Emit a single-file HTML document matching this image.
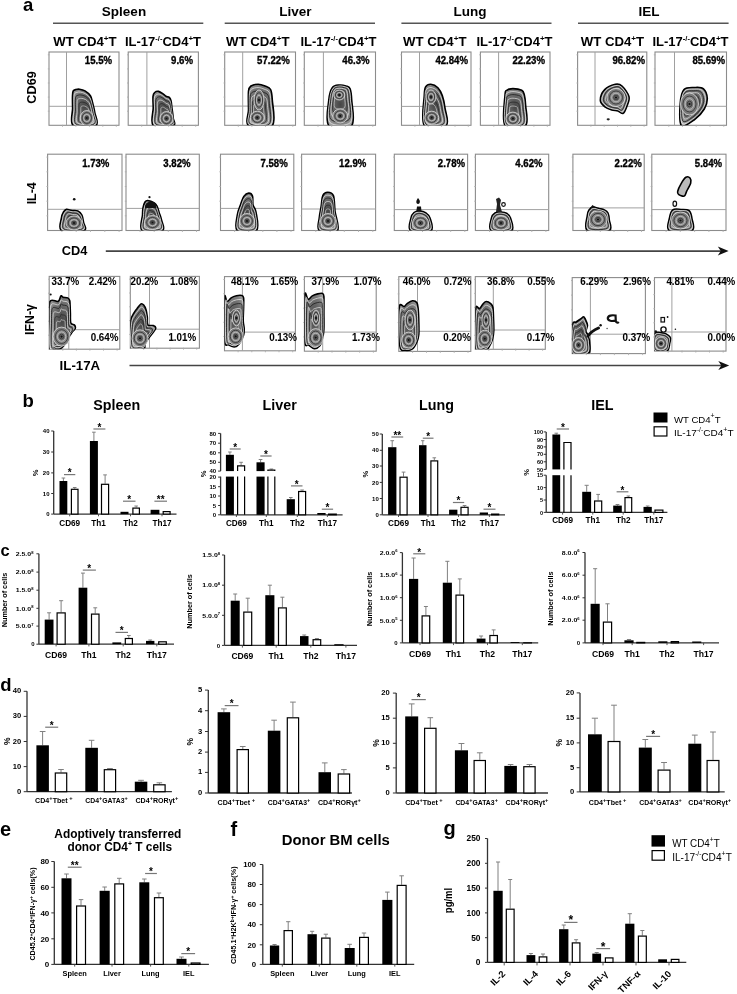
<!DOCTYPE html>
<html><head><meta charset="utf-8"><style>
html,body{margin:0;padding:0;background:#fff;}
svg{display:block;filter:grayscale(1) blur(0.35px);font-family:"Liberation Sans", sans-serif;}
</style></head><body>
<svg width="737" height="994" viewBox="0 0 737 994">
<defs><radialGradient id="bg" cx="0.5" cy="0.45" r="0.65"><stop offset="0" stop-color="#454545"/><stop offset="0.6" stop-color="#777"/><stop offset="1" stop-color="#b0b0b0"/></radialGradient></defs>
<rect width="737" height="994" fill="#fff"/>
<g id="panelA">
<text x="23.0" y="10.8" font-size="18.5" font-weight="bold" text-anchor="start" fill="#000" >a</text>
<text x="124.0" y="15.8" font-size="13.5" font-weight="bold" text-anchor="middle" fill="#000" >Spleen</text>
<text x="295.5" y="15.8" font-size="13.5" font-weight="bold" text-anchor="middle" fill="#000" >Liver</text>
<text x="470.0" y="15.8" font-size="13.5" font-weight="bold" text-anchor="middle" fill="#000" >Lung</text>
<text x="649.0" y="15.8" font-size="13.5" font-weight="bold" text-anchor="middle" fill="#000" >IEL</text>
<line x1="53.0" y1="23.3" x2="203.3" y2="23.3" stroke="#555" stroke-width="1.5"/>
<line x1="224.7" y1="23.3" x2="375.0" y2="23.3" stroke="#555" stroke-width="1.5"/>
<line x1="401.4" y1="23.3" x2="551.5" y2="23.3" stroke="#555" stroke-width="1.5"/>
<line x1="578.0" y1="23.3" x2="728.6" y2="23.3" stroke="#555" stroke-width="1.5"/>
<text x="53.2" y="46.2" font-size="13" font-weight="bold" textLength="63.5" lengthAdjust="spacingAndGlyphs">WT CD4<tspan dy="-5" font-size="8">+</tspan><tspan dy="5">T</tspan></text>
<text x="125.0" y="46.2" font-size="13" font-weight="bold" textLength="76" lengthAdjust="spacingAndGlyphs">IL-17<tspan dy="-5" font-size="7.5">-/-</tspan><tspan dy="5">CD4</tspan><tspan dy="-5" font-size="8">+</tspan><tspan dy="5">T</tspan></text>
<text x="226.0" y="46.2" font-size="13" font-weight="bold" textLength="63.5" lengthAdjust="spacingAndGlyphs">WT CD4<tspan dy="-5" font-size="8">+</tspan><tspan dy="5">T</tspan></text>
<text x="300.5" y="46.2" font-size="13" font-weight="bold" textLength="76" lengthAdjust="spacingAndGlyphs">IL-17<tspan dy="-5" font-size="7.5">-/-</tspan><tspan dy="5">CD4</tspan><tspan dy="-5" font-size="8">+</tspan><tspan dy="5">T</tspan></text>
<text x="403.0" y="46.2" font-size="13" font-weight="bold" textLength="63.5" lengthAdjust="spacingAndGlyphs">WT CD4<tspan dy="-5" font-size="8">+</tspan><tspan dy="5">T</tspan></text>
<text x="476.5" y="46.2" font-size="13" font-weight="bold" textLength="76" lengthAdjust="spacingAndGlyphs">IL-17<tspan dy="-5" font-size="7.5">-/-</tspan><tspan dy="5">CD4</tspan><tspan dy="-5" font-size="8">+</tspan><tspan dy="5">T</tspan></text>
<text x="580.7" y="46.2" font-size="13" font-weight="bold" textLength="63.5" lengthAdjust="spacingAndGlyphs">WT CD4<tspan dy="-5" font-size="8">+</tspan><tspan dy="5">T</tspan></text>
<text x="652.5" y="46.2" font-size="13" font-weight="bold" textLength="76" lengthAdjust="spacingAndGlyphs">IL-17<tspan dy="-5" font-size="7.5">-/-</tspan><tspan dy="5">CD4</tspan><tspan dy="-5" font-size="8">+</tspan><tspan dy="5">T</tspan></text>
<rect x="49.0" y="52.0" width="70.0" height="73.3" fill="none" stroke="#8c8c8c" stroke-width="1.1"/>
<line x1="66.5" y1="52.0" x2="66.5" y2="125.3" stroke="#a0a0a0" stroke-width="1"/>
<line x1="49.0" y1="106.3" x2="119.0" y2="106.3" stroke="#a0a0a0" stroke-width="1"/>
<line x1="47.8" y1="111.2" x2="49.5" y2="111.2" stroke="#aaa" stroke-width="0.8"/>
<line x1="62.5" y1="124.8" x2="62.5" y2="126.8" stroke="#aaa" stroke-width="0.8"/>
<line x1="47.8" y1="97.1" x2="49.5" y2="97.1" stroke="#aaa" stroke-width="0.8"/>
<line x1="75.9" y1="124.8" x2="75.9" y2="126.8" stroke="#aaa" stroke-width="0.8"/>
<line x1="47.8" y1="83.0" x2="49.5" y2="83.0" stroke="#aaa" stroke-width="0.8"/>
<line x1="89.4" y1="124.8" x2="89.4" y2="126.8" stroke="#aaa" stroke-width="0.8"/>
<line x1="47.8" y1="68.9" x2="49.5" y2="68.9" stroke="#aaa" stroke-width="0.8"/>
<line x1="102.8" y1="124.8" x2="102.8" y2="126.8" stroke="#aaa" stroke-width="0.8"/>
<line x1="47.8" y1="54.8" x2="49.5" y2="54.8" stroke="#aaa" stroke-width="0.8"/>
<line x1="116.3" y1="124.8" x2="116.3" y2="126.8" stroke="#aaa" stroke-width="0.8"/>
<rect x="128.2" y="52.0" width="70.2" height="73.3" fill="none" stroke="#8c8c8c" stroke-width="1.1"/>
<line x1="146.9" y1="52.0" x2="146.9" y2="125.3" stroke="#a0a0a0" stroke-width="1"/>
<line x1="128.2" y1="106.1" x2="198.4" y2="106.1" stroke="#a0a0a0" stroke-width="1"/>
<line x1="127.0" y1="111.2" x2="128.7" y2="111.2" stroke="#aaa" stroke-width="0.8"/>
<line x1="141.7" y1="124.8" x2="141.7" y2="126.8" stroke="#aaa" stroke-width="0.8"/>
<line x1="127.0" y1="97.1" x2="128.7" y2="97.1" stroke="#aaa" stroke-width="0.8"/>
<line x1="155.2" y1="124.8" x2="155.2" y2="126.8" stroke="#aaa" stroke-width="0.8"/>
<line x1="127.0" y1="83.0" x2="128.7" y2="83.0" stroke="#aaa" stroke-width="0.8"/>
<line x1="168.7" y1="124.8" x2="168.7" y2="126.8" stroke="#aaa" stroke-width="0.8"/>
<line x1="127.0" y1="68.9" x2="128.7" y2="68.9" stroke="#aaa" stroke-width="0.8"/>
<line x1="182.2" y1="124.8" x2="182.2" y2="126.8" stroke="#aaa" stroke-width="0.8"/>
<line x1="127.0" y1="54.8" x2="128.7" y2="54.8" stroke="#aaa" stroke-width="0.8"/>
<line x1="195.7" y1="124.8" x2="195.7" y2="126.8" stroke="#aaa" stroke-width="0.8"/>
<rect x="224.7" y="52.0" width="70.8" height="73.3" fill="none" stroke="#8c8c8c" stroke-width="1.1"/>
<line x1="242.7" y1="52.0" x2="242.7" y2="125.3" stroke="#a0a0a0" stroke-width="1"/>
<line x1="224.7" y1="106.1" x2="295.5" y2="106.1" stroke="#a0a0a0" stroke-width="1"/>
<line x1="223.5" y1="111.2" x2="225.2" y2="111.2" stroke="#aaa" stroke-width="0.8"/>
<line x1="238.3" y1="124.8" x2="238.3" y2="126.8" stroke="#aaa" stroke-width="0.8"/>
<line x1="223.5" y1="97.1" x2="225.2" y2="97.1" stroke="#aaa" stroke-width="0.8"/>
<line x1="251.9" y1="124.8" x2="251.9" y2="126.8" stroke="#aaa" stroke-width="0.8"/>
<line x1="223.5" y1="83.0" x2="225.2" y2="83.0" stroke="#aaa" stroke-width="0.8"/>
<line x1="265.5" y1="124.8" x2="265.5" y2="126.8" stroke="#aaa" stroke-width="0.8"/>
<line x1="223.5" y1="68.9" x2="225.2" y2="68.9" stroke="#aaa" stroke-width="0.8"/>
<line x1="279.2" y1="124.8" x2="279.2" y2="126.8" stroke="#aaa" stroke-width="0.8"/>
<line x1="223.5" y1="54.8" x2="225.2" y2="54.8" stroke="#aaa" stroke-width="0.8"/>
<line x1="292.8" y1="124.8" x2="292.8" y2="126.8" stroke="#aaa" stroke-width="0.8"/>
<rect x="304.3" y="52.0" width="71.2" height="73.3" fill="none" stroke="#8c8c8c" stroke-width="1.1"/>
<line x1="323.4" y1="52.0" x2="323.4" y2="125.3" stroke="#a0a0a0" stroke-width="1"/>
<line x1="304.3" y1="106.4" x2="375.5" y2="106.4" stroke="#a0a0a0" stroke-width="1"/>
<line x1="303.1" y1="111.2" x2="304.8" y2="111.2" stroke="#aaa" stroke-width="0.8"/>
<line x1="318.0" y1="124.8" x2="318.0" y2="126.8" stroke="#aaa" stroke-width="0.8"/>
<line x1="303.1" y1="97.1" x2="304.8" y2="97.1" stroke="#aaa" stroke-width="0.8"/>
<line x1="331.7" y1="124.8" x2="331.7" y2="126.8" stroke="#aaa" stroke-width="0.8"/>
<line x1="303.1" y1="83.0" x2="304.8" y2="83.0" stroke="#aaa" stroke-width="0.8"/>
<line x1="345.4" y1="124.8" x2="345.4" y2="126.8" stroke="#aaa" stroke-width="0.8"/>
<line x1="303.1" y1="68.9" x2="304.8" y2="68.9" stroke="#aaa" stroke-width="0.8"/>
<line x1="359.1" y1="124.8" x2="359.1" y2="126.8" stroke="#aaa" stroke-width="0.8"/>
<line x1="303.1" y1="54.8" x2="304.8" y2="54.8" stroke="#aaa" stroke-width="0.8"/>
<line x1="372.8" y1="124.8" x2="372.8" y2="126.8" stroke="#aaa" stroke-width="0.8"/>
<rect x="401.5" y="52.0" width="69.5" height="73.3" fill="none" stroke="#8c8c8c" stroke-width="1.1"/>
<line x1="419.5" y1="52.0" x2="419.5" y2="125.3" stroke="#a0a0a0" stroke-width="1"/>
<line x1="401.5" y1="106.4" x2="471.0" y2="106.4" stroke="#a0a0a0" stroke-width="1"/>
<line x1="400.3" y1="111.2" x2="402.0" y2="111.2" stroke="#aaa" stroke-width="0.8"/>
<line x1="414.9" y1="124.8" x2="414.9" y2="126.8" stroke="#aaa" stroke-width="0.8"/>
<line x1="400.3" y1="97.1" x2="402.0" y2="97.1" stroke="#aaa" stroke-width="0.8"/>
<line x1="428.2" y1="124.8" x2="428.2" y2="126.8" stroke="#aaa" stroke-width="0.8"/>
<line x1="400.3" y1="83.0" x2="402.0" y2="83.0" stroke="#aaa" stroke-width="0.8"/>
<line x1="441.6" y1="124.8" x2="441.6" y2="126.8" stroke="#aaa" stroke-width="0.8"/>
<line x1="400.3" y1="68.9" x2="402.0" y2="68.9" stroke="#aaa" stroke-width="0.8"/>
<line x1="455.0" y1="124.8" x2="455.0" y2="126.8" stroke="#aaa" stroke-width="0.8"/>
<line x1="400.3" y1="54.8" x2="402.0" y2="54.8" stroke="#aaa" stroke-width="0.8"/>
<line x1="468.3" y1="124.8" x2="468.3" y2="126.8" stroke="#aaa" stroke-width="0.8"/>
<rect x="480.4" y="52.0" width="69.6" height="73.3" fill="none" stroke="#8c8c8c" stroke-width="1.1"/>
<line x1="498.6" y1="52.0" x2="498.6" y2="125.3" stroke="#a0a0a0" stroke-width="1"/>
<line x1="480.4" y1="106.4" x2="550.0" y2="106.4" stroke="#a0a0a0" stroke-width="1"/>
<line x1="479.2" y1="111.2" x2="480.9" y2="111.2" stroke="#aaa" stroke-width="0.8"/>
<line x1="493.8" y1="124.8" x2="493.8" y2="126.8" stroke="#aaa" stroke-width="0.8"/>
<line x1="479.2" y1="97.1" x2="480.9" y2="97.1" stroke="#aaa" stroke-width="0.8"/>
<line x1="507.2" y1="124.8" x2="507.2" y2="126.8" stroke="#aaa" stroke-width="0.8"/>
<line x1="479.2" y1="83.0" x2="480.9" y2="83.0" stroke="#aaa" stroke-width="0.8"/>
<line x1="520.6" y1="124.8" x2="520.6" y2="126.8" stroke="#aaa" stroke-width="0.8"/>
<line x1="479.2" y1="68.9" x2="480.9" y2="68.9" stroke="#aaa" stroke-width="0.8"/>
<line x1="533.9" y1="124.8" x2="533.9" y2="126.8" stroke="#aaa" stroke-width="0.8"/>
<line x1="479.2" y1="54.8" x2="480.9" y2="54.8" stroke="#aaa" stroke-width="0.8"/>
<line x1="547.3" y1="124.8" x2="547.3" y2="126.8" stroke="#aaa" stroke-width="0.8"/>
<rect x="577.6" y="52.0" width="69.2" height="73.3" fill="none" stroke="#8c8c8c" stroke-width="1.1"/>
<line x1="595.0" y1="52.0" x2="595.0" y2="125.3" stroke="#a0a0a0" stroke-width="1"/>
<line x1="577.6" y1="106.3" x2="646.8" y2="106.3" stroke="#a0a0a0" stroke-width="1"/>
<line x1="576.4" y1="111.2" x2="578.1" y2="111.2" stroke="#aaa" stroke-width="0.8"/>
<line x1="590.9" y1="124.8" x2="590.9" y2="126.8" stroke="#aaa" stroke-width="0.8"/>
<line x1="576.4" y1="97.1" x2="578.1" y2="97.1" stroke="#aaa" stroke-width="0.8"/>
<line x1="604.2" y1="124.8" x2="604.2" y2="126.8" stroke="#aaa" stroke-width="0.8"/>
<line x1="576.4" y1="83.0" x2="578.1" y2="83.0" stroke="#aaa" stroke-width="0.8"/>
<line x1="617.5" y1="124.8" x2="617.5" y2="126.8" stroke="#aaa" stroke-width="0.8"/>
<line x1="576.4" y1="68.9" x2="578.1" y2="68.9" stroke="#aaa" stroke-width="0.8"/>
<line x1="630.8" y1="124.8" x2="630.8" y2="126.8" stroke="#aaa" stroke-width="0.8"/>
<line x1="576.4" y1="54.8" x2="578.1" y2="54.8" stroke="#aaa" stroke-width="0.8"/>
<line x1="644.1" y1="124.8" x2="644.1" y2="126.8" stroke="#aaa" stroke-width="0.8"/>
<rect x="655.0" y="52.0" width="71.5" height="73.3" fill="none" stroke="#8c8c8c" stroke-width="1.1"/>
<line x1="674.5" y1="52.0" x2="674.5" y2="125.3" stroke="#a0a0a0" stroke-width="1"/>
<line x1="655.0" y1="106.3" x2="726.5" y2="106.3" stroke="#a0a0a0" stroke-width="1"/>
<line x1="653.8" y1="111.2" x2="655.5" y2="111.2" stroke="#aaa" stroke-width="0.8"/>
<line x1="668.8" y1="124.8" x2="668.8" y2="126.8" stroke="#aaa" stroke-width="0.8"/>
<line x1="653.8" y1="97.1" x2="655.5" y2="97.1" stroke="#aaa" stroke-width="0.8"/>
<line x1="682.5" y1="124.8" x2="682.5" y2="126.8" stroke="#aaa" stroke-width="0.8"/>
<line x1="653.8" y1="83.0" x2="655.5" y2="83.0" stroke="#aaa" stroke-width="0.8"/>
<line x1="696.2" y1="124.8" x2="696.2" y2="126.8" stroke="#aaa" stroke-width="0.8"/>
<line x1="653.8" y1="68.9" x2="655.5" y2="68.9" stroke="#aaa" stroke-width="0.8"/>
<line x1="710.0" y1="124.8" x2="710.0" y2="126.8" stroke="#aaa" stroke-width="0.8"/>
<line x1="653.8" y1="54.8" x2="655.5" y2="54.8" stroke="#aaa" stroke-width="0.8"/>
<line x1="723.8" y1="124.8" x2="723.8" y2="126.8" stroke="#aaa" stroke-width="0.8"/>
<text x="84.8" y="64.0" font-size="10.6" font-weight="bold" stroke="#000" stroke-width="0.35" textLength="27.2" lengthAdjust="spacingAndGlyphs">15.5%</text>
<text x="171.1" y="64.0" font-size="10.6" font-weight="bold" stroke="#000" stroke-width="0.35" textLength="21.9" lengthAdjust="spacingAndGlyphs">9.6%</text>
<text x="257.1" y="64.0" font-size="10.6" font-weight="bold" stroke="#000" stroke-width="0.35" textLength="32.6" lengthAdjust="spacingAndGlyphs">57.22%</text>
<text x="342.3" y="64.0" font-size="10.6" font-weight="bold" stroke="#000" stroke-width="0.35" textLength="27.2" lengthAdjust="spacingAndGlyphs">46.3%</text>
<text x="435.4" y="64.0" font-size="10.6" font-weight="bold" stroke="#000" stroke-width="0.35" textLength="32.6" lengthAdjust="spacingAndGlyphs">42.84%</text>
<text x="512.4" y="64.0" font-size="10.6" font-weight="bold" stroke="#000" stroke-width="0.35" textLength="32.6" lengthAdjust="spacingAndGlyphs">22.23%</text>
<text x="612.4" y="64.0" font-size="10.6" font-weight="bold" stroke="#000" stroke-width="0.35" textLength="32.6" lengthAdjust="spacingAndGlyphs">96.82%</text>
<text x="692.4" y="64.0" font-size="10.6" font-weight="bold" stroke="#000" stroke-width="0.35" textLength="32.6" lengthAdjust="spacingAndGlyphs">85.69%</text>
<clipPath id="c1"><rect x="0" y="52" width="737" height="73.3"/></clipPath>
<g clip-path="url(#c1)">
<path d="M73.30,125.50 C69.42,122.58 72.73,112.92 72.60,108.00 C72.47,103.08 72.40,98.83 72.50,96.00 C72.60,93.17 72.62,92.08 73.20,91.00 C73.78,89.92 74.95,89.80 76.00,89.50 C77.05,89.20 78.00,88.97 79.50,89.20 C81.00,89.43 83.18,89.80 85.00,90.90 C86.82,92.00 89.13,93.82 90.40,95.80 C91.67,97.78 91.87,100.00 92.60,102.80 C93.33,105.60 94.25,108.82 94.80,112.60 C95.35,116.38 99.48,123.35 95.90,125.50 C92.32,127.65 77.18,128.42 73.30,125.50Z" fill="url(#bg)" stroke="#000" stroke-width="1.6" stroke-linejoin="round"/>
<path d="M74.65,124.75 C71.15,122.12 74.14,113.42 74.02,109.00 C73.90,104.58 73.84,100.75 73.93,98.20 C74.02,95.65 74.03,94.68 74.56,93.70 C75.09,92.72 76.13,92.62 77.08,92.35 C78.03,92.08 78.88,91.87 80.23,92.08 C81.58,92.29 83.55,92.62 85.18,93.61 C86.82,94.60 88.90,96.23 90.04,98.02 C91.18,99.80 91.36,101.80 92.02,104.32 C92.68,106.84 93.50,109.73 94.00,113.14 C94.50,116.55 98.22,122.81 94.99,124.75 C91.77,126.69 78.14,127.38 74.65,124.75Z" fill="none" stroke="#f2f2f2" stroke-width="0.7"/>
<path d="M76.00,124.00 C72.89,121.67 75.55,113.93 75.44,110.00 C75.33,106.07 75.28,102.67 75.36,100.40 C75.44,98.13 75.45,97.27 75.92,96.40 C76.39,95.53 77.32,95.44 78.16,95.20 C79.00,94.96 79.76,94.77 80.96,94.96 C82.16,95.15 83.91,95.44 85.36,96.32 C86.81,97.20 88.67,98.65 89.68,100.24 C90.69,101.83 90.85,103.60 91.44,105.84 C92.03,108.08 92.76,110.65 93.20,113.68 C93.64,116.71 96.95,122.28 94.08,124.00 C91.21,125.72 79.11,126.33 76.00,124.00Z" fill="none" stroke="#1a1a1a" stroke-width="0.8"/>
<path d="M77.62,123.10 C74.98,121.12 77.23,114.54 77.14,111.20 C77.05,107.86 77.01,104.97 77.08,103.04 C77.14,101.11 77.16,100.38 77.55,99.64 C77.95,98.90 78.74,98.82 79.46,98.62 C80.17,98.42 80.82,98.26 81.84,98.42 C82.86,98.57 84.34,98.82 85.58,99.57 C86.81,100.32 88.39,101.56 89.25,102.90 C90.11,104.25 90.25,105.76 90.74,107.66 C91.24,109.57 91.87,111.76 92.24,114.33 C92.61,116.90 95.42,121.64 92.99,123.10 C90.55,124.56 80.26,125.08 77.62,123.10Z" fill="none" stroke="#e8e8e8" stroke-width="0.7"/>
<path d="M79.38,122.12 C77.24,120.52 79.06,115.20 78.99,112.50 C78.92,109.80 78.88,107.46 78.94,105.90 C78.99,104.34 79.00,103.75 79.32,103.15 C79.64,102.55 80.28,102.49 80.86,102.33 C81.44,102.16 81.96,102.03 82.78,102.16 C83.61,102.29 84.81,102.49 85.81,103.09 C86.81,103.70 88.08,104.70 88.78,105.79 C89.48,106.88 89.59,108.10 89.99,109.64 C90.39,111.18 90.90,112.95 91.20,115.03 C91.50,117.11 93.78,120.94 91.81,122.12 C89.83,123.31 81.51,123.73 79.38,122.12Z" fill="none" stroke="#222" stroke-width="0.7"/>
<path d="M81.13,121.15 C79.50,119.93 80.89,115.86 80.84,113.80 C80.78,111.73 80.75,109.95 80.79,108.76 C80.84,107.57 80.84,107.11 81.09,106.66 C81.33,106.20 81.82,106.16 82.26,106.03 C82.70,105.90 83.10,105.81 83.73,105.90 C84.36,106.00 85.28,106.16 86.04,106.62 C86.81,107.08 87.78,107.84 88.31,108.68 C88.84,109.51 88.93,110.44 89.24,111.62 C89.54,112.79 89.93,114.14 90.16,115.73 C90.39,117.32 92.13,120.25 90.62,121.15 C89.12,122.05 82.76,122.38 81.13,121.15Z" fill="none" stroke="#ddd" stroke-width="0.6"/>
<ellipse cx="86.8" cy="118.0" rx="6.50" ry="7.50" fill="#7a7a7a" stroke="#eee" stroke-width="0.7"/>
<ellipse cx="86.8" cy="118.0" rx="4.68" ry="5.40" fill="#8a8a8a" stroke="#222" stroke-width="0.7"/>
<ellipse cx="86.8" cy="118.0" rx="3.12" ry="3.60" fill="#777" stroke="#ddd" stroke-width="0.6"/>
<ellipse cx="86.8" cy="118.0" rx="1.69" ry="1.95" fill="#666" stroke="#222" stroke-width="0.6"/>
<circle cx="86.8" cy="118.0" r="1.1" fill="#111"/>
</g>
<clipPath id="c2"><rect x="0" y="52" width="737" height="73.3"/></clipPath>
<g clip-path="url(#c2)">
<path d="M153.30,125.50 C149.97,122.58 153.25,112.87 153.20,108.00 C153.15,103.13 152.75,98.88 153.00,96.30 C153.25,93.72 153.78,93.32 154.70,92.50 C155.62,91.68 157.05,91.13 158.50,91.40 C159.95,91.67 162.15,93.28 163.40,94.10 C164.65,94.92 165.02,95.75 166.00,96.30 C166.98,96.85 168.47,96.67 169.30,97.40 C170.13,98.13 170.55,98.88 171.00,100.70 C171.45,102.52 171.63,105.42 172.00,108.30 C172.37,111.18 173.00,115.13 173.20,118.00 C173.40,120.87 176.52,124.25 173.20,125.50 C169.88,126.75 156.63,128.42 153.30,125.50Z" fill="url(#bg)" stroke="#000" stroke-width="1.6" stroke-linejoin="round"/>
<path d="M154.62,124.80 C151.62,122.17 154.57,113.43 154.53,109.05 C154.49,104.67 154.12,100.84 154.35,98.52 C154.57,96.19 155.06,95.83 155.88,95.10 C156.70,94.36 158.00,93.87 159.30,94.11 C160.61,94.35 162.59,95.80 163.71,96.54 C164.84,97.27 165.17,98.02 166.05,98.52 C166.94,99.02 168.27,98.85 169.02,99.51 C169.77,100.17 170.15,100.84 170.55,102.48 C170.96,104.12 171.12,106.72 171.45,109.32 C171.78,111.91 172.35,115.47 172.53,118.05 C172.71,120.63 175.51,123.67 172.53,124.80 C169.55,125.92 157.62,127.42 154.62,124.80Z" fill="none" stroke="#f2f2f2" stroke-width="0.7"/>
<path d="M155.94,124.10 C153.27,121.77 155.90,113.99 155.86,110.10 C155.82,106.21 155.50,102.81 155.70,100.74 C155.90,98.67 156.33,98.35 157.06,97.70 C157.79,97.05 158.94,96.61 160.10,96.82 C161.26,97.03 163.02,98.33 164.02,98.98 C165.02,99.63 165.31,100.30 166.10,100.74 C166.89,101.18 168.07,101.03 168.74,101.62 C169.41,102.21 169.74,102.81 170.10,104.26 C170.46,105.71 170.61,108.03 170.90,110.34 C171.19,112.65 171.70,115.81 171.86,118.10 C172.02,120.39 174.51,123.10 171.86,124.10 C169.21,125.10 158.61,126.43 155.94,124.10Z" fill="none" stroke="#1a1a1a" stroke-width="0.8"/>
<path d="M157.52,123.26 C155.26,121.28 157.49,114.67 157.46,111.36 C157.42,108.05 157.15,105.16 157.32,103.40 C157.49,101.65 157.85,101.38 158.48,100.82 C159.10,100.26 160.07,99.89 161.06,100.07 C162.05,100.25 163.54,101.35 164.39,101.91 C165.24,102.46 165.49,103.03 166.16,103.40 C166.83,103.78 167.84,103.65 168.40,104.15 C168.97,104.65 169.25,105.16 169.56,106.40 C169.87,107.63 169.99,109.60 170.24,111.56 C170.49,113.52 170.92,116.21 171.06,118.16 C171.19,120.11 173.31,122.41 171.06,123.26 C168.80,124.11 159.79,125.24 157.52,123.26Z" fill="none" stroke="#e8e8e8" stroke-width="0.7"/>
<path d="M159.24,122.35 C157.41,120.75 159.21,115.40 159.19,112.72 C159.16,110.05 158.94,107.71 159.07,106.29 C159.21,104.87 159.51,104.65 160.01,104.20 C160.51,103.75 161.30,103.45 162.10,103.59 C162.90,103.74 164.11,104.63 164.80,105.08 C165.48,105.53 165.68,105.99 166.22,106.29 C166.77,106.59 167.58,106.49 168.04,106.89 C168.50,107.30 168.73,107.71 168.97,108.71 C169.22,109.71 169.32,111.30 169.53,112.89 C169.73,114.48 170.07,116.65 170.19,118.22 C170.30,119.80 172.01,121.66 170.19,122.35 C168.36,123.04 161.07,123.95 159.24,122.35Z" fill="none" stroke="#222" stroke-width="0.7"/>
<path d="M160.96,121.44 C159.56,120.22 160.94,116.13 160.91,114.09 C160.89,112.05 160.73,110.26 160.83,109.18 C160.94,108.09 161.16,107.92 161.54,107.58 C161.93,107.24 162.53,107.01 163.14,107.12 C163.75,107.23 164.67,107.91 165.20,108.25 C165.72,108.59 165.88,108.94 166.29,109.18 C166.70,109.41 167.33,109.33 167.68,109.64 C168.03,109.95 168.20,110.26 168.39,111.02 C168.58,111.79 168.66,113.00 168.81,114.22 C168.96,115.43 169.23,117.09 169.31,118.29 C169.40,119.49 170.71,120.91 169.31,121.44 C167.92,121.97 162.36,122.66 160.96,121.44Z" fill="none" stroke="#ddd" stroke-width="0.6"/>
<ellipse cx="166.5" cy="118.5" rx="6.50" ry="7.00" fill="#7a7a7a" stroke="#eee" stroke-width="0.7"/>
<ellipse cx="166.5" cy="118.5" rx="4.68" ry="5.04" fill="#8a8a8a" stroke="#222" stroke-width="0.7"/>
<ellipse cx="166.5" cy="118.5" rx="3.12" ry="3.36" fill="#777" stroke="#ddd" stroke-width="0.6"/>
<ellipse cx="166.5" cy="118.5" rx="1.69" ry="1.82" fill="#666" stroke="#222" stroke-width="0.6"/>
<circle cx="166.5" cy="118.5" r="1.1" fill="#111"/>
</g>
<clipPath id="c3"><rect x="0" y="52" width="737" height="73.3"/></clipPath>
<g clip-path="url(#c3)">
<path d="M248.50,125.50 C244.53,122.92 248.50,115.72 248.50,110.00 C248.50,104.28 248.08,95.20 248.50,91.20 C248.92,87.20 249.38,87.17 251.00,86.00 C252.62,84.83 255.87,84.20 258.20,84.20 C260.53,84.20 262.93,85.12 265.00,86.00 C267.07,86.88 269.38,87.17 270.60,89.50 C271.82,91.83 272.02,94.00 272.30,100.00 C272.58,106.00 276.27,121.25 272.30,125.50 C268.33,129.75 252.47,128.08 248.50,125.50Z" fill="url(#bg)" stroke="#000" stroke-width="1.6" stroke-linejoin="round"/>
<path d="M249.38,124.72 C245.81,122.39 249.38,115.91 249.38,110.77 C249.38,105.62 249.00,97.45 249.38,93.85 C249.75,90.25 250.17,90.22 251.63,89.17 C253.09,88.12 256.01,87.55 258.11,87.55 C260.21,87.55 262.37,88.38 264.23,89.17 C266.09,89.97 268.18,90.22 269.27,92.32 C270.37,94.42 270.55,96.37 270.80,101.77 C271.06,107.17 274.37,120.89 270.80,124.72 C267.23,128.54 252.95,127.05 249.38,124.72Z" fill="none" stroke="#f2f2f2" stroke-width="0.7"/>
<path d="M250.26,123.94 C247.09,121.87 250.26,116.11 250.26,111.54 C250.26,106.97 249.93,99.70 250.26,96.50 C250.59,93.30 250.97,93.27 252.26,92.34 C253.55,91.41 256.15,90.90 258.02,90.90 C259.89,90.90 261.81,91.63 263.46,92.34 C265.11,93.05 266.97,93.27 267.94,95.14 C268.91,97.01 269.07,98.74 269.30,103.54 C269.53,108.34 272.47,120.54 269.30,123.94 C266.13,127.34 253.43,126.01 250.26,123.94Z" fill="none" stroke="#1a1a1a" stroke-width="0.8"/>
<path d="M251.32,123.00 C248.62,121.25 251.32,116.35 251.32,112.46 C251.32,108.58 251.03,102.40 251.32,99.68 C251.60,96.96 251.92,96.94 253.02,96.14 C254.12,95.35 256.33,94.92 257.91,94.92 C259.50,94.92 261.13,95.54 262.54,96.14 C263.94,96.74 265.52,96.94 266.34,98.52 C267.17,100.11 267.31,101.58 267.50,105.66 C267.69,109.74 270.20,120.11 267.50,123.00 C264.80,125.89 254.01,124.76 251.32,123.00Z" fill="none" stroke="#e8e8e8" stroke-width="0.7"/>
<path d="M252.46,121.99 C250.28,120.57 252.46,116.61 252.46,113.47 C252.46,110.32 252.23,105.33 252.46,103.12 C252.69,100.92 252.95,100.91 253.84,100.27 C254.72,99.62 256.51,99.28 257.80,99.28 C259.08,99.28 260.40,99.78 261.54,100.27 C262.67,100.75 263.95,100.91 264.62,102.19 C265.28,103.47 265.39,104.67 265.55,107.97 C265.71,111.27 267.73,119.65 265.55,121.99 C263.37,124.33 254.64,123.41 252.46,121.99Z" fill="none" stroke="#222" stroke-width="0.7"/>
<path d="M253.60,120.98 C251.94,119.89 253.60,116.87 253.60,114.47 C253.60,112.07 253.43,108.25 253.60,106.57 C253.78,104.89 253.97,104.88 254.65,104.39 C255.33,103.90 256.70,103.63 257.68,103.63 C258.66,103.63 259.67,104.02 260.53,104.39 C261.40,104.76 262.38,104.88 262.89,105.86 C263.40,106.84 263.48,107.75 263.60,110.27 C263.72,112.79 265.27,119.19 263.60,120.98 C261.93,122.76 255.27,122.06 253.60,120.98Z" fill="none" stroke="#ddd" stroke-width="0.6"/>
<ellipse cx="257.3" cy="117.7" rx="7.00" ry="6.50" fill="#7a7a7a" stroke="#eee" stroke-width="0.7"/>
<ellipse cx="257.3" cy="117.7" rx="5.04" ry="4.68" fill="#8a8a8a" stroke="#222" stroke-width="0.7"/>
<ellipse cx="257.3" cy="117.7" rx="3.36" ry="3.12" fill="#777" stroke="#ddd" stroke-width="0.6"/>
<ellipse cx="257.3" cy="117.7" rx="1.82" ry="1.69" fill="#666" stroke="#222" stroke-width="0.6"/>
<circle cx="257.3" cy="117.7" r="1.1" fill="#111"/>
<ellipse cx="259.0" cy="100.0" rx="5.00" ry="10.00" fill="#7a7a7a" stroke="#eee" stroke-width="0.7"/>
<ellipse cx="259.0" cy="100.0" rx="3.60" ry="7.20" fill="#8a8a8a" stroke="#222" stroke-width="0.7"/>
<ellipse cx="259.0" cy="100.0" rx="2.40" ry="4.80" fill="#777" stroke="#ddd" stroke-width="0.6"/>
<ellipse cx="259.0" cy="100.0" rx="1.30" ry="2.60" fill="#666" stroke="#222" stroke-width="0.6"/>
<circle cx="259.0" cy="100.0" r="1.1" fill="#111"/>
</g>
<clipPath id="c4"><rect x="0" y="52" width="737" height="73.3"/></clipPath>
<g clip-path="url(#c4)">
<path d="M328.80,125.50 C324.98,121.25 328.22,106.30 328.80,100.00 C329.38,93.70 330.55,90.20 332.30,87.70 C334.05,85.20 337.02,85.28 339.30,85.00 C341.58,84.72 344.22,85.40 346.00,86.00 C347.78,86.60 349.05,86.27 350.00,88.60 C350.95,90.93 351.42,93.85 351.70,100.00 C351.98,106.15 355.52,121.25 351.70,125.50 C347.88,129.75 332.62,129.75 328.80,125.50Z" fill="url(#bg)" stroke="#000" stroke-width="1.6" stroke-linejoin="round"/>
<path d="M329.85,122.45 C326.42,118.62 329.33,105.17 329.85,99.50 C330.38,93.83 331.43,90.68 333.00,88.43 C334.57,86.18 337.25,86.25 339.30,86.00 C341.36,85.75 343.72,86.36 345.33,86.90 C346.94,87.44 348.07,87.14 348.93,89.24 C349.79,91.34 350.20,93.97 350.46,99.50 C350.71,105.03 353.89,118.62 350.46,122.45 C347.02,126.28 333.29,126.28 329.85,122.45Z" fill="none" stroke="#f2f2f2" stroke-width="0.7"/>
<path d="M330.90,119.40 C327.85,116.00 330.43,104.04 330.90,99.00 C331.37,93.96 332.30,91.16 333.70,89.16 C335.10,87.16 337.47,87.23 339.30,87.00 C341.13,86.77 343.23,87.32 344.66,87.80 C346.09,88.28 347.10,88.01 347.86,89.88 C348.62,91.75 348.99,94.08 349.22,99.00 C349.45,103.92 352.27,116.00 349.22,119.40 C346.17,122.80 333.95,122.80 330.90,119.40Z" fill="none" stroke="#1a1a1a" stroke-width="0.8"/>
<path d="M332.16,115.74 C329.56,112.85 331.76,102.68 332.16,98.40 C332.56,94.12 333.35,91.74 334.54,90.04 C335.73,88.34 337.75,88.39 339.30,88.20 C340.85,88.01 342.64,88.47 343.86,88.88 C345.07,89.29 345.93,89.06 346.58,90.65 C347.22,92.23 347.54,94.22 347.73,98.40 C347.92,102.58 350.33,112.85 347.73,115.74 C345.14,118.63 334.76,118.63 332.16,115.74Z" fill="none" stroke="#e8e8e8" stroke-width="0.7"/>
<path d="M333.53,111.78 C331.43,109.44 333.20,101.22 333.53,97.75 C333.85,94.28 334.49,92.36 335.45,90.98 C336.41,89.61 338.04,89.66 339.30,89.50 C340.56,89.34 342.00,89.72 342.99,90.05 C343.97,90.38 344.66,90.20 345.19,91.48 C345.71,92.76 345.96,94.37 346.12,97.75 C346.28,101.13 348.22,109.44 346.12,111.78 C344.02,114.11 335.62,114.11 333.53,111.78Z" fill="none" stroke="#222" stroke-width="0.7"/>
<path d="M334.89,107.81 C333.29,106.03 334.64,99.75 334.89,97.10 C335.13,94.45 335.62,92.98 336.36,91.93 C337.10,90.88 338.34,90.92 339.30,90.80 C340.26,90.68 341.37,90.97 342.11,91.22 C342.86,91.47 343.39,91.33 343.79,92.31 C344.19,93.29 344.39,94.52 344.51,97.10 C344.63,99.68 346.11,106.03 344.51,107.81 C342.90,109.59 336.49,109.59 334.89,107.81Z" fill="none" stroke="#ddd" stroke-width="0.6"/>
<ellipse cx="339.3" cy="95.0" rx="5.50" ry="5.00" fill="#7a7a7a" stroke="#eee" stroke-width="0.7"/>
<ellipse cx="339.3" cy="95.0" rx="3.96" ry="3.60" fill="#8a8a8a" stroke="#222" stroke-width="0.7"/>
<ellipse cx="339.3" cy="95.0" rx="2.64" ry="2.40" fill="#777" stroke="#ddd" stroke-width="0.6"/>
<ellipse cx="339.3" cy="95.0" rx="1.43" ry="1.30" fill="#666" stroke="#222" stroke-width="0.6"/>
<circle cx="339.3" cy="95.0" r="1.1" fill="#111"/>
<ellipse cx="340.2" cy="115.9" rx="7.50" ry="7.00" fill="#7a7a7a" stroke="#eee" stroke-width="0.7"/>
<ellipse cx="340.2" cy="115.9" rx="5.40" ry="5.04" fill="#8a8a8a" stroke="#222" stroke-width="0.7"/>
<ellipse cx="340.2" cy="115.9" rx="3.60" ry="3.36" fill="#777" stroke="#ddd" stroke-width="0.6"/>
<ellipse cx="340.2" cy="115.9" rx="1.95" ry="1.82" fill="#666" stroke="#222" stroke-width="0.6"/>
<circle cx="340.2" cy="115.9" r="1.1" fill="#111"/>
</g>
<clipPath id="c5"><rect x="0" y="52" width="737" height="73.3"/></clipPath>
<g clip-path="url(#c5)">
<path d="M424.30,125.50 C420.65,120.42 424.08,101.45 424.30,95.00 C424.52,88.55 424.50,88.60 425.60,86.80 C426.70,85.00 428.85,84.05 430.90,84.20 C432.95,84.35 436.00,85.80 437.90,87.70 C439.80,89.60 441.12,92.22 442.30,95.60 C443.48,98.98 444.35,103.02 445.00,108.00 C445.65,112.98 449.65,122.58 446.20,125.50 C442.75,128.42 427.95,130.58 424.30,125.50Z" fill="url(#bg)" stroke="#000" stroke-width="1.6" stroke-linejoin="round"/>
<path d="M425.04,124.72 C421.75,120.14 424.85,103.07 425.04,97.27 C425.24,91.47 425.22,91.51 426.21,89.89 C427.20,88.27 429.13,87.41 430.98,87.55 C432.82,87.69 435.57,88.99 437.28,90.70 C438.99,92.41 440.18,94.77 441.24,97.81 C442.31,100.86 443.09,104.48 443.67,108.97 C444.25,113.45 447.86,122.09 444.75,124.72 C441.64,127.34 428.33,129.29 425.04,124.72Z" fill="none" stroke="#f2f2f2" stroke-width="0.7"/>
<path d="M425.78,123.94 C422.86,119.87 425.61,104.70 425.78,99.54 C425.95,94.38 425.94,94.42 426.82,92.98 C427.70,91.54 429.42,90.78 431.06,90.90 C432.70,91.02 435.14,92.18 436.66,93.70 C438.18,95.22 439.23,97.31 440.18,100.02 C441.13,102.73 441.82,105.95 442.34,109.94 C442.86,113.93 446.06,121.61 443.30,123.94 C440.54,126.27 428.70,128.01 425.78,123.94Z" fill="none" stroke="#1a1a1a" stroke-width="0.8"/>
<path d="M426.67,123.00 C424.19,119.55 426.52,106.65 426.67,102.26 C426.82,97.88 426.80,97.91 427.55,96.69 C428.30,95.46 429.76,94.82 431.16,94.92 C432.55,95.02 434.62,96.01 435.92,97.30 C437.21,98.59 438.10,100.37 438.91,102.67 C439.71,104.97 440.30,107.72 440.74,111.10 C441.19,114.49 443.91,121.02 441.56,123.00 C439.21,124.99 429.15,126.46 426.67,123.00Z" fill="none" stroke="#e8e8e8" stroke-width="0.7"/>
<path d="M427.63,121.99 C425.62,119.19 427.51,108.76 427.63,105.22 C427.75,101.67 427.74,101.69 428.35,100.70 C428.95,99.72 430.13,99.19 431.26,99.28 C432.39,99.36 434.06,100.16 435.11,101.20 C436.15,102.25 436.88,103.68 437.53,105.55 C438.18,107.41 438.66,109.62 439.01,112.36 C439.37,115.11 441.57,120.39 439.68,121.99 C437.78,123.59 429.64,124.79 427.63,121.99Z" fill="none" stroke="#222" stroke-width="0.7"/>
<path d="M428.59,120.98 C427.06,118.84 428.50,110.88 428.59,108.17 C428.68,105.46 428.68,105.48 429.14,104.72 C429.60,103.97 430.50,103.57 431.36,103.63 C432.22,103.69 433.51,104.30 434.30,105.10 C435.10,105.90 435.65,107.00 436.15,108.42 C436.65,109.84 437.01,111.53 437.29,113.63 C437.56,115.72 439.24,119.75 437.79,120.98 C436.34,122.20 430.12,123.11 428.59,120.98Z" fill="none" stroke="#ddd" stroke-width="0.6"/>
<ellipse cx="431.7" cy="117.7" rx="7.00" ry="6.50" fill="#7a7a7a" stroke="#eee" stroke-width="0.7"/>
<ellipse cx="431.7" cy="117.7" rx="5.04" ry="4.68" fill="#8a8a8a" stroke="#222" stroke-width="0.7"/>
<ellipse cx="431.7" cy="117.7" rx="3.36" ry="3.12" fill="#777" stroke="#ddd" stroke-width="0.6"/>
<ellipse cx="431.7" cy="117.7" rx="1.82" ry="1.69" fill="#666" stroke="#222" stroke-width="0.6"/>
<circle cx="431.7" cy="117.7" r="1.1" fill="#111"/>
<ellipse cx="431.0" cy="97.0" rx="5.00" ry="7.00" fill="#7a7a7a" stroke="#eee" stroke-width="0.7"/>
<ellipse cx="431.0" cy="97.0" rx="3.60" ry="5.04" fill="#8a8a8a" stroke="#222" stroke-width="0.7"/>
<ellipse cx="431.0" cy="97.0" rx="2.40" ry="3.36" fill="#777" stroke="#ddd" stroke-width="0.6"/>
<ellipse cx="431.0" cy="97.0" rx="1.30" ry="1.82" fill="#666" stroke="#222" stroke-width="0.6"/>
<circle cx="431.0" cy="97.0" r="1.1" fill="#111"/>
</g>
<clipPath id="c6"><rect x="0" y="52" width="737" height="73.3"/></clipPath>
<g clip-path="url(#c6)">
<path d="M505.00,125.50 C501.57,120.42 504.72,100.87 505.00,95.00 C505.28,89.13 505.38,91.37 506.70,90.30 C508.02,89.23 510.40,88.60 512.90,88.60 C515.40,88.60 519.80,89.27 521.70,90.30 C523.60,91.33 523.65,92.35 524.30,94.80 C524.95,97.25 525.38,99.88 525.60,105.00 C525.82,110.12 529.03,122.08 525.60,125.50 C522.17,128.92 508.43,130.58 505.00,125.50Z" fill="url(#bg)" stroke="#000" stroke-width="1.6" stroke-linejoin="round"/>
<path d="M505.79,124.81 C502.70,120.23 505.54,102.64 505.79,97.36 C506.05,92.08 506.13,94.09 507.32,93.13 C508.50,92.17 510.65,91.60 512.90,91.60 C515.15,91.60 519.11,92.20 520.82,93.13 C522.53,94.06 522.57,94.97 523.16,97.18 C523.75,99.38 524.13,101.75 524.33,106.36 C524.53,110.97 527.42,121.73 524.33,124.81 C521.24,127.89 508.88,129.38 505.79,124.81Z" fill="none" stroke="#f2f2f2" stroke-width="0.7"/>
<path d="M506.58,124.12 C503.83,120.05 506.35,104.41 506.58,99.72 C506.81,95.03 506.89,96.81 507.94,95.96 C508.99,95.11 510.90,94.60 512.90,94.60 C514.90,94.60 518.42,95.13 519.94,95.96 C521.46,96.79 521.50,97.60 522.02,99.56 C522.54,101.52 522.89,103.63 523.06,107.72 C523.23,111.81 525.81,121.39 523.06,124.12 C520.31,126.85 509.33,128.19 506.58,124.12Z" fill="none" stroke="#1a1a1a" stroke-width="0.8"/>
<path d="M507.53,123.29 C505.19,119.84 507.34,106.54 507.53,102.55 C507.72,98.56 507.79,100.08 508.68,99.36 C509.58,98.63 511.20,98.20 512.90,98.20 C514.60,98.20 517.59,98.65 518.88,99.36 C520.18,100.06 520.21,100.75 520.65,102.42 C521.09,104.08 521.39,105.87 521.54,109.35 C521.68,112.83 523.87,120.97 521.54,123.29 C519.20,125.62 509.86,126.75 507.53,123.29Z" fill="none" stroke="#e8e8e8" stroke-width="0.7"/>
<path d="M508.56,122.39 C506.67,119.60 508.40,108.85 508.56,105.62 C508.71,102.39 508.77,103.62 509.49,103.03 C510.21,102.45 511.52,102.10 512.90,102.10 C514.27,102.10 516.70,102.47 517.74,103.03 C518.78,103.60 518.81,104.16 519.17,105.51 C519.53,106.86 519.77,108.31 519.88,111.12 C520.00,113.93 521.77,120.52 519.88,122.39 C518.00,124.27 510.44,125.19 508.56,122.39Z" fill="none" stroke="#222" stroke-width="0.7"/>
<path d="M509.58,121.50 C508.14,119.36 509.46,111.15 509.58,108.69 C509.70,106.22 509.74,107.16 510.30,106.71 C510.85,106.27 511.85,106.00 512.90,106.00 C513.95,106.00 515.80,106.28 516.60,106.71 C517.39,107.15 517.41,107.58 517.69,108.60 C517.96,109.63 518.14,110.74 518.23,112.89 C518.33,115.04 519.68,120.06 518.23,121.50 C516.79,122.93 511.02,123.63 509.58,121.50Z" fill="none" stroke="#ddd" stroke-width="0.6"/>
<ellipse cx="512.9" cy="118.6" rx="7.00" ry="6.50" fill="#7a7a7a" stroke="#eee" stroke-width="0.7"/>
<ellipse cx="512.9" cy="118.6" rx="5.04" ry="4.68" fill="#8a8a8a" stroke="#222" stroke-width="0.7"/>
<ellipse cx="512.9" cy="118.6" rx="3.36" ry="3.12" fill="#777" stroke="#ddd" stroke-width="0.6"/>
<ellipse cx="512.9" cy="118.6" rx="1.82" ry="1.69" fill="#666" stroke="#222" stroke-width="0.6"/>
<circle cx="512.9" cy="118.6" r="1.1" fill="#111"/>
</g>
<clipPath id="c7"><rect x="0" y="52" width="737" height="73.3"/></clipPath>
<g clip-path="url(#c7)">
<path d="M615.30,84.30 C618.18,83.70 619.72,83.93 622.00,86.00 C624.28,88.07 628.17,93.37 629.00,96.70 C629.83,100.03 627.97,103.22 627.00,106.00 C626.03,108.78 624.70,112.57 623.20,113.40 C621.70,114.23 619.92,111.57 618.00,111.00 C616.08,110.43 613.87,110.67 611.70,110.00 C609.53,109.33 606.90,108.63 605.00,107.00 C603.10,105.37 600.35,103.10 600.30,100.20 C600.25,97.30 602.20,92.25 604.70,89.60 C607.20,86.95 612.42,84.90 615.30,84.30Z" fill="url(#bg)" stroke="#000" stroke-width="1.6" stroke-linejoin="round"/>
<path d="M615.37,85.62 C617.97,85.08 619.35,85.29 621.40,87.15 C623.45,89.01 626.95,93.78 627.70,96.78 C628.45,99.78 626.77,102.65 625.90,105.15 C625.03,107.66 623.83,111.06 622.48,111.81 C621.13,112.56 619.52,110.16 617.80,109.65 C616.07,109.14 614.08,109.35 612.13,108.75 C610.18,108.15 607.81,107.52 606.10,106.05 C604.39,104.58 601.91,102.54 601.87,99.93 C601.83,97.32 603.58,92.78 605.83,90.39 C608.08,88.00 612.77,86.16 615.37,85.62Z" fill="none" stroke="#f2f2f2" stroke-width="0.7"/>
<path d="M615.44,86.94 C617.75,86.46 618.97,86.65 620.80,88.30 C622.63,89.95 625.73,94.19 626.40,96.86 C627.07,99.53 625.57,102.07 624.80,104.30 C624.03,106.53 622.96,109.55 621.76,110.22 C620.56,110.89 619.13,108.75 617.60,108.30 C616.07,107.85 614.29,108.03 612.56,107.50 C610.83,106.97 608.72,106.41 607.20,105.10 C605.68,103.79 603.48,101.98 603.44,99.66 C603.40,97.34 604.96,93.30 606.96,91.18 C608.96,89.06 613.13,87.42 615.44,86.94Z" fill="none" stroke="#1a1a1a" stroke-width="0.8"/>
<path d="M615.52,88.52 C617.48,88.12 618.53,88.27 620.08,89.68 C621.63,91.09 624.27,94.69 624.84,96.96 C625.41,99.22 624.14,101.39 623.48,103.28 C622.82,105.17 621.92,107.75 620.90,108.31 C619.88,108.88 618.66,107.07 617.36,106.68 C616.06,106.29 614.55,106.45 613.08,106.00 C611.60,105.55 609.81,105.07 608.52,103.96 C607.23,102.85 605.36,101.31 605.32,99.34 C605.29,97.36 606.62,93.93 608.32,92.13 C610.02,90.33 613.56,88.93 615.52,88.52Z" fill="none" stroke="#e8e8e8" stroke-width="0.7"/>
<path d="M615.62,90.24 C617.20,89.91 618.04,90.04 619.30,91.17 C620.56,92.31 622.69,95.23 623.15,97.06 C623.61,98.89 622.58,100.64 622.05,102.17 C621.52,103.71 620.79,105.79 619.96,106.25 C619.13,106.70 618.15,105.24 617.10,104.92 C616.05,104.61 614.83,104.74 613.63,104.38 C612.44,104.01 611.00,103.62 609.95,102.72 C608.91,101.83 607.39,100.58 607.37,98.98 C607.34,97.39 608.41,94.61 609.78,93.16 C611.16,91.70 614.03,90.57 615.62,90.24Z" fill="none" stroke="#222" stroke-width="0.7"/>
<path d="M615.71,91.96 C616.92,91.70 617.56,91.80 618.52,92.67 C619.48,93.54 621.11,95.76 621.46,97.16 C621.81,98.56 621.03,99.90 620.62,101.07 C620.21,102.24 619.65,103.83 619.02,104.18 C618.39,104.53 617.64,103.41 616.84,103.17 C616.04,102.93 615.10,103.03 614.19,102.75 C613.28,102.47 612.18,102.18 611.38,101.49 C610.58,100.80 609.43,99.85 609.41,98.63 C609.38,97.42 610.20,95.30 611.25,94.18 C612.30,93.07 614.50,92.21 615.71,91.96Z" fill="none" stroke="#ddd" stroke-width="0.6"/>
<ellipse cx="616.0" cy="97.5" rx="9.00" ry="9.00" fill="#7a7a7a" stroke="#eee" stroke-width="0.7"/>
<ellipse cx="616.0" cy="97.5" rx="6.48" ry="6.48" fill="#8a8a8a" stroke="#222" stroke-width="0.7"/>
<ellipse cx="616.0" cy="97.5" rx="4.32" ry="4.32" fill="#777" stroke="#ddd" stroke-width="0.6"/>
<ellipse cx="616.0" cy="97.5" rx="2.34" ry="2.34" fill="#666" stroke="#222" stroke-width="0.6"/>
<circle cx="616.0" cy="97.5" r="1.1" fill="#111"/>
</g>
<clipPath id="c8"><rect x="0" y="52" width="737" height="73.3"/></clipPath>
<g clip-path="url(#c8)">
<path d="M681.40,125.50 C679.00,122.85 679.77,109.68 680.20,103.70 C680.63,97.72 681.60,92.30 684.00,89.60 C686.40,86.90 691.35,87.63 694.60,87.50 C697.85,87.37 701.38,86.97 703.50,88.80 C705.62,90.63 707.17,95.13 707.30,98.50 C707.43,101.87 706.42,105.48 704.30,109.00 C702.18,112.52 698.42,116.85 694.60,119.60 C690.78,122.35 683.80,128.15 681.40,125.50Z" fill="url(#bg)" stroke="#000" stroke-width="1.6" stroke-linejoin="round"/>
<path d="M682.21,123.35 C680.05,120.97 680.74,109.12 681.13,103.73 C681.52,98.34 682.39,93.47 684.55,91.04 C686.71,88.61 691.16,89.27 694.09,89.15 C697.02,89.03 700.20,88.67 702.10,90.32 C704.00,91.97 705.40,96.02 705.52,99.05 C705.64,102.08 704.72,105.34 702.82,108.50 C700.91,111.66 697.52,115.56 694.09,118.04 C690.66,120.51 684.37,125.73 682.21,123.35Z" fill="none" stroke="#f2f2f2" stroke-width="0.7"/>
<path d="M683.02,121.20 C681.10,119.08 681.71,108.55 682.06,103.76 C682.41,98.97 683.18,94.64 685.10,92.48 C687.02,90.32 690.98,90.91 693.58,90.80 C696.18,90.69 699.01,90.37 700.70,91.84 C702.39,93.31 703.63,96.91 703.74,99.60 C703.85,102.29 703.03,105.19 701.34,108.00 C699.65,110.81 696.63,114.28 693.58,116.48 C690.53,118.68 684.94,123.32 683.02,121.20Z" fill="none" stroke="#1a1a1a" stroke-width="0.8"/>
<path d="M683.99,118.62 C682.36,116.82 682.88,107.86 683.18,103.80 C683.47,99.73 684.13,96.04 685.76,94.21 C687.39,92.37 690.76,92.87 692.97,92.78 C695.18,92.69 697.58,92.42 699.02,93.66 C700.46,94.91 701.51,97.97 701.60,100.26 C701.69,102.55 701.00,105.01 699.56,107.40 C698.12,109.79 695.56,112.74 692.97,114.61 C690.37,116.48 685.62,120.42 683.99,118.62Z" fill="none" stroke="#e8e8e8" stroke-width="0.7"/>
<path d="M685.04,115.83 C683.72,114.37 684.15,107.13 684.38,103.84 C684.62,100.54 685.15,97.56 686.48,96.08 C687.80,94.59 690.52,95.00 692.31,94.92 C694.09,94.85 696.04,94.63 697.20,95.64 C698.36,96.65 699.22,99.12 699.29,100.97 C699.36,102.83 698.80,104.82 697.64,106.75 C696.48,108.68 694.40,111.07 692.31,112.58 C690.21,114.09 686.37,117.28 685.04,115.83Z" fill="none" stroke="#222" stroke-width="0.7"/>
<path d="M686.10,113.03 C685.09,111.92 685.41,106.39 685.59,103.87 C685.78,101.36 686.18,99.09 687.19,97.95 C688.20,96.82 690.28,97.13 691.64,97.07 C693.01,97.01 694.49,96.85 695.38,97.62 C696.27,98.39 696.92,100.28 696.98,101.69 C697.03,103.10 696.61,104.62 695.72,106.10 C694.83,107.58 693.25,109.40 691.64,110.55 C690.04,111.71 687.11,114.14 686.10,113.03Z" fill="none" stroke="#ddd" stroke-width="0.6"/>
<ellipse cx="689.5" cy="104.0" rx="9.00" ry="11.00" fill="#7a7a7a" stroke="#eee" stroke-width="0.7"/>
<ellipse cx="689.5" cy="104.0" rx="6.48" ry="7.92" fill="#8a8a8a" stroke="#222" stroke-width="0.7"/>
<ellipse cx="689.5" cy="104.0" rx="4.32" ry="5.28" fill="#777" stroke="#ddd" stroke-width="0.6"/>
<ellipse cx="689.5" cy="104.0" rx="2.34" ry="2.86" fill="#666" stroke="#222" stroke-width="0.6"/>
<circle cx="689.5" cy="104.0" r="1.1" fill="#111"/>
</g>
<ellipse cx="608.2" cy="119.3" rx="1.6" ry="1.1" fill="#222"/>
<text x="36.3" y="87.4" font-size="13.5" font-weight="bold" text-anchor="middle" fill="#000" textLength="32.5" lengthAdjust="spacingAndGlyphs" transform="rotate(-90 36.3 87.4)" >CD69</text>
<text x="35.7" y="193.3" font-size="13" font-weight="bold" text-anchor="middle" fill="#000" textLength="22.0" lengthAdjust="spacingAndGlyphs" transform="rotate(-90 35.7 193.3)" >IL-4</text>
<text x="33.8" y="319.5" font-size="12.5" font-weight="bold" text-anchor="middle" fill="#000" textLength="31.0" lengthAdjust="spacingAndGlyphs" transform="rotate(-90 33.8 319.5)" >IFN-γ</text>
<rect x="47.6" y="154.2" width="74.4" height="76.3" fill="none" stroke="#8c8c8c" stroke-width="1.1"/>
<line x1="47.6" y1="209.3" x2="122.0" y2="209.3" stroke="#a0a0a0" stroke-width="1"/>
<line x1="46.4" y1="215.8" x2="48.1" y2="215.8" stroke="#aaa" stroke-width="0.8"/>
<line x1="61.9" y1="230.0" x2="61.9" y2="232.0" stroke="#aaa" stroke-width="0.8"/>
<line x1="46.4" y1="201.2" x2="48.1" y2="201.2" stroke="#aaa" stroke-width="0.8"/>
<line x1="76.2" y1="230.0" x2="76.2" y2="232.0" stroke="#aaa" stroke-width="0.8"/>
<line x1="46.4" y1="186.5" x2="48.1" y2="186.5" stroke="#aaa" stroke-width="0.8"/>
<line x1="90.5" y1="230.0" x2="90.5" y2="232.0" stroke="#aaa" stroke-width="0.8"/>
<line x1="46.4" y1="171.8" x2="48.1" y2="171.8" stroke="#aaa" stroke-width="0.8"/>
<line x1="104.8" y1="230.0" x2="104.8" y2="232.0" stroke="#aaa" stroke-width="0.8"/>
<line x1="46.4" y1="157.1" x2="48.1" y2="157.1" stroke="#aaa" stroke-width="0.8"/>
<line x1="119.1" y1="230.0" x2="119.1" y2="232.0" stroke="#aaa" stroke-width="0.8"/>
<rect x="126.0" y="154.2" width="73.3" height="76.3" fill="none" stroke="#8c8c8c" stroke-width="1.1"/>
<line x1="126.0" y1="208.4" x2="199.3" y2="208.4" stroke="#a0a0a0" stroke-width="1"/>
<line x1="124.8" y1="215.8" x2="126.5" y2="215.8" stroke="#aaa" stroke-width="0.8"/>
<line x1="140.1" y1="230.0" x2="140.1" y2="232.0" stroke="#aaa" stroke-width="0.8"/>
<line x1="124.8" y1="201.2" x2="126.5" y2="201.2" stroke="#aaa" stroke-width="0.8"/>
<line x1="154.2" y1="230.0" x2="154.2" y2="232.0" stroke="#aaa" stroke-width="0.8"/>
<line x1="124.8" y1="186.5" x2="126.5" y2="186.5" stroke="#aaa" stroke-width="0.8"/>
<line x1="168.3" y1="230.0" x2="168.3" y2="232.0" stroke="#aaa" stroke-width="0.8"/>
<line x1="124.8" y1="171.8" x2="126.5" y2="171.8" stroke="#aaa" stroke-width="0.8"/>
<line x1="182.4" y1="230.0" x2="182.4" y2="232.0" stroke="#aaa" stroke-width="0.8"/>
<line x1="124.8" y1="157.1" x2="126.5" y2="157.1" stroke="#aaa" stroke-width="0.8"/>
<line x1="196.5" y1="230.0" x2="196.5" y2="232.0" stroke="#aaa" stroke-width="0.8"/>
<rect x="220.5" y="154.2" width="73.3" height="76.3" fill="none" stroke="#8c8c8c" stroke-width="1.1"/>
<line x1="220.5" y1="208.4" x2="293.8" y2="208.4" stroke="#a0a0a0" stroke-width="1"/>
<line x1="219.3" y1="215.8" x2="221.0" y2="215.8" stroke="#aaa" stroke-width="0.8"/>
<line x1="234.6" y1="230.0" x2="234.6" y2="232.0" stroke="#aaa" stroke-width="0.8"/>
<line x1="219.3" y1="201.2" x2="221.0" y2="201.2" stroke="#aaa" stroke-width="0.8"/>
<line x1="248.7" y1="230.0" x2="248.7" y2="232.0" stroke="#aaa" stroke-width="0.8"/>
<line x1="219.3" y1="186.5" x2="221.0" y2="186.5" stroke="#aaa" stroke-width="0.8"/>
<line x1="262.8" y1="230.0" x2="262.8" y2="232.0" stroke="#aaa" stroke-width="0.8"/>
<line x1="219.3" y1="171.8" x2="221.0" y2="171.8" stroke="#aaa" stroke-width="0.8"/>
<line x1="276.9" y1="230.0" x2="276.9" y2="232.0" stroke="#aaa" stroke-width="0.8"/>
<line x1="219.3" y1="157.1" x2="221.0" y2="157.1" stroke="#aaa" stroke-width="0.8"/>
<line x1="291.0" y1="230.0" x2="291.0" y2="232.0" stroke="#aaa" stroke-width="0.8"/>
<rect x="301.6" y="154.2" width="74.0" height="76.3" fill="none" stroke="#8c8c8c" stroke-width="1.1"/>
<line x1="301.6" y1="209.0" x2="375.6" y2="209.0" stroke="#a0a0a0" stroke-width="1"/>
<line x1="300.4" y1="215.8" x2="302.1" y2="215.8" stroke="#aaa" stroke-width="0.8"/>
<line x1="315.8" y1="230.0" x2="315.8" y2="232.0" stroke="#aaa" stroke-width="0.8"/>
<line x1="300.4" y1="201.2" x2="302.1" y2="201.2" stroke="#aaa" stroke-width="0.8"/>
<line x1="330.1" y1="230.0" x2="330.1" y2="232.0" stroke="#aaa" stroke-width="0.8"/>
<line x1="300.4" y1="186.5" x2="302.1" y2="186.5" stroke="#aaa" stroke-width="0.8"/>
<line x1="344.3" y1="230.0" x2="344.3" y2="232.0" stroke="#aaa" stroke-width="0.8"/>
<line x1="300.4" y1="171.8" x2="302.1" y2="171.8" stroke="#aaa" stroke-width="0.8"/>
<line x1="358.5" y1="230.0" x2="358.5" y2="232.0" stroke="#aaa" stroke-width="0.8"/>
<line x1="300.4" y1="157.1" x2="302.1" y2="157.1" stroke="#aaa" stroke-width="0.8"/>
<line x1="372.8" y1="230.0" x2="372.8" y2="232.0" stroke="#aaa" stroke-width="0.8"/>
<rect x="394.3" y="154.2" width="73.3" height="76.3" fill="none" stroke="#8c8c8c" stroke-width="1.1"/>
<line x1="394.3" y1="209.6" x2="467.6" y2="209.6" stroke="#a0a0a0" stroke-width="1"/>
<line x1="393.1" y1="215.8" x2="394.8" y2="215.8" stroke="#aaa" stroke-width="0.8"/>
<line x1="408.4" y1="230.0" x2="408.4" y2="232.0" stroke="#aaa" stroke-width="0.8"/>
<line x1="393.1" y1="201.2" x2="394.8" y2="201.2" stroke="#aaa" stroke-width="0.8"/>
<line x1="422.5" y1="230.0" x2="422.5" y2="232.0" stroke="#aaa" stroke-width="0.8"/>
<line x1="393.1" y1="186.5" x2="394.8" y2="186.5" stroke="#aaa" stroke-width="0.8"/>
<line x1="436.6" y1="230.0" x2="436.6" y2="232.0" stroke="#aaa" stroke-width="0.8"/>
<line x1="393.1" y1="171.8" x2="394.8" y2="171.8" stroke="#aaa" stroke-width="0.8"/>
<line x1="450.7" y1="230.0" x2="450.7" y2="232.0" stroke="#aaa" stroke-width="0.8"/>
<line x1="393.1" y1="157.1" x2="394.8" y2="157.1" stroke="#aaa" stroke-width="0.8"/>
<line x1="464.8" y1="230.0" x2="464.8" y2="232.0" stroke="#aaa" stroke-width="0.8"/>
<rect x="475.4" y="154.2" width="73.3" height="76.3" fill="none" stroke="#8c8c8c" stroke-width="1.1"/>
<line x1="475.4" y1="209.6" x2="548.7" y2="209.6" stroke="#a0a0a0" stroke-width="1"/>
<line x1="474.2" y1="215.8" x2="475.9" y2="215.8" stroke="#aaa" stroke-width="0.8"/>
<line x1="489.5" y1="230.0" x2="489.5" y2="232.0" stroke="#aaa" stroke-width="0.8"/>
<line x1="474.2" y1="201.2" x2="475.9" y2="201.2" stroke="#aaa" stroke-width="0.8"/>
<line x1="503.6" y1="230.0" x2="503.6" y2="232.0" stroke="#aaa" stroke-width="0.8"/>
<line x1="474.2" y1="186.5" x2="475.9" y2="186.5" stroke="#aaa" stroke-width="0.8"/>
<line x1="517.7" y1="230.0" x2="517.7" y2="232.0" stroke="#aaa" stroke-width="0.8"/>
<line x1="474.2" y1="171.8" x2="475.9" y2="171.8" stroke="#aaa" stroke-width="0.8"/>
<line x1="531.8" y1="230.0" x2="531.8" y2="232.0" stroke="#aaa" stroke-width="0.8"/>
<line x1="474.2" y1="157.1" x2="475.9" y2="157.1" stroke="#aaa" stroke-width="0.8"/>
<line x1="545.9" y1="230.0" x2="545.9" y2="232.0" stroke="#aaa" stroke-width="0.8"/>
<rect x="572.9" y="154.2" width="71.3" height="76.3" fill="none" stroke="#8c8c8c" stroke-width="1.1"/>
<line x1="572.9" y1="207.9" x2="644.2" y2="207.9" stroke="#a0a0a0" stroke-width="1"/>
<line x1="571.7" y1="215.8" x2="573.4" y2="215.8" stroke="#aaa" stroke-width="0.8"/>
<line x1="586.6" y1="230.0" x2="586.6" y2="232.0" stroke="#aaa" stroke-width="0.8"/>
<line x1="571.7" y1="201.2" x2="573.4" y2="201.2" stroke="#aaa" stroke-width="0.8"/>
<line x1="600.3" y1="230.0" x2="600.3" y2="232.0" stroke="#aaa" stroke-width="0.8"/>
<line x1="571.7" y1="186.5" x2="573.4" y2="186.5" stroke="#aaa" stroke-width="0.8"/>
<line x1="614.0" y1="230.0" x2="614.0" y2="232.0" stroke="#aaa" stroke-width="0.8"/>
<line x1="571.7" y1="171.8" x2="573.4" y2="171.8" stroke="#aaa" stroke-width="0.8"/>
<line x1="627.7" y1="230.0" x2="627.7" y2="232.0" stroke="#aaa" stroke-width="0.8"/>
<line x1="571.7" y1="157.1" x2="573.4" y2="157.1" stroke="#aaa" stroke-width="0.8"/>
<line x1="641.5" y1="230.0" x2="641.5" y2="232.0" stroke="#aaa" stroke-width="0.8"/>
<rect x="651.8" y="154.2" width="74.2" height="76.3" fill="none" stroke="#8c8c8c" stroke-width="1.1"/>
<line x1="651.8" y1="209.6" x2="726.0" y2="209.6" stroke="#a0a0a0" stroke-width="1"/>
<line x1="650.6" y1="215.8" x2="652.3" y2="215.8" stroke="#aaa" stroke-width="0.8"/>
<line x1="666.1" y1="230.0" x2="666.1" y2="232.0" stroke="#aaa" stroke-width="0.8"/>
<line x1="650.6" y1="201.2" x2="652.3" y2="201.2" stroke="#aaa" stroke-width="0.8"/>
<line x1="680.3" y1="230.0" x2="680.3" y2="232.0" stroke="#aaa" stroke-width="0.8"/>
<line x1="650.6" y1="186.5" x2="652.3" y2="186.5" stroke="#aaa" stroke-width="0.8"/>
<line x1="694.6" y1="230.0" x2="694.6" y2="232.0" stroke="#aaa" stroke-width="0.8"/>
<line x1="650.6" y1="171.8" x2="652.3" y2="171.8" stroke="#aaa" stroke-width="0.8"/>
<line x1="708.9" y1="230.0" x2="708.9" y2="232.0" stroke="#aaa" stroke-width="0.8"/>
<line x1="650.6" y1="157.1" x2="652.3" y2="157.1" stroke="#aaa" stroke-width="0.8"/>
<line x1="723.1" y1="230.0" x2="723.1" y2="232.0" stroke="#aaa" stroke-width="0.8"/>
<text x="82.2" y="167.2" font-size="10.6" font-weight="bold" stroke="#000" stroke-width="0.35" textLength="27.2" lengthAdjust="spacingAndGlyphs">1.73%</text>
<text x="163.3" y="167.2" font-size="10.6" font-weight="bold" stroke="#000" stroke-width="0.35" textLength="27.2" lengthAdjust="spacingAndGlyphs">3.82%</text>
<text x="260.5" y="167.2" font-size="10.6" font-weight="bold" stroke="#000" stroke-width="0.35" textLength="27.2" lengthAdjust="spacingAndGlyphs">7.58%</text>
<text x="339.1" y="167.2" font-size="10.6" font-weight="bold" stroke="#000" stroke-width="0.35" textLength="27.2" lengthAdjust="spacingAndGlyphs">12.9%</text>
<text x="437.8" y="167.2" font-size="10.6" font-weight="bold" stroke="#000" stroke-width="0.35" textLength="27.2" lengthAdjust="spacingAndGlyphs">2.78%</text>
<text x="515.3" y="167.2" font-size="10.6" font-weight="bold" stroke="#000" stroke-width="0.35" textLength="27.2" lengthAdjust="spacingAndGlyphs">4.62%</text>
<text x="614.6" y="167.2" font-size="10.6" font-weight="bold" stroke="#000" stroke-width="0.35" textLength="27.2" lengthAdjust="spacingAndGlyphs">2.22%</text>
<text x="694.8" y="167.2" font-size="10.6" font-weight="bold" stroke="#000" stroke-width="0.35" textLength="27.2" lengthAdjust="spacingAndGlyphs">5.84%</text>
<clipPath id="c9"><rect x="0" y="154.2" width="737" height="76.30000000000001"/></clipPath>
<g clip-path="url(#c9)">
<path d="M61.50,230.60 C57.75,228.43 61.17,220.70 61.50,217.60 C61.83,214.50 62.68,213.37 63.50,212.00 C64.32,210.63 64.98,209.65 66.40,209.40 C67.82,209.15 70.10,210.23 72.00,210.50 C73.90,210.77 76.15,210.23 77.80,211.00 C79.45,211.77 80.95,213.27 81.90,215.10 C82.85,216.93 83.15,219.42 83.50,222.00 C83.85,224.58 87.67,229.17 84.00,230.60 C80.33,232.03 65.25,232.77 61.50,230.60Z" fill="url(#bg)" stroke="#000" stroke-width="1.6" stroke-linejoin="round"/>
<path d="M62.75,229.84 C59.38,227.89 62.45,220.93 62.75,218.14 C63.05,215.35 63.81,214.33 64.55,213.10 C65.28,211.87 65.89,210.98 67.16,210.76 C68.44,210.53 70.49,211.51 72.20,211.75 C73.91,211.99 75.94,211.51 77.42,212.20 C78.91,212.89 80.25,214.24 81.11,215.89 C81.97,217.54 82.23,219.77 82.55,222.10 C82.86,224.43 86.30,228.55 83.00,229.84 C79.70,231.13 66.12,231.79 62.75,229.84Z" fill="none" stroke="#f2f2f2" stroke-width="0.7"/>
<path d="M64.00,229.08 C61.00,227.35 63.73,221.16 64.00,218.68 C64.27,216.20 64.95,215.29 65.60,214.20 C66.25,213.11 66.79,212.32 67.92,212.12 C69.05,211.92 70.88,212.79 72.40,213.00 C73.92,213.21 75.72,212.79 77.04,213.40 C78.36,214.01 79.56,215.21 80.32,216.68 C81.08,218.15 81.32,220.13 81.60,222.20 C81.88,224.27 84.93,227.93 82.00,229.08 C79.07,230.23 67.00,230.81 64.00,229.08Z" fill="none" stroke="#1a1a1a" stroke-width="0.8"/>
<path d="M65.50,228.17 C62.95,226.69 65.27,221.44 65.50,219.33 C65.73,217.22 66.30,216.45 66.86,215.52 C67.42,214.59 67.87,213.92 68.83,213.75 C69.80,213.58 71.35,214.32 72.64,214.50 C73.93,214.68 75.46,214.32 76.58,214.84 C77.71,215.36 78.73,216.38 79.37,217.63 C80.02,218.87 80.22,220.56 80.46,222.32 C80.70,224.08 83.29,227.19 80.80,228.17 C78.31,229.14 68.05,229.64 65.50,228.17Z" fill="none" stroke="#e8e8e8" stroke-width="0.7"/>
<path d="M67.12,227.18 C65.06,225.99 66.94,221.74 67.12,220.03 C67.31,218.32 67.78,217.70 68.22,216.95 C68.67,216.20 69.04,215.66 69.82,215.52 C70.60,215.38 71.86,215.98 72.90,216.12 C73.95,216.27 75.18,215.98 76.09,216.40 C77.00,216.82 77.82,217.65 78.34,218.66 C78.87,219.66 79.03,221.03 79.22,222.45 C79.42,223.87 81.52,226.39 79.50,227.18 C77.48,227.97 69.19,228.37 67.12,227.18Z" fill="none" stroke="#222" stroke-width="0.7"/>
<path d="M68.75,226.19 C67.17,225.28 68.61,222.03 68.75,220.73 C68.89,219.43 69.25,218.95 69.59,218.38 C69.93,217.81 70.21,217.39 70.81,217.29 C71.40,217.18 72.36,217.64 73.16,217.75 C73.96,217.86 74.90,217.64 75.60,217.96 C76.29,218.28 76.92,218.91 77.32,219.68 C77.72,220.45 77.84,221.50 77.99,222.58 C78.14,223.67 79.74,225.59 78.20,226.19 C76.66,226.79 70.33,227.10 68.75,226.19Z" fill="none" stroke="#ddd" stroke-width="0.6"/>
<ellipse cx="74.0" cy="223.0" rx="8.00" ry="7.00" fill="#7a7a7a" stroke="#eee" stroke-width="0.7"/>
<ellipse cx="74.0" cy="223.0" rx="5.76" ry="5.04" fill="#8a8a8a" stroke="#222" stroke-width="0.7"/>
<ellipse cx="74.0" cy="223.0" rx="3.84" ry="3.36" fill="#777" stroke="#ddd" stroke-width="0.6"/>
<ellipse cx="74.0" cy="223.0" rx="2.08" ry="1.82" fill="#666" stroke="#222" stroke-width="0.6"/>
<circle cx="74.0" cy="223.0" r="1.1" fill="#111"/>
</g>
<clipPath id="c10"><rect x="0" y="154.2" width="737" height="76.30000000000001"/></clipPath>
<g clip-path="url(#c10)">
<path d="M142.10,230.60 C138.77,228.00 142.35,218.80 142.50,215.00 C142.65,211.20 142.58,209.97 143.00,207.80 C143.42,205.63 144.20,203.22 145.00,202.00 C145.80,200.78 146.25,200.35 147.80,200.50 C149.35,200.65 152.77,201.98 154.30,202.90 C155.83,203.82 156.18,204.37 157.00,206.00 C157.82,207.63 158.45,210.37 159.20,212.70 C159.95,215.03 160.95,217.02 161.50,220.00 C162.05,222.98 165.73,228.83 162.50,230.60 C159.27,232.37 145.43,233.20 142.10,230.60Z" fill="url(#bg)" stroke="#000" stroke-width="1.6" stroke-linejoin="round"/>
<path d="M143.14,229.79 C140.14,227.45 143.37,219.17 143.50,215.75 C143.63,212.33 143.57,211.22 143.95,209.27 C144.32,207.32 145.03,205.15 145.75,204.05 C146.47,202.96 146.88,202.56 148.27,202.70 C149.67,202.83 152.74,204.04 154.12,204.86 C155.50,205.69 155.81,206.18 156.55,207.65 C157.29,209.12 157.86,211.58 158.53,213.68 C159.20,215.78 160.10,217.56 160.60,220.25 C161.09,222.94 164.41,228.20 161.50,229.79 C158.59,231.38 146.14,232.13 143.14,229.79Z" fill="none" stroke="#f2f2f2" stroke-width="0.7"/>
<path d="M144.18,228.98 C141.51,226.90 144.38,219.54 144.50,216.50 C144.62,213.46 144.57,212.47 144.90,210.74 C145.23,209.01 145.86,207.07 146.50,206.10 C147.14,205.13 147.50,204.78 148.74,204.90 C149.98,205.02 152.71,206.09 153.94,206.82 C155.17,207.55 155.45,207.99 156.10,209.30 C156.75,210.61 157.26,212.79 157.86,214.66 C158.46,216.53 159.26,218.11 159.70,220.50 C160.14,222.89 163.09,227.57 160.50,228.98 C157.91,230.39 146.85,231.06 144.18,228.98Z" fill="none" stroke="#1a1a1a" stroke-width="0.8"/>
<path d="M145.43,228.01 C143.16,226.24 145.60,219.98 145.70,217.40 C145.80,214.82 145.76,213.98 146.04,212.50 C146.32,211.03 146.86,209.39 147.40,208.56 C147.94,207.73 148.25,207.44 149.30,207.54 C150.36,207.64 152.68,208.55 153.72,209.17 C154.77,209.80 155.00,210.17 155.56,211.28 C156.12,212.39 156.55,214.25 157.06,215.84 C157.57,217.42 158.25,218.77 158.62,220.80 C158.99,222.83 161.50,226.81 159.30,228.01 C157.10,229.21 147.69,229.78 145.43,228.01Z" fill="none" stroke="#e8e8e8" stroke-width="0.7"/>
<path d="M146.78,226.95 C144.95,225.52 146.92,220.47 147.00,218.38 C147.08,216.28 147.05,215.61 147.28,214.42 C147.50,213.22 147.94,211.89 148.38,211.22 C148.81,210.56 149.06,210.32 149.92,210.40 C150.77,210.48 152.65,211.22 153.49,211.72 C154.33,212.22 154.53,212.53 154.97,213.43 C155.42,214.32 155.77,215.83 156.19,217.11 C156.60,218.39 157.15,219.48 157.45,221.12 C157.75,222.77 159.78,225.98 158.00,226.95 C156.22,227.93 148.61,228.38 146.78,226.95Z" fill="none" stroke="#222" stroke-width="0.7"/>
<path d="M148.13,225.90 C146.73,224.81 148.24,220.95 148.30,219.35 C148.36,217.75 148.33,217.24 148.51,216.33 C148.69,215.42 149.01,214.40 149.35,213.89 C149.69,213.38 149.88,213.20 150.53,213.26 C151.18,213.32 152.61,213.88 153.26,214.27 C153.90,214.65 154.05,214.88 154.39,215.57 C154.73,216.26 155.00,217.40 155.31,218.38 C155.63,219.36 156.05,220.20 156.28,221.45 C156.51,222.70 158.06,225.16 156.70,225.90 C155.34,226.64 149.53,226.99 148.13,225.90Z" fill="none" stroke="#ddd" stroke-width="0.6"/>
<ellipse cx="152.5" cy="222.5" rx="8.00" ry="7.00" fill="#7a7a7a" stroke="#eee" stroke-width="0.7"/>
<ellipse cx="152.5" cy="222.5" rx="5.76" ry="5.04" fill="#8a8a8a" stroke="#222" stroke-width="0.7"/>
<ellipse cx="152.5" cy="222.5" rx="3.84" ry="3.36" fill="#777" stroke="#ddd" stroke-width="0.6"/>
<ellipse cx="152.5" cy="222.5" rx="2.08" ry="1.82" fill="#666" stroke="#222" stroke-width="0.6"/>
<circle cx="152.5" cy="222.5" r="1.1" fill="#111"/>
</g>
<clipPath id="c11"><rect x="0" y="154.2" width="737" height="76.30000000000001"/></clipPath>
<g clip-path="url(#c11)">
<path d="M237.30,230.60 C234.10,228.00 236.75,219.35 237.30,215.00 C237.85,210.65 239.52,207.60 240.60,204.50 C241.68,201.40 242.45,198.30 243.80,196.40 C245.15,194.50 247.25,193.17 248.70,193.10 C250.15,193.03 251.78,194.02 252.50,196.00 C253.22,197.98 252.42,202.33 253.00,205.00 C253.58,207.67 255.42,207.73 256.00,212.00 C256.58,216.27 259.62,227.50 256.50,230.60 C253.38,233.70 240.50,233.20 237.30,230.60Z" fill="url(#bg)" stroke="#000" stroke-width="1.6" stroke-linejoin="round"/>
<path d="M238.27,229.64 C235.39,227.30 237.78,219.51 238.27,215.60 C238.77,211.69 240.27,208.94 241.24,206.15 C242.22,203.36 242.91,200.57 244.12,198.86 C245.34,197.15 247.22,195.95 248.53,195.89 C249.84,195.83 251.30,196.72 251.95,198.50 C252.59,200.28 251.88,204.20 252.40,206.60 C252.93,209.00 254.57,209.06 255.10,212.90 C255.62,216.74 258.36,226.85 255.55,229.64 C252.75,232.43 241.15,231.98 238.27,229.64Z" fill="none" stroke="#f2f2f2" stroke-width="0.7"/>
<path d="M239.24,228.68 C236.68,226.60 238.80,219.68 239.24,216.20 C239.68,212.72 241.01,210.28 241.88,207.80 C242.75,205.32 243.36,202.84 244.44,201.32 C245.52,199.80 247.20,198.73 248.36,198.68 C249.52,198.63 250.83,199.41 251.40,201.00 C251.97,202.59 251.33,206.07 251.80,208.20 C252.27,210.33 253.73,210.39 254.20,213.80 C254.67,217.21 257.09,226.20 254.60,228.68 C252.11,231.16 241.80,230.76 239.24,228.68Z" fill="none" stroke="#1a1a1a" stroke-width="0.8"/>
<path d="M240.40,227.53 C238.23,225.76 240.03,219.88 240.40,216.92 C240.78,213.96 241.91,211.89 242.65,209.78 C243.38,207.67 243.91,205.56 244.82,204.27 C245.74,202.98 247.17,202.07 248.16,202.03 C249.14,201.98 250.25,202.65 250.74,204.00 C251.23,205.35 250.68,208.31 251.08,210.12 C251.48,211.93 252.72,211.98 253.12,214.88 C253.52,217.78 255.58,225.42 253.46,227.53 C251.34,229.64 242.58,229.30 240.40,227.53Z" fill="none" stroke="#e8e8e8" stroke-width="0.7"/>
<path d="M241.67,226.28 C239.91,224.85 241.36,220.09 241.67,217.70 C241.97,215.31 242.88,213.63 243.48,211.93 C244.08,210.22 244.50,208.51 245.24,207.47 C245.98,206.43 247.14,205.69 247.94,205.66 C248.73,205.62 249.63,206.16 250.03,207.25 C250.42,208.34 249.98,210.73 250.30,212.20 C250.62,213.67 251.63,213.70 251.95,216.05 C252.27,218.40 253.94,224.57 252.22,226.28 C250.51,227.99 243.43,227.71 241.67,226.28Z" fill="none" stroke="#222" stroke-width="0.7"/>
<path d="M242.93,225.03 C241.58,223.94 242.70,220.31 242.93,218.48 C243.16,216.65 243.86,215.37 244.31,214.07 C244.77,212.77 245.09,211.47 245.66,210.67 C246.22,209.87 247.10,209.31 247.71,209.28 C248.32,209.25 249.01,209.67 249.31,210.50 C249.61,211.33 249.28,213.16 249.52,214.28 C249.77,215.40 250.53,215.43 250.78,217.22 C251.03,219.01 252.30,223.73 250.99,225.03 C249.68,226.33 244.27,226.12 242.93,225.03Z" fill="none" stroke="#ddd" stroke-width="0.6"/>
<ellipse cx="247.0" cy="221.0" rx="7.50" ry="7.50" fill="#7a7a7a" stroke="#eee" stroke-width="0.7"/>
<ellipse cx="247.0" cy="221.0" rx="5.40" ry="5.40" fill="#8a8a8a" stroke="#222" stroke-width="0.7"/>
<ellipse cx="247.0" cy="221.0" rx="3.60" ry="3.60" fill="#777" stroke="#ddd" stroke-width="0.6"/>
<ellipse cx="247.0" cy="221.0" rx="1.95" ry="1.95" fill="#666" stroke="#222" stroke-width="0.6"/>
<circle cx="247.0" cy="221.0" r="1.1" fill="#111"/>
</g>
<clipPath id="c12"><rect x="0" y="154.2" width="737" height="76.30000000000001"/></clipPath>
<g clip-path="url(#c12)">
<path d="M319.30,230.60 C316.27,228.43 318.98,221.67 319.30,217.60 C319.62,213.53 320.62,209.87 321.20,206.20 C321.78,202.53 321.72,197.92 322.80,195.60 C323.88,193.28 325.93,192.30 327.70,192.30 C329.47,192.30 332.18,192.48 333.40,195.60 C334.62,198.72 334.32,205.17 335.00,211.00 C335.68,216.83 340.12,227.33 337.50,230.60 C334.88,233.87 322.33,232.77 319.30,230.60Z" fill="url(#bg)" stroke="#000" stroke-width="1.6" stroke-linejoin="round"/>
<path d="M320.17,229.64 C317.44,227.69 319.88,221.60 320.17,217.94 C320.46,214.28 321.36,210.98 321.88,207.68 C322.40,204.38 322.34,200.22 323.32,198.14 C324.30,196.06 326.14,195.17 327.73,195.17 C329.32,195.17 331.76,195.33 332.86,198.14 C333.95,200.94 333.69,206.75 334.30,212.00 C334.92,217.25 338.91,226.70 336.55,229.64 C334.19,232.58 322.90,231.59 320.17,229.64Z" fill="none" stroke="#f2f2f2" stroke-width="0.7"/>
<path d="M321.04,228.68 C318.61,226.95 320.79,221.53 321.04,218.28 C321.29,215.03 322.09,212.09 322.56,209.16 C323.03,206.23 322.97,202.53 323.84,200.68 C324.71,198.83 326.35,198.04 327.76,198.04 C329.17,198.04 331.35,198.19 332.32,200.68 C333.29,203.17 333.05,208.33 333.60,213.00 C334.15,217.67 337.69,226.07 335.60,228.68 C333.51,231.29 323.47,230.41 321.04,228.68Z" fill="none" stroke="#1a1a1a" stroke-width="0.8"/>
<path d="M322.08,227.53 C320.02,226.05 321.87,221.45 322.08,218.69 C322.30,215.92 322.98,213.43 323.38,210.94 C323.77,208.44 323.73,205.30 324.46,203.73 C325.20,202.15 326.59,201.48 327.80,201.48 C329.00,201.48 330.84,201.61 331.67,203.73 C332.50,205.85 332.30,210.23 332.76,214.20 C333.22,218.17 336.24,225.31 334.46,227.53 C332.68,229.75 324.15,229.00 322.08,227.53Z" fill="none" stroke="#e8e8e8" stroke-width="0.7"/>
<path d="M323.22,226.28 C321.55,225.09 323.04,221.37 323.22,219.13 C323.39,216.89 323.94,214.88 324.26,212.86 C324.58,210.84 324.54,208.30 325.14,207.03 C325.74,205.76 326.86,205.22 327.83,205.22 C328.81,205.22 330.30,205.32 330.97,207.03 C331.64,208.74 331.47,212.29 331.85,215.50 C332.23,218.71 334.66,224.48 333.23,226.28 C331.79,228.08 324.88,227.47 323.22,226.28Z" fill="none" stroke="#222" stroke-width="0.7"/>
<path d="M324.35,225.03 C323.07,224.12 324.21,221.28 324.35,219.57 C324.48,217.86 324.90,216.32 325.14,214.78 C325.39,213.24 325.36,211.31 325.82,210.33 C326.27,209.36 327.13,208.95 327.87,208.95 C328.62,208.95 329.76,209.02 330.27,210.33 C330.78,211.64 330.65,214.35 330.94,216.80 C331.23,219.25 333.09,223.66 331.99,225.03 C330.89,226.40 325.62,225.94 324.35,225.03Z" fill="none" stroke="#ddd" stroke-width="0.6"/>
<ellipse cx="328.0" cy="221.0" rx="7.50" ry="7.50" fill="#7a7a7a" stroke="#eee" stroke-width="0.7"/>
<ellipse cx="328.0" cy="221.0" rx="5.40" ry="5.40" fill="#8a8a8a" stroke="#222" stroke-width="0.7"/>
<ellipse cx="328.0" cy="221.0" rx="3.60" ry="3.60" fill="#777" stroke="#ddd" stroke-width="0.6"/>
<ellipse cx="328.0" cy="221.0" rx="1.95" ry="1.95" fill="#666" stroke="#222" stroke-width="0.6"/>
<circle cx="328.0" cy="221.0" r="1.1" fill="#111"/>
</g>
<clipPath id="c13"><rect x="0" y="154.2" width="737" height="76.30000000000001"/></clipPath>
<g clip-path="url(#c13)">
<path d="M410.60,230.60 C407.27,228.50 410.43,221.02 411.00,218.00 C411.57,214.98 412.58,213.67 414.00,212.50 C415.42,211.33 417.50,210.92 419.50,211.00 C421.50,211.08 424.25,211.83 426.00,213.00 C427.75,214.17 429.17,215.07 430.00,218.00 C430.83,220.93 434.23,228.50 431.00,230.60 C427.77,232.70 413.93,232.70 410.60,230.60Z" fill="url(#bg)" stroke="#000" stroke-width="1.6" stroke-linejoin="round"/>
<path d="M411.59,229.84 C408.59,227.95 411.44,221.22 411.95,218.50 C412.46,215.78 413.38,214.60 414.65,213.55 C415.92,212.50 417.80,212.12 419.60,212.20 C421.40,212.27 423.88,212.95 425.45,214.00 C427.02,215.05 428.30,215.86 429.05,218.50 C429.80,221.14 432.86,227.95 429.95,229.84 C427.04,231.73 414.59,231.73 411.59,229.84Z" fill="none" stroke="#f2f2f2" stroke-width="0.7"/>
<path d="M412.58,229.08 C409.91,227.40 412.45,221.41 412.90,219.00 C413.35,216.59 414.17,215.53 415.30,214.60 C416.43,213.67 418.10,213.33 419.70,213.40 C421.30,213.47 423.50,214.07 424.90,215.00 C426.30,215.93 427.43,216.65 428.10,219.00 C428.77,221.35 431.49,227.40 428.90,229.08 C426.31,230.76 415.25,230.76 412.58,229.08Z" fill="none" stroke="#1a1a1a" stroke-width="0.8"/>
<path d="M413.77,228.17 C411.50,226.74 413.65,221.65 414.04,219.60 C414.43,217.55 415.12,216.65 416.08,215.86 C417.04,215.07 418.46,214.78 419.82,214.84 C421.18,214.90 423.05,215.41 424.24,216.20 C425.43,216.99 426.39,217.61 426.96,219.60 C427.53,221.59 429.84,226.74 427.64,228.17 C425.44,229.60 416.03,229.60 413.77,228.17Z" fill="none" stroke="#e8e8e8" stroke-width="0.7"/>
<path d="M415.06,227.18 C413.22,226.03 414.96,221.91 415.27,220.25 C415.59,218.59 416.15,217.87 416.93,217.22 C417.70,216.58 418.85,216.35 419.95,216.40 C421.05,216.45 422.56,216.86 423.52,217.50 C424.49,218.14 425.27,218.64 425.73,220.25 C426.18,221.86 428.05,226.03 426.27,227.18 C424.50,228.34 416.89,228.34 415.06,227.18Z" fill="none" stroke="#222" stroke-width="0.7"/>
<path d="M416.34,226.19 C414.94,225.31 416.27,222.17 416.51,220.90 C416.75,219.63 417.17,219.08 417.77,218.59 C418.37,218.10 419.24,217.93 420.08,217.96 C420.92,218.00 422.07,218.31 422.81,218.80 C423.55,219.29 424.14,219.67 424.49,220.90 C424.84,222.13 426.27,225.31 424.91,226.19 C423.55,227.07 417.74,227.07 416.34,226.19Z" fill="none" stroke="#ddd" stroke-width="0.6"/>
<ellipse cx="420.5" cy="223.0" rx="8.00" ry="7.00" fill="#7a7a7a" stroke="#eee" stroke-width="0.7"/>
<ellipse cx="420.5" cy="223.0" rx="5.76" ry="5.04" fill="#8a8a8a" stroke="#222" stroke-width="0.7"/>
<ellipse cx="420.5" cy="223.0" rx="3.84" ry="3.36" fill="#777" stroke="#ddd" stroke-width="0.6"/>
<ellipse cx="420.5" cy="223.0" rx="2.08" ry="1.82" fill="#666" stroke="#222" stroke-width="0.6"/>
<circle cx="420.5" cy="223.0" r="1.1" fill="#111"/>
</g>
<clipPath id="c14"><rect x="0" y="154.2" width="737" height="76.30000000000001"/></clipPath>
<g clip-path="url(#c14)">
<path d="M491.20,230.60 C487.85,228.50 490.87,220.93 491.50,218.00 C492.13,215.07 493.42,214.00 495.00,213.00 C496.58,212.00 499.00,211.92 501.00,212.00 C503.00,212.08 505.42,212.50 507.00,213.50 C508.58,214.50 509.73,215.15 510.50,218.00 C511.27,220.85 514.82,228.50 511.60,230.60 C508.38,232.70 494.55,232.70 491.20,230.60Z" fill="url(#bg)" stroke="#000" stroke-width="1.6" stroke-linejoin="round"/>
<path d="M492.18,229.84 C489.17,227.95 491.88,221.14 492.45,218.50 C493.02,215.86 494.18,214.90 495.60,214.00 C497.03,213.10 499.20,213.03 501.00,213.10 C502.80,213.17 504.97,213.55 506.40,214.45 C507.82,215.35 508.86,215.94 509.55,218.50 C510.24,221.06 513.44,227.95 510.54,229.84 C507.65,231.73 495.19,231.73 492.18,229.84Z" fill="none" stroke="#f2f2f2" stroke-width="0.7"/>
<path d="M493.16,229.08 C490.48,227.40 492.89,221.35 493.40,219.00 C493.91,216.65 494.93,215.80 496.20,215.00 C497.47,214.20 499.40,214.13 501.00,214.20 C502.60,214.27 504.53,214.60 505.80,215.40 C507.07,216.20 507.99,216.72 508.60,219.00 C509.21,221.28 512.05,227.40 509.48,229.08 C506.91,230.76 495.84,230.76 493.16,229.08Z" fill="none" stroke="#1a1a1a" stroke-width="0.8"/>
<path d="M494.34,228.17 C492.06,226.74 494.11,221.59 494.54,219.60 C494.97,217.61 495.84,216.88 496.92,216.20 C498.00,215.52 499.64,215.46 501.00,215.52 C502.36,215.58 504.00,215.86 505.08,216.54 C506.16,217.22 506.94,217.66 507.46,219.60 C507.98,221.54 510.40,226.74 508.21,228.17 C506.02,229.60 496.61,229.60 494.34,228.17Z" fill="none" stroke="#e8e8e8" stroke-width="0.7"/>
<path d="M495.61,227.18 C493.77,226.03 495.43,221.86 495.77,220.25 C496.12,218.64 496.83,218.05 497.70,217.50 C498.57,216.95 499.90,216.90 501.00,216.95 C502.10,217.00 503.43,217.22 504.30,217.78 C505.17,218.33 505.80,218.68 506.23,220.25 C506.65,221.82 508.60,226.03 506.83,227.18 C505.06,228.34 497.45,228.34 495.61,227.18Z" fill="none" stroke="#222" stroke-width="0.7"/>
<path d="M496.88,226.19 C495.48,225.31 496.74,222.13 497.01,220.90 C497.28,219.67 497.81,219.22 498.48,218.80 C499.15,218.38 500.16,218.34 501.00,218.38 C501.84,218.41 502.85,218.59 503.52,219.01 C504.19,219.43 504.67,219.70 504.99,220.90 C505.31,222.10 506.80,225.31 505.45,226.19 C504.10,227.07 498.29,227.07 496.88,226.19Z" fill="none" stroke="#ddd" stroke-width="0.6"/>
<ellipse cx="501.0" cy="223.0" rx="8.00" ry="7.00" fill="#7a7a7a" stroke="#eee" stroke-width="0.7"/>
<ellipse cx="501.0" cy="223.0" rx="5.76" ry="5.04" fill="#8a8a8a" stroke="#222" stroke-width="0.7"/>
<ellipse cx="501.0" cy="223.0" rx="3.84" ry="3.36" fill="#777" stroke="#ddd" stroke-width="0.6"/>
<ellipse cx="501.0" cy="223.0" rx="2.08" ry="1.82" fill="#666" stroke="#222" stroke-width="0.6"/>
<circle cx="501.0" cy="223.0" r="1.1" fill="#111"/>
</g>
<clipPath id="c15"><rect x="0" y="154.2" width="737" height="76.30000000000001"/></clipPath>
<g clip-path="url(#c15)">
<path d="M587.30,230.60 C583.63,228.10 587.02,219.03 587.30,215.60 C587.58,212.17 588.05,211.42 589.00,210.00 C589.95,208.58 591.33,207.35 593.00,207.10 C594.67,206.85 597.10,208.03 599.00,208.50 C600.90,208.97 602.90,209.15 604.40,209.90 C605.90,210.65 607.18,211.32 608.00,213.00 C608.82,214.68 609.08,217.07 609.30,220.00 C609.52,222.93 612.97,228.83 609.30,230.60 C605.63,232.37 590.97,233.10 587.30,230.60Z" fill="url(#bg)" stroke="#000" stroke-width="1.6" stroke-linejoin="round"/>
<path d="M588.37,229.49 C585.07,227.24 588.12,219.08 588.37,215.99 C588.62,212.90 589.04,212.22 589.90,210.95 C590.75,209.67 592.00,208.56 593.50,208.34 C595.00,208.12 597.19,209.18 598.90,209.60 C600.61,210.02 602.41,210.19 603.76,210.86 C605.11,211.54 606.26,212.14 607.00,213.65 C607.74,215.16 607.97,217.31 608.17,219.95 C608.37,222.59 611.47,227.90 608.17,229.49 C604.87,231.08 591.67,231.74 588.37,229.49Z" fill="none" stroke="#f2f2f2" stroke-width="0.7"/>
<path d="M589.44,228.38 C586.51,226.38 589.21,219.13 589.44,216.38 C589.67,213.63 590.04,213.03 590.80,211.90 C591.56,210.77 592.67,209.78 594.00,209.58 C595.33,209.38 597.28,210.33 598.80,210.70 C600.32,211.07 601.92,211.22 603.12,211.82 C604.32,212.42 605.35,212.95 606.00,214.30 C606.65,215.65 606.87,217.55 607.04,219.90 C607.21,222.25 609.97,226.97 607.04,228.38 C604.11,229.79 592.37,230.38 589.44,228.38Z" fill="none" stroke="#1a1a1a" stroke-width="0.8"/>
<path d="M590.72,227.05 C588.23,225.35 590.53,219.18 590.72,216.85 C590.92,214.51 591.23,214.00 591.88,213.04 C592.53,212.08 593.47,211.24 594.60,211.07 C595.73,210.90 597.39,211.70 598.68,212.02 C599.97,212.34 601.33,212.46 602.35,212.97 C603.37,213.48 604.24,213.94 604.80,215.08 C605.36,216.22 605.54,217.85 605.68,219.84 C605.83,221.83 608.18,225.85 605.68,227.05 C603.19,228.25 593.22,228.75 590.72,227.05Z" fill="none" stroke="#e8e8e8" stroke-width="0.7"/>
<path d="M592.12,225.60 C590.10,224.23 591.96,219.24 592.12,217.35 C592.27,215.47 592.53,215.05 593.05,214.28 C593.57,213.50 594.33,212.82 595.25,212.68 C596.17,212.54 597.50,213.19 598.55,213.45 C599.59,213.71 600.69,213.81 601.52,214.22 C602.35,214.63 603.05,215.00 603.50,215.93 C603.95,216.85 604.10,218.16 604.22,219.78 C604.33,221.39 606.23,224.63 604.22,225.60 C602.20,226.58 594.13,226.98 592.12,225.60Z" fill="none" stroke="#222" stroke-width="0.7"/>
<path d="M593.51,224.16 C591.97,223.11 593.39,219.30 593.51,217.86 C593.62,216.42 593.82,216.10 594.22,215.51 C594.62,214.91 595.20,214.40 595.90,214.29 C596.60,214.19 597.62,214.68 598.42,214.88 C599.22,215.08 600.06,215.15 600.69,215.47 C601.32,215.78 601.86,216.06 602.20,216.77 C602.54,217.48 602.65,218.48 602.75,219.71 C602.84,220.94 604.29,223.42 602.75,224.16 C601.21,224.90 595.05,225.21 593.51,224.16Z" fill="none" stroke="#ddd" stroke-width="0.6"/>
<ellipse cx="598.0" cy="219.5" rx="9.00" ry="8.50" fill="#7a7a7a" stroke="#eee" stroke-width="0.7"/>
<ellipse cx="598.0" cy="219.5" rx="6.48" ry="6.12" fill="#8a8a8a" stroke="#222" stroke-width="0.7"/>
<ellipse cx="598.0" cy="219.5" rx="4.32" ry="4.08" fill="#777" stroke="#ddd" stroke-width="0.6"/>
<ellipse cx="598.0" cy="219.5" rx="2.34" ry="2.21" fill="#666" stroke="#222" stroke-width="0.6"/>
<circle cx="598.0" cy="219.5" r="1.1" fill="#111"/>
</g>
<clipPath id="c16"><rect x="0" y="154.2" width="737" height="76.30000000000001"/></clipPath>
<g clip-path="url(#c16)">
<path d="M669.30,230.60 C665.55,228.50 668.92,221.45 669.50,218.00 C670.08,214.55 670.88,211.32 672.80,209.90 C674.72,208.48 678.28,209.37 681.00,209.50 C683.72,209.63 687.27,209.13 689.10,210.70 C690.93,212.27 691.52,215.58 692.00,218.90 C692.48,222.22 695.78,228.65 692.00,230.60 C688.22,232.55 673.05,232.70 669.30,230.60Z" fill="url(#bg)" stroke="#000" stroke-width="1.6" stroke-linejoin="round"/>
<path d="M670.42,229.59 C667.04,227.70 670.08,221.35 670.60,218.25 C671.12,215.15 671.84,212.24 673.57,210.96 C675.29,209.69 678.50,210.48 680.95,210.60 C683.40,210.72 686.59,210.27 688.24,211.68 C689.89,213.09 690.41,216.07 690.85,219.06 C691.29,222.05 694.25,227.84 690.85,229.59 C687.45,231.34 673.79,231.48 670.42,229.59Z" fill="none" stroke="#f2f2f2" stroke-width="0.7"/>
<path d="M671.54,228.58 C668.54,226.90 671.23,221.26 671.70,218.50 C672.17,215.74 672.81,213.15 674.34,212.02 C675.87,210.89 678.73,211.59 680.90,211.70 C683.07,211.81 685.91,211.41 687.38,212.66 C688.85,213.91 689.31,216.57 689.70,219.22 C690.09,221.87 692.73,227.02 689.70,228.58 C686.67,230.14 674.54,230.26 671.54,228.58Z" fill="none" stroke="#1a1a1a" stroke-width="0.8"/>
<path d="M672.88,227.37 C670.33,225.94 672.62,221.15 673.02,218.80 C673.42,216.45 673.96,214.26 675.26,213.29 C676.57,212.33 678.99,212.93 680.84,213.02 C682.69,213.11 685.10,212.77 686.35,213.84 C687.59,214.90 687.99,217.16 688.32,219.41 C688.65,221.67 690.89,226.04 688.32,227.37 C685.75,228.69 675.43,228.80 672.88,227.37Z" fill="none" stroke="#e8e8e8" stroke-width="0.7"/>
<path d="M674.34,226.06 C672.28,224.90 674.13,221.02 674.45,219.12 C674.77,217.23 675.21,215.45 676.26,214.67 C677.32,213.89 679.28,214.38 680.77,214.45 C682.27,214.52 684.22,214.25 685.23,215.11 C686.24,215.97 686.56,217.80 686.83,219.62 C687.09,221.44 688.91,224.98 686.83,226.06 C684.74,227.13 676.40,227.21 674.34,226.06Z" fill="none" stroke="#222" stroke-width="0.7"/>
<path d="M675.80,224.74 C674.22,223.86 675.63,220.90 675.88,219.45 C676.12,218.00 676.46,216.64 677.27,216.05 C678.07,215.45 679.57,215.82 680.71,215.88 C681.85,215.94 683.34,215.73 684.11,216.38 C684.88,217.04 685.13,218.44 685.33,219.83 C685.53,221.22 686.92,223.92 685.33,224.74 C683.74,225.56 677.37,225.62 675.80,224.74Z" fill="none" stroke="#ddd" stroke-width="0.6"/>
<ellipse cx="680.5" cy="220.5" rx="9.00" ry="8.50" fill="#7a7a7a" stroke="#eee" stroke-width="0.7"/>
<ellipse cx="680.5" cy="220.5" rx="6.48" ry="6.12" fill="#8a8a8a" stroke="#222" stroke-width="0.7"/>
<ellipse cx="680.5" cy="220.5" rx="4.32" ry="4.08" fill="#777" stroke="#ddd" stroke-width="0.6"/>
<ellipse cx="680.5" cy="220.5" rx="2.34" ry="2.21" fill="#666" stroke="#222" stroke-width="0.6"/>
<circle cx="680.5" cy="220.5" r="1.1" fill="#111"/>
</g>
<circle cx="74.2" cy="199.3" r="1.3" fill="#111"/>
<circle cx="149.5" cy="197.2" r="1.1" fill="#111"/>
<path d="M145,207 C145,203 148,201.5 152,201.5 C155,202 156,205 156.5,208 L145,208 Z" fill="#111"/>
<path d="M416.3,211.5 L417,206.5 L421,206.5 L421.5,211.5 Z" fill="#111"/>
<path d="M418,198 C416,200.5 415.5,203.5 418,204 C420.5,203.5 420.5,200.5 418,198 Z" fill="#111"/>
<path d="M496,212 L497,204 L496,199 L499,197.5 L501,200 L500,205 L502,212 Z" fill="#222"/>
<circle cx="503.5" cy="204.5" r="1.8" fill="none" stroke="#111" stroke-width="1.2"/>
<clipPath id="c17"><rect x="0" y="154.2" width="737" height="76.30000000000001"/></clipPath>
<g clip-path="url(#c17)">
<path d="M677.70,191.20 C678.12,189.43 679.63,186.12 681.00,183.80 C682.37,181.48 684.40,178.25 685.90,177.30 C687.40,176.35 689.20,177.15 690.00,178.10 C690.80,179.05 691.25,180.82 690.70,183.00 C690.15,185.18 687.78,189.02 686.70,191.20 C685.62,193.38 685.57,195.57 684.20,196.10 C682.83,196.63 679.58,195.22 678.50,194.40 C677.42,193.58 677.28,192.97 677.70,191.20Z" fill="#bbb" stroke="#000" stroke-width="1.6" stroke-linejoin="round"/>
</g>
<ellipse cx="674.8" cy="203.8" rx="1.8" ry="2.6" fill="#fff" stroke="#111" stroke-width="1.2"/>
<path d="M590,208 L592.5,205 L596,207.5 Z" fill="#111"/>
<text x="61.7" y="255.4" font-size="13" font-weight="bold" text-anchor="start" fill="#000" textLength="25.6" lengthAdjust="spacingAndGlyphs" >CD4</text>
<line x1="105.8" y1="251.1" x2="722.0" y2="251.1" stroke="#444" stroke-width="1.7"/>
<path d="M717.8,246.6 L728.6,251.1 L717.8,255.6 L720.8,251.1 Z" fill="#111"/>
<rect x="49.2" y="276.4" width="70.6" height="72.8" fill="none" stroke="#8c8c8c" stroke-width="1.1"/>
<line x1="68.8" y1="276.4" x2="68.8" y2="349.2" stroke="#a0a0a0" stroke-width="1"/>
<line x1="49.2" y1="329.7" x2="119.8" y2="329.7" stroke="#a0a0a0" stroke-width="1"/>
<line x1="48.0" y1="335.2" x2="49.7" y2="335.2" stroke="#aaa" stroke-width="0.8"/>
<line x1="62.8" y1="348.7" x2="62.8" y2="350.7" stroke="#aaa" stroke-width="0.8"/>
<line x1="48.0" y1="321.2" x2="49.7" y2="321.2" stroke="#aaa" stroke-width="0.8"/>
<line x1="76.4" y1="348.7" x2="76.4" y2="350.7" stroke="#aaa" stroke-width="0.8"/>
<line x1="48.0" y1="307.2" x2="49.7" y2="307.2" stroke="#aaa" stroke-width="0.8"/>
<line x1="89.9" y1="348.7" x2="89.9" y2="350.7" stroke="#aaa" stroke-width="0.8"/>
<line x1="48.0" y1="293.2" x2="49.7" y2="293.2" stroke="#aaa" stroke-width="0.8"/>
<line x1="103.5" y1="348.7" x2="103.5" y2="350.7" stroke="#aaa" stroke-width="0.8"/>
<line x1="48.0" y1="279.2" x2="49.7" y2="279.2" stroke="#aaa" stroke-width="0.8"/>
<line x1="117.1" y1="348.7" x2="117.1" y2="350.7" stroke="#aaa" stroke-width="0.8"/>
<rect x="130.3" y="276.4" width="69.1" height="71.8" fill="none" stroke="#8c8c8c" stroke-width="1.1"/>
<line x1="149.5" y1="276.4" x2="149.5" y2="348.2" stroke="#a0a0a0" stroke-width="1"/>
<line x1="130.3" y1="329.2" x2="199.4" y2="329.2" stroke="#a0a0a0" stroke-width="1"/>
<line x1="129.1" y1="334.4" x2="130.8" y2="334.4" stroke="#aaa" stroke-width="0.8"/>
<line x1="143.6" y1="347.7" x2="143.6" y2="349.7" stroke="#aaa" stroke-width="0.8"/>
<line x1="129.1" y1="320.6" x2="130.8" y2="320.6" stroke="#aaa" stroke-width="0.8"/>
<line x1="156.9" y1="347.7" x2="156.9" y2="349.7" stroke="#aaa" stroke-width="0.8"/>
<line x1="129.1" y1="306.8" x2="130.8" y2="306.8" stroke="#aaa" stroke-width="0.8"/>
<line x1="170.2" y1="347.7" x2="170.2" y2="349.7" stroke="#aaa" stroke-width="0.8"/>
<line x1="129.1" y1="293.0" x2="130.8" y2="293.0" stroke="#aaa" stroke-width="0.8"/>
<line x1="183.5" y1="347.7" x2="183.5" y2="349.7" stroke="#aaa" stroke-width="0.8"/>
<line x1="129.1" y1="279.2" x2="130.8" y2="279.2" stroke="#aaa" stroke-width="0.8"/>
<line x1="196.7" y1="347.7" x2="196.7" y2="349.7" stroke="#aaa" stroke-width="0.8"/>
<rect x="224.5" y="276.6" width="70.9" height="74.2" fill="none" stroke="#8c8c8c" stroke-width="1.1"/>
<line x1="242.4" y1="276.6" x2="242.4" y2="350.8" stroke="#a0a0a0" stroke-width="1"/>
<line x1="224.5" y1="332.1" x2="295.4" y2="332.1" stroke="#a0a0a0" stroke-width="1"/>
<line x1="223.3" y1="336.5" x2="225.0" y2="336.5" stroke="#aaa" stroke-width="0.8"/>
<line x1="238.1" y1="350.3" x2="238.1" y2="352.3" stroke="#aaa" stroke-width="0.8"/>
<line x1="223.3" y1="322.3" x2="225.0" y2="322.3" stroke="#aaa" stroke-width="0.8"/>
<line x1="251.8" y1="350.3" x2="251.8" y2="352.3" stroke="#aaa" stroke-width="0.8"/>
<line x1="223.3" y1="308.0" x2="225.0" y2="308.0" stroke="#aaa" stroke-width="0.8"/>
<line x1="265.4" y1="350.3" x2="265.4" y2="352.3" stroke="#aaa" stroke-width="0.8"/>
<line x1="223.3" y1="293.7" x2="225.0" y2="293.7" stroke="#aaa" stroke-width="0.8"/>
<line x1="279.0" y1="350.3" x2="279.0" y2="352.3" stroke="#aaa" stroke-width="0.8"/>
<line x1="223.3" y1="279.5" x2="225.0" y2="279.5" stroke="#aaa" stroke-width="0.8"/>
<line x1="292.7" y1="350.3" x2="292.7" y2="352.3" stroke="#aaa" stroke-width="0.8"/>
<rect x="304.4" y="276.6" width="71.8" height="74.6" fill="none" stroke="#8c8c8c" stroke-width="1.1"/>
<line x1="322.7" y1="276.6" x2="322.7" y2="351.2" stroke="#a0a0a0" stroke-width="1"/>
<line x1="304.4" y1="332.1" x2="376.2" y2="332.1" stroke="#a0a0a0" stroke-width="1"/>
<line x1="303.2" y1="336.9" x2="304.9" y2="336.9" stroke="#aaa" stroke-width="0.8"/>
<line x1="318.2" y1="350.7" x2="318.2" y2="352.7" stroke="#aaa" stroke-width="0.8"/>
<line x1="303.2" y1="322.5" x2="304.9" y2="322.5" stroke="#aaa" stroke-width="0.8"/>
<line x1="332.0" y1="350.7" x2="332.0" y2="352.7" stroke="#aaa" stroke-width="0.8"/>
<line x1="303.2" y1="308.2" x2="304.9" y2="308.2" stroke="#aaa" stroke-width="0.8"/>
<line x1="345.8" y1="350.7" x2="345.8" y2="352.7" stroke="#aaa" stroke-width="0.8"/>
<line x1="303.2" y1="293.8" x2="304.9" y2="293.8" stroke="#aaa" stroke-width="0.8"/>
<line x1="359.6" y1="350.7" x2="359.6" y2="352.7" stroke="#aaa" stroke-width="0.8"/>
<line x1="303.2" y1="279.5" x2="304.9" y2="279.5" stroke="#aaa" stroke-width="0.8"/>
<line x1="373.4" y1="350.7" x2="373.4" y2="352.7" stroke="#aaa" stroke-width="0.8"/>
<rect x="398.8" y="276.6" width="72.0" height="74.8" fill="none" stroke="#8c8c8c" stroke-width="1.1"/>
<line x1="417.5" y1="276.6" x2="417.5" y2="351.4" stroke="#a0a0a0" stroke-width="1"/>
<line x1="398.8" y1="331.3" x2="470.8" y2="331.3" stroke="#a0a0a0" stroke-width="1"/>
<line x1="397.6" y1="337.0" x2="399.3" y2="337.0" stroke="#aaa" stroke-width="0.8"/>
<line x1="412.6" y1="350.9" x2="412.6" y2="352.9" stroke="#aaa" stroke-width="0.8"/>
<line x1="397.6" y1="322.6" x2="399.3" y2="322.6" stroke="#aaa" stroke-width="0.8"/>
<line x1="426.5" y1="350.9" x2="426.5" y2="352.9" stroke="#aaa" stroke-width="0.8"/>
<line x1="397.6" y1="308.2" x2="399.3" y2="308.2" stroke="#aaa" stroke-width="0.8"/>
<line x1="440.3" y1="350.9" x2="440.3" y2="352.9" stroke="#aaa" stroke-width="0.8"/>
<line x1="397.6" y1="293.9" x2="399.3" y2="293.9" stroke="#aaa" stroke-width="0.8"/>
<line x1="454.2" y1="350.9" x2="454.2" y2="352.9" stroke="#aaa" stroke-width="0.8"/>
<line x1="397.6" y1="279.5" x2="399.3" y2="279.5" stroke="#aaa" stroke-width="0.8"/>
<line x1="468.0" y1="350.9" x2="468.0" y2="352.9" stroke="#aaa" stroke-width="0.8"/>
<rect x="475.3" y="276.6" width="70.0" height="72.7" fill="none" stroke="#8c8c8c" stroke-width="1.1"/>
<line x1="493.3" y1="276.6" x2="493.3" y2="349.3" stroke="#a0a0a0" stroke-width="1"/>
<line x1="475.3" y1="330.0" x2="545.3" y2="330.0" stroke="#a0a0a0" stroke-width="1"/>
<line x1="474.1" y1="335.3" x2="475.8" y2="335.3" stroke="#aaa" stroke-width="0.8"/>
<line x1="488.8" y1="348.8" x2="488.8" y2="350.8" stroke="#aaa" stroke-width="0.8"/>
<line x1="474.1" y1="321.3" x2="475.8" y2="321.3" stroke="#aaa" stroke-width="0.8"/>
<line x1="502.2" y1="348.8" x2="502.2" y2="350.8" stroke="#aaa" stroke-width="0.8"/>
<line x1="474.1" y1="307.4" x2="475.8" y2="307.4" stroke="#aaa" stroke-width="0.8"/>
<line x1="515.7" y1="348.8" x2="515.7" y2="350.8" stroke="#aaa" stroke-width="0.8"/>
<line x1="474.1" y1="293.4" x2="475.8" y2="293.4" stroke="#aaa" stroke-width="0.8"/>
<line x1="529.1" y1="348.8" x2="529.1" y2="350.8" stroke="#aaa" stroke-width="0.8"/>
<line x1="474.1" y1="279.4" x2="475.8" y2="279.4" stroke="#aaa" stroke-width="0.8"/>
<line x1="542.6" y1="348.8" x2="542.6" y2="350.8" stroke="#aaa" stroke-width="0.8"/>
<rect x="572.2" y="277.6" width="73.2" height="76.0" fill="none" stroke="#8c8c8c" stroke-width="1.1"/>
<line x1="590.4" y1="277.6" x2="590.4" y2="353.6" stroke="#a0a0a0" stroke-width="1"/>
<line x1="572.2" y1="334.2" x2="645.4" y2="334.2" stroke="#a0a0a0" stroke-width="1"/>
<line x1="571.0" y1="339.0" x2="572.7" y2="339.0" stroke="#aaa" stroke-width="0.8"/>
<line x1="586.3" y1="353.1" x2="586.3" y2="355.1" stroke="#aaa" stroke-width="0.8"/>
<line x1="571.0" y1="324.4" x2="572.7" y2="324.4" stroke="#aaa" stroke-width="0.8"/>
<line x1="600.4" y1="353.1" x2="600.4" y2="355.1" stroke="#aaa" stroke-width="0.8"/>
<line x1="571.0" y1="309.8" x2="572.7" y2="309.8" stroke="#aaa" stroke-width="0.8"/>
<line x1="614.4" y1="353.1" x2="614.4" y2="355.1" stroke="#aaa" stroke-width="0.8"/>
<line x1="571.0" y1="295.1" x2="572.7" y2="295.1" stroke="#aaa" stroke-width="0.8"/>
<line x1="628.5" y1="353.1" x2="628.5" y2="355.1" stroke="#aaa" stroke-width="0.8"/>
<line x1="571.0" y1="280.5" x2="572.7" y2="280.5" stroke="#aaa" stroke-width="0.8"/>
<line x1="642.6" y1="353.1" x2="642.6" y2="355.1" stroke="#aaa" stroke-width="0.8"/>
<rect x="654.5" y="277.6" width="71.5" height="73.5" fill="none" stroke="#8c8c8c" stroke-width="1.1"/>
<line x1="671.9" y1="277.6" x2="671.9" y2="351.1" stroke="#a0a0a0" stroke-width="1"/>
<line x1="654.5" y1="332.0" x2="726.0" y2="332.0" stroke="#a0a0a0" stroke-width="1"/>
<line x1="653.3" y1="337.0" x2="655.0" y2="337.0" stroke="#aaa" stroke-width="0.8"/>
<line x1="668.2" y1="350.6" x2="668.2" y2="352.6" stroke="#aaa" stroke-width="0.8"/>
<line x1="653.3" y1="322.8" x2="655.0" y2="322.8" stroke="#aaa" stroke-width="0.8"/>
<line x1="682.0" y1="350.6" x2="682.0" y2="352.6" stroke="#aaa" stroke-width="0.8"/>
<line x1="653.3" y1="308.7" x2="655.0" y2="308.7" stroke="#aaa" stroke-width="0.8"/>
<line x1="695.8" y1="350.6" x2="695.8" y2="352.6" stroke="#aaa" stroke-width="0.8"/>
<line x1="653.3" y1="294.6" x2="655.0" y2="294.6" stroke="#aaa" stroke-width="0.8"/>
<line x1="709.5" y1="350.6" x2="709.5" y2="352.6" stroke="#aaa" stroke-width="0.8"/>
<line x1="653.3" y1="280.4" x2="655.0" y2="280.4" stroke="#aaa" stroke-width="0.8"/>
<line x1="723.2" y1="350.6" x2="723.2" y2="352.6" stroke="#aaa" stroke-width="0.8"/>
<text x="51.5" y="285.0" font-size="10.6" font-weight="bold" stroke="#000" stroke-width="0.05" textLength="27.8" lengthAdjust="spacingAndGlyphs">33.7%</text>
<text x="88.8" y="285.0" font-size="10.6" font-weight="bold" stroke="#000" stroke-width="0.05" textLength="27.8" lengthAdjust="spacingAndGlyphs">2.42%</text>
<text x="90.7" y="341.2" font-size="10.6" font-weight="bold" stroke="#000" stroke-width="0.05" textLength="27.8" lengthAdjust="spacingAndGlyphs">0.64%</text>
<text x="130.5" y="285.0" font-size="10.6" font-weight="bold" stroke="#000" stroke-width="0.05" textLength="27.8" lengthAdjust="spacingAndGlyphs">20.2%</text>
<text x="169.9" y="285.0" font-size="10.6" font-weight="bold" stroke="#000" stroke-width="0.05" textLength="27.8" lengthAdjust="spacingAndGlyphs">1.08%</text>
<text x="168.4" y="341.2" font-size="10.6" font-weight="bold" stroke="#000" stroke-width="0.05" textLength="27.8" lengthAdjust="spacingAndGlyphs">1.01%</text>
<text x="231.0" y="285.0" font-size="10.6" font-weight="bold" stroke="#000" stroke-width="0.05" textLength="27.8" lengthAdjust="spacingAndGlyphs">48.1%</text>
<text x="270.5" y="285.0" font-size="10.6" font-weight="bold" stroke="#000" stroke-width="0.05" textLength="27.8" lengthAdjust="spacingAndGlyphs">1.65%</text>
<text x="269.2" y="341.2" font-size="10.6" font-weight="bold" stroke="#000" stroke-width="0.05" textLength="27.8" lengthAdjust="spacingAndGlyphs">0.13%</text>
<text x="311.5" y="285.0" font-size="10.6" font-weight="bold" stroke="#000" stroke-width="0.05" textLength="27.8" lengthAdjust="spacingAndGlyphs">37.9%</text>
<text x="353.8" y="285.0" font-size="10.6" font-weight="bold" stroke="#000" stroke-width="0.05" textLength="27.8" lengthAdjust="spacingAndGlyphs">1.07%</text>
<text x="352.1" y="341.2" font-size="10.6" font-weight="bold" stroke="#000" stroke-width="0.05" textLength="27.8" lengthAdjust="spacingAndGlyphs">1.73%</text>
<text x="402.8" y="285.0" font-size="10.6" font-weight="bold" stroke="#000" stroke-width="0.05" textLength="27.8" lengthAdjust="spacingAndGlyphs">46.0%</text>
<text x="443.7" y="285.0" font-size="10.6" font-weight="bold" stroke="#000" stroke-width="0.05" textLength="27.8" lengthAdjust="spacingAndGlyphs">0.72%</text>
<text x="443.2" y="341.2" font-size="10.6" font-weight="bold" stroke="#000" stroke-width="0.05" textLength="27.8" lengthAdjust="spacingAndGlyphs">0.20%</text>
<text x="487.0" y="285.0" font-size="10.6" font-weight="bold" stroke="#000" stroke-width="0.05" textLength="27.8" lengthAdjust="spacingAndGlyphs">36.8%</text>
<text x="527.2" y="285.0" font-size="10.6" font-weight="bold" stroke="#000" stroke-width="0.05" textLength="27.8" lengthAdjust="spacingAndGlyphs">0.55%</text>
<text x="526.7" y="341.2" font-size="10.6" font-weight="bold" stroke="#000" stroke-width="0.05" textLength="27.8" lengthAdjust="spacingAndGlyphs">0.17%</text>
<text x="580.2" y="285.0" font-size="10.6" font-weight="bold" stroke="#000" stroke-width="0.05" textLength="27.8" lengthAdjust="spacingAndGlyphs">6.29%</text>
<text x="623.2" y="285.0" font-size="10.6" font-weight="bold" stroke="#000" stroke-width="0.05" textLength="27.8" lengthAdjust="spacingAndGlyphs">2.96%</text>
<text x="622.5" y="341.2" font-size="10.6" font-weight="bold" stroke="#000" stroke-width="0.05" textLength="27.8" lengthAdjust="spacingAndGlyphs">0.37%</text>
<text x="666.4" y="285.0" font-size="10.6" font-weight="bold" stroke="#000" stroke-width="0.05" textLength="27.8" lengthAdjust="spacingAndGlyphs">4.81%</text>
<text x="707.5" y="285.0" font-size="10.6" font-weight="bold" stroke="#000" stroke-width="0.05" textLength="27.8" lengthAdjust="spacingAndGlyphs">0.44%</text>
<text x="707.5" y="341.2" font-size="10.6" font-weight="bold" stroke="#000" stroke-width="0.05" textLength="27.8" lengthAdjust="spacingAndGlyphs">0.00%</text>
<clipPath id="c18"><rect x="49.2" y="276.4" width="70.6" height="72.80000000000001"/></clipPath>
<g clip-path="url(#c18)">
<path d="M50.00,301.30 C51.53,298.18 56.38,302.20 58.20,301.30 C60.02,300.40 60.10,296.58 60.90,295.90 C61.70,295.22 61.87,296.87 63.00,297.20 C64.13,297.53 66.58,297.33 67.70,297.90 C68.82,298.47 69.30,299.35 69.70,300.60 C70.10,301.85 69.98,303.25 70.10,305.40 C70.22,307.55 70.28,310.57 70.40,313.50 C70.52,316.43 70.12,321.08 70.80,323.00 C71.48,324.92 73.77,324.10 74.50,325.00 C75.23,325.90 75.65,327.15 75.20,328.40 C74.75,329.65 73.05,330.68 71.80,332.50 C70.55,334.32 69.07,337.03 67.70,339.30 C66.33,341.57 64.95,344.50 63.60,346.10 C62.25,347.70 61.07,348.42 59.60,348.90 C58.13,349.38 56.57,348.98 54.80,349.00 C53.03,349.02 49.97,353.83 49.00,349.00 C48.03,344.17 48.83,327.95 49.00,320.00 C49.17,312.05 48.47,304.42 50.00,301.30Z" fill="url(#bg)" stroke="#000" stroke-width="1.6" stroke-linejoin="round"/>
<path d="M51.16,304.83 C52.54,302.03 56.91,305.64 58.54,304.83 C60.18,304.02 60.25,300.58 60.97,299.97 C61.69,299.35 61.84,300.84 62.86,301.14 C63.88,301.44 66.09,301.26 67.09,301.77 C68.09,302.28 68.53,303.08 68.89,304.20 C69.25,305.33 69.14,306.58 69.25,308.52 C69.36,310.45 69.42,313.17 69.52,315.81 C69.63,318.45 69.27,322.63 69.88,324.36 C70.49,326.09 72.55,325.35 73.21,326.16 C73.87,326.97 74.25,328.09 73.84,329.22 C73.44,330.34 71.91,331.28 70.78,332.91 C69.66,334.55 68.32,336.99 67.09,339.03 C65.86,341.07 64.61,343.71 63.40,345.15 C62.19,346.59 61.12,347.23 59.80,347.67 C58.48,348.10 57.07,347.75 55.48,347.76 C53.89,347.77 51.13,352.11 50.26,347.76 C49.39,343.41 50.11,328.81 50.26,321.66 C50.41,314.51 49.78,307.64 51.16,304.83Z" fill="none" stroke="#f2f2f2" stroke-width="0.7"/>
<path d="M52.32,308.36 C53.55,305.87 57.43,309.08 58.88,308.36 C60.33,307.64 60.40,304.59 61.04,304.04 C61.68,303.49 61.81,304.81 62.72,305.08 C63.63,305.35 65.59,305.19 66.48,305.64 C67.37,306.09 67.76,306.80 68.08,307.80 C68.40,308.80 68.31,309.92 68.40,311.64 C68.49,313.36 68.55,315.77 68.64,318.12 C68.73,320.47 68.41,324.19 68.96,325.72 C69.51,327.25 71.33,326.60 71.92,327.32 C72.51,328.04 72.84,329.04 72.48,330.04 C72.12,331.04 70.76,331.87 69.76,333.32 C68.76,334.77 67.57,336.95 66.48,338.76 C65.39,340.57 64.28,342.92 63.20,344.20 C62.12,345.48 61.17,346.05 60.00,346.44 C58.83,346.83 57.57,346.51 56.16,346.52 C54.75,346.53 52.29,350.39 51.52,346.52 C50.75,342.65 51.39,329.68 51.52,323.32 C51.65,316.96 51.09,310.85 52.32,308.36Z" fill="none" stroke="#1a1a1a" stroke-width="0.8"/>
<path d="M53.71,312.60 C54.75,310.48 58.05,313.21 59.29,312.60 C60.52,311.98 60.58,309.39 61.12,308.92 C61.67,308.46 61.78,309.58 62.55,309.81 C63.32,310.03 64.99,309.90 65.75,310.28 C66.51,310.67 66.84,311.27 67.11,312.12 C67.38,312.97 67.30,313.92 67.38,315.38 C67.46,316.85 67.50,318.90 67.58,320.89 C67.66,322.89 67.39,326.05 67.86,327.35 C68.32,328.66 69.87,328.10 70.37,328.71 C70.87,329.32 71.15,330.17 70.85,331.02 C70.54,331.87 69.39,332.58 68.54,333.81 C67.69,335.05 66.68,336.89 65.75,338.44 C64.82,339.98 63.88,341.97 62.96,343.06 C62.04,344.15 61.24,344.64 60.24,344.96 C59.24,345.29 58.18,345.02 56.98,345.03 C55.77,345.04 53.69,348.32 53.03,345.03 C52.37,341.75 52.92,330.72 53.03,325.31 C53.15,319.91 52.67,314.72 53.71,312.60Z" fill="none" stroke="#e8e8e8" stroke-width="0.7"/>
<path d="M55.22,317.19 C56.06,315.47 58.73,317.68 59.73,317.19 C60.73,316.69 60.77,314.59 61.21,314.21 C61.65,313.84 61.75,314.75 62.37,314.93 C62.99,315.11 64.34,315.00 64.95,315.31 C65.57,315.63 65.84,316.11 66.06,316.80 C66.28,317.49 66.21,318.26 66.27,319.44 C66.34,320.62 66.38,322.28 66.44,323.89 C66.50,325.51 66.28,328.07 66.66,329.12 C67.04,330.17 68.29,329.73 68.70,330.22 C69.10,330.72 69.33,331.40 69.08,332.09 C68.83,332.78 67.90,333.35 67.21,334.35 C66.52,335.34 65.71,336.84 64.95,338.09 C64.20,339.33 63.44,340.95 62.70,341.83 C61.96,342.71 61.31,343.10 60.50,343.37 C59.69,343.63 58.83,343.41 57.86,343.42 C56.89,343.43 55.20,346.08 54.67,343.42 C54.14,340.76 54.58,331.84 54.67,327.47 C54.76,323.10 54.38,318.90 55.22,317.19Z" fill="none" stroke="#222" stroke-width="0.7"/>
<path d="M56.73,321.77 C57.37,320.47 59.41,322.15 60.17,321.77 C60.94,321.40 60.97,319.79 61.31,319.51 C61.64,319.22 61.71,319.91 62.19,320.05 C62.66,320.19 63.69,320.11 64.16,320.35 C64.63,320.58 64.83,320.96 65.00,321.48 C65.17,322.00 65.12,322.59 65.17,323.50 C65.22,324.40 65.25,325.67 65.30,326.90 C65.34,328.13 65.18,330.08 65.46,330.89 C65.75,331.69 66.71,331.35 67.02,331.73 C67.33,332.11 67.50,332.63 67.31,333.16 C67.12,333.68 66.41,334.12 65.88,334.88 C65.36,335.64 64.74,336.78 64.16,337.73 C63.59,338.69 63.01,339.92 62.44,340.59 C61.87,341.26 61.38,341.56 60.76,341.77 C60.14,341.97 59.49,341.80 58.74,341.81 C58.00,341.81 56.71,343.84 56.31,341.81 C55.90,339.78 56.24,332.97 56.31,329.63 C56.38,326.29 56.08,323.08 56.73,321.77Z" fill="none" stroke="#ddd" stroke-width="0.6"/>
<ellipse cx="61.6" cy="336.6" rx="8.50" ry="9.50" fill="#7a7a7a" stroke="#eee" stroke-width="0.7"/>
<ellipse cx="61.6" cy="336.6" rx="6.12" ry="6.84" fill="#8a8a8a" stroke="#222" stroke-width="0.7"/>
<ellipse cx="61.6" cy="336.6" rx="4.08" ry="4.56" fill="#777" stroke="#ddd" stroke-width="0.6"/>
<ellipse cx="61.6" cy="336.6" rx="2.21" ry="2.47" fill="#666" stroke="#222" stroke-width="0.6"/>
<circle cx="61.6" cy="336.6" r="1.1" fill="#111"/>
</g>
<clipPath id="c19"><rect x="130.3" y="276.4" width="69.1" height="71.80000000000001"/></clipPath>
<g clip-path="url(#c19)">
<path d="M130.70,321.40 C131.32,315.47 132.95,315.02 134.00,312.90 C135.05,310.78 135.83,310.20 137.00,308.70 C138.17,307.20 139.88,304.50 141.00,303.90 C142.12,303.30 142.85,304.10 143.70,305.10 C144.55,306.10 145.50,307.88 146.10,309.90 C146.70,311.92 147.00,314.68 147.30,317.20 C147.60,319.72 146.90,323.60 147.90,325.00 C148.90,326.40 151.98,325.10 153.30,325.60 C154.62,326.10 155.80,326.90 155.80,328.00 C155.80,329.10 154.52,330.48 153.30,332.20 C152.08,333.92 149.90,336.28 148.50,338.30 C147.10,340.32 145.70,342.60 144.90,344.30 C144.10,346.00 146.13,347.80 143.70,348.50 C141.27,349.20 132.47,353.02 130.30,348.50 C128.13,343.98 130.08,327.33 130.70,321.40Z" fill="url(#bg)" stroke="#000" stroke-width="1.6" stroke-linejoin="round"/>
<path d="M131.63,323.09 C132.19,317.75 133.66,317.35 134.60,315.44 C135.54,313.53 136.25,313.01 137.30,311.66 C138.35,310.31 139.90,307.88 140.90,307.34 C141.91,306.80 142.56,307.52 143.33,308.42 C144.09,309.32 144.95,310.93 145.49,312.74 C146.03,314.56 146.30,317.05 146.57,319.31 C146.84,321.57 146.21,325.07 147.11,326.33 C148.01,327.59 150.78,326.42 151.97,326.87 C153.16,327.32 154.22,328.04 154.22,329.03 C154.22,330.02 153.06,331.26 151.97,332.81 C150.88,334.36 148.91,336.49 147.65,338.30 C146.39,340.12 145.13,342.17 144.41,343.70 C143.69,345.23 145.52,346.85 143.33,347.48 C141.14,348.11 133.22,351.55 131.27,347.48 C129.32,343.42 131.07,328.43 131.63,323.09Z" fill="none" stroke="#f2f2f2" stroke-width="0.7"/>
<path d="M132.56,324.78 C133.05,320.03 134.36,319.67 135.20,317.98 C136.04,316.29 136.67,315.82 137.60,314.62 C138.53,313.42 139.91,311.26 140.80,310.78 C141.69,310.30 142.28,310.94 142.96,311.74 C143.64,312.54 144.40,313.97 144.88,315.58 C145.36,317.19 145.60,319.41 145.84,321.42 C146.08,323.43 145.52,326.54 146.32,327.66 C147.12,328.78 149.59,327.74 150.64,328.14 C151.69,328.54 152.64,329.18 152.64,330.06 C152.64,330.94 151.61,332.05 150.64,333.42 C149.67,334.79 147.92,336.69 146.80,338.30 C145.68,339.91 144.56,341.74 143.92,343.10 C143.28,344.46 144.91,345.90 142.96,346.46 C141.01,347.02 133.97,350.07 132.24,346.46 C130.51,342.85 132.07,329.53 132.56,324.78Z" fill="none" stroke="#1a1a1a" stroke-width="0.8"/>
<path d="M133.68,326.81 C134.10,322.77 135.21,322.47 135.92,321.03 C136.63,319.59 137.17,319.19 137.96,318.17 C138.75,317.15 139.92,315.32 140.68,314.91 C141.44,314.50 141.94,315.04 142.52,315.72 C143.09,316.40 143.74,317.62 144.15,318.99 C144.56,320.36 144.76,322.24 144.96,323.95 C145.17,325.66 144.69,328.30 145.37,329.26 C146.05,330.21 148.15,329.32 149.04,329.66 C149.94,330.00 150.74,330.55 150.74,331.30 C150.74,332.04 149.87,332.98 149.04,334.15 C148.22,335.32 146.73,336.93 145.78,338.30 C144.83,339.67 143.88,341.22 143.33,342.38 C142.79,343.54 144.17,344.76 142.52,345.24 C140.86,345.71 134.88,348.31 133.40,345.24 C131.93,342.16 133.26,330.84 133.68,326.81Z" fill="none" stroke="#e8e8e8" stroke-width="0.7"/>
<path d="M134.88,329.00 C135.22,325.74 136.12,325.49 136.70,324.33 C137.28,323.17 137.71,322.84 138.35,322.02 C138.99,321.19 139.94,319.71 140.55,319.38 C141.16,319.05 141.57,319.49 142.03,320.04 C142.50,320.59 143.02,321.57 143.35,322.68 C143.69,323.79 143.85,325.31 144.02,326.69 C144.18,328.08 143.80,330.22 144.34,330.99 C144.89,331.75 146.59,331.04 147.31,331.31 C148.04,331.59 148.69,332.03 148.69,332.63 C148.69,333.24 147.98,334.00 147.31,334.94 C146.65,335.89 145.45,337.19 144.68,338.30 C143.91,339.41 143.13,340.67 142.69,341.60 C142.25,342.54 143.37,343.53 142.03,343.91 C140.70,344.30 135.86,346.39 134.67,343.91 C133.47,341.43 134.55,332.27 134.88,329.00Z" fill="none" stroke="#222" stroke-width="0.7"/>
<path d="M136.09,331.20 C136.35,328.71 137.04,328.52 137.48,327.63 C137.92,326.74 138.25,326.50 138.74,325.87 C139.23,325.24 139.95,324.10 140.42,323.85 C140.89,323.60 141.20,323.94 141.55,324.36 C141.91,324.78 142.31,325.53 142.56,326.37 C142.81,327.22 142.94,328.38 143.07,329.44 C143.19,330.50 142.90,332.13 143.32,332.71 C143.74,333.30 145.03,332.76 145.59,332.97 C146.14,333.18 146.64,333.51 146.64,333.97 C146.64,334.44 146.10,335.02 145.59,335.74 C145.08,336.46 144.16,337.45 143.57,338.30 C142.98,339.15 142.39,340.11 142.06,340.82 C141.72,341.53 142.58,342.29 141.55,342.58 C140.53,342.88 136.84,344.48 135.93,342.58 C135.02,340.69 135.84,333.69 136.09,331.20Z" fill="none" stroke="#ddd" stroke-width="0.6"/>
<ellipse cx="140.0" cy="338.3" rx="8.00" ry="8.50" fill="#7a7a7a" stroke="#eee" stroke-width="0.7"/>
<ellipse cx="140.0" cy="338.3" rx="5.76" ry="6.12" fill="#8a8a8a" stroke="#222" stroke-width="0.7"/>
<ellipse cx="140.0" cy="338.3" rx="3.84" ry="4.08" fill="#777" stroke="#ddd" stroke-width="0.6"/>
<ellipse cx="140.0" cy="338.3" rx="2.08" ry="2.21" fill="#666" stroke="#222" stroke-width="0.6"/>
<circle cx="140.0" cy="338.3" r="1.1" fill="#111"/>
</g>
<clipPath id="c20"><rect x="224.5" y="276.6" width="70.89999999999998" height="74.19999999999999"/></clipPath>
<g clip-path="url(#c20)">
<path d="M224.60,297.80 C225.03,291.37 226.10,301.70 227.20,301.70 C228.30,301.70 229.67,298.78 231.20,297.80 C232.73,296.82 234.67,296.18 236.40,295.80 C238.13,295.42 240.40,295.17 241.60,295.50 C242.80,295.83 243.27,295.78 243.60,297.80 C243.93,299.82 243.67,303.78 243.60,307.60 C243.53,311.42 243.10,317.22 243.20,320.70 C243.30,324.18 244.13,326.10 244.20,328.50 C244.27,330.90 244.25,332.82 243.60,335.10 C242.95,337.38 241.72,340.25 240.30,342.20 C238.88,344.15 237.07,346.35 235.10,346.80 C233.13,347.25 230.25,345.98 228.50,344.90 C226.75,343.82 225.25,348.15 224.60,340.30 C223.95,332.45 224.17,304.23 224.60,297.80Z" fill="url(#bg)" stroke="#000" stroke-width="1.6" stroke-linejoin="round"/>
<path d="M225.71,301.66 C226.10,295.87 227.06,305.17 228.05,305.17 C229.04,305.17 230.27,302.55 231.65,301.66 C233.03,300.78 234.77,300.21 236.33,299.86 C237.89,299.51 239.93,299.29 241.01,299.59 C242.09,299.89 242.51,299.85 242.81,301.66 C243.11,303.48 242.87,307.05 242.81,310.48 C242.75,313.92 242.36,319.13 242.45,322.27 C242.54,325.40 243.29,327.13 243.35,329.29 C243.41,331.45 243.40,333.18 242.81,335.23 C242.22,337.29 241.12,339.87 239.84,341.62 C238.56,343.38 236.93,345.36 235.16,345.76 C233.39,346.16 230.80,345.02 229.22,344.05 C227.64,343.07 226.29,346.98 225.71,339.91 C225.12,332.85 225.32,307.45 225.71,301.66Z" fill="none" stroke="#f2f2f2" stroke-width="0.7"/>
<path d="M226.82,305.52 C227.17,300.37 228.02,308.64 228.90,308.64 C229.78,308.64 230.87,306.31 232.10,305.52 C233.33,304.73 234.87,304.23 236.26,303.92 C237.65,303.61 239.46,303.41 240.42,303.68 C241.38,303.95 241.75,303.91 242.02,305.52 C242.29,307.13 242.07,310.31 242.02,313.36 C241.97,316.41 241.62,321.05 241.70,323.84 C241.78,326.63 242.45,328.16 242.50,330.08 C242.55,332.00 242.54,333.53 242.02,335.36 C241.50,337.19 240.51,339.48 239.38,341.04 C238.25,342.60 236.79,344.36 235.22,344.72 C233.65,345.08 231.34,344.07 229.94,343.20 C228.54,342.33 227.34,345.80 226.82,339.52 C226.30,333.24 226.47,310.67 226.82,305.52Z" fill="none" stroke="#1a1a1a" stroke-width="0.8"/>
<path d="M228.15,310.15 C228.45,305.78 229.17,312.80 229.92,312.80 C230.67,312.80 231.60,310.82 232.64,310.15 C233.68,309.48 235.00,309.05 236.18,308.79 C237.35,308.53 238.90,308.36 239.71,308.59 C240.53,308.81 240.85,308.78 241.07,310.15 C241.30,311.52 241.12,314.22 241.07,316.82 C241.03,319.41 240.73,323.36 240.80,325.72 C240.87,328.09 241.43,329.40 241.48,331.03 C241.53,332.66 241.51,333.96 241.07,335.52 C240.63,337.07 239.79,339.02 238.83,340.34 C237.86,341.67 236.63,343.17 235.29,343.47 C233.95,343.78 231.99,342.92 230.80,342.18 C229.61,341.44 228.59,344.39 228.15,339.05 C227.71,333.71 227.86,314.53 228.15,310.15Z" fill="none" stroke="#e8e8e8" stroke-width="0.7"/>
<path d="M229.59,315.17 C229.83,311.63 230.42,317.31 231.02,317.31 C231.63,317.31 232.38,315.71 233.22,315.17 C234.07,314.63 235.13,314.28 236.09,314.07 C237.04,313.86 238.28,313.72 238.94,313.90 C239.60,314.09 239.86,314.06 240.04,315.17 C240.23,316.28 240.08,318.46 240.04,320.56 C240.01,322.66 239.77,325.85 239.82,327.76 C239.88,329.68 240.34,330.74 240.38,332.06 C240.41,333.38 240.40,334.43 240.04,335.69 C239.69,336.94 239.01,338.52 238.23,339.59 C237.45,340.66 236.45,341.87 235.37,342.12 C234.29,342.37 232.70,341.67 231.74,341.07 C230.78,340.48 229.95,342.86 229.59,338.55 C229.24,334.23 229.36,318.71 229.59,315.17Z" fill="none" stroke="#222" stroke-width="0.7"/>
<path d="M231.04,320.19 C231.22,317.49 231.67,321.83 232.13,321.83 C232.59,321.83 233.17,320.60 233.81,320.19 C234.45,319.77 235.27,319.51 235.99,319.35 C236.72,319.19 237.67,319.08 238.18,319.22 C238.68,319.36 238.88,319.34 239.02,320.19 C239.16,321.03 239.05,322.70 239.02,324.30 C238.99,325.91 238.81,328.34 238.85,329.81 C238.89,331.27 239.24,332.07 239.27,333.08 C239.30,334.09 239.29,334.89 239.02,335.85 C238.75,336.81 238.23,338.02 237.63,338.84 C237.04,339.65 236.27,340.58 235.45,340.77 C234.62,340.96 233.41,340.42 232.68,339.97 C231.94,339.51 231.31,341.34 231.04,338.04 C230.76,334.74 230.86,322.89 231.04,320.19Z" fill="none" stroke="#ddd" stroke-width="0.6"/>
<ellipse cx="235.7" cy="336.4" rx="7.50" ry="8.50" fill="#7a7a7a" stroke="#eee" stroke-width="0.7"/>
<ellipse cx="235.7" cy="336.4" rx="5.40" ry="6.12" fill="#8a8a8a" stroke="#222" stroke-width="0.7"/>
<ellipse cx="235.7" cy="336.4" rx="3.60" ry="4.08" fill="#777" stroke="#ddd" stroke-width="0.6"/>
<ellipse cx="235.7" cy="336.4" rx="1.95" ry="2.21" fill="#666" stroke="#222" stroke-width="0.6"/>
<circle cx="235.7" cy="336.4" r="1.1" fill="#111"/>
<ellipse cx="236.4" cy="318.0" rx="4.00" ry="8.00" fill="#7a7a7a" stroke="#eee" stroke-width="0.7"/>
<ellipse cx="236.4" cy="318.0" rx="2.88" ry="5.76" fill="#8a8a8a" stroke="#222" stroke-width="0.7"/>
<ellipse cx="236.4" cy="318.0" rx="1.92" ry="3.84" fill="#777" stroke="#ddd" stroke-width="0.6"/>
<ellipse cx="236.4" cy="318.0" rx="1.04" ry="2.08" fill="#666" stroke="#222" stroke-width="0.6"/>
<circle cx="236.4" cy="318.0" r="1.1" fill="#111"/>
</g>
<clipPath id="c21"><rect x="304.4" y="276.6" width="71.80000000000001" height="74.59999999999997"/></clipPath>
<g clip-path="url(#c21)">
<path d="M304.70,295.30 C305.28,288.37 306.93,299.30 308.20,299.40 C309.47,299.50 310.72,296.82 312.30,295.90 C313.88,294.98 316.00,294.30 317.70,293.90 C319.40,293.50 321.47,293.05 322.50,293.50 C323.53,293.95 323.67,293.47 323.90,296.60 C324.13,299.73 323.90,306.83 323.90,312.30 C323.90,317.77 324.13,325.07 323.90,329.40 C323.67,333.73 323.18,335.57 322.50,338.30 C321.82,341.03 321.17,344.08 319.80,345.80 C318.43,347.52 316.13,348.70 314.30,348.60 C312.47,348.50 310.40,346.47 308.80,345.20 C307.20,343.93 305.38,349.32 304.70,341.00 C304.02,332.68 304.12,302.23 304.70,295.30Z" fill="url(#bg)" stroke="#000" stroke-width="1.6" stroke-linejoin="round"/>
<path d="M305.80,299.53 C306.32,293.29 307.81,303.13 308.95,303.22 C310.09,303.31 311.21,300.89 312.64,300.07 C314.06,299.25 315.97,298.63 317.50,298.27 C319.03,297.91 320.89,297.50 321.82,297.91 C322.75,298.32 322.87,297.88 323.08,300.70 C323.29,303.52 323.08,309.91 323.08,314.83 C323.08,319.75 323.29,326.32 323.08,330.22 C322.87,334.12 322.44,335.77 321.82,338.23 C321.20,340.69 320.62,343.44 319.39,344.98 C318.16,346.53 316.09,347.59 314.44,347.50 C312.79,347.41 310.93,345.58 309.49,344.44 C308.05,343.30 306.42,348.15 305.80,340.66 C305.19,333.18 305.28,305.77 305.80,299.53Z" fill="none" stroke="#f2f2f2" stroke-width="0.7"/>
<path d="M306.90,303.76 C307.37,298.21 308.69,306.96 309.70,307.04 C310.71,307.12 311.71,304.97 312.98,304.24 C314.25,303.51 315.94,302.96 317.30,302.64 C318.66,302.32 320.31,301.96 321.14,302.32 C321.97,302.68 322.07,302.29 322.26,304.80 C322.45,307.31 322.26,312.99 322.26,317.36 C322.26,321.73 322.45,327.57 322.26,331.04 C322.07,334.51 321.69,335.97 321.14,338.16 C320.59,340.35 320.07,342.79 318.98,344.16 C317.89,345.53 316.05,346.48 314.58,346.40 C313.11,346.32 311.46,344.69 310.18,343.68 C308.90,342.67 307.45,346.97 306.90,340.32 C306.35,333.67 306.43,309.31 306.90,303.76Z" fill="none" stroke="#1a1a1a" stroke-width="0.8"/>
<path d="M308.22,308.84 C308.62,304.12 309.74,311.56 310.60,311.62 C311.46,311.69 312.31,309.87 313.39,309.24 C314.46,308.62 315.90,308.16 317.06,307.88 C318.22,307.61 319.62,307.31 320.32,307.61 C321.03,307.92 321.12,307.59 321.28,309.72 C321.43,311.85 321.28,316.68 321.28,320.40 C321.28,324.11 321.43,329.08 321.28,332.02 C321.12,334.97 320.79,336.22 320.32,338.08 C319.86,339.93 319.42,342.01 318.49,343.18 C317.56,344.34 315.99,345.15 314.75,345.08 C313.50,345.01 312.10,343.63 311.01,342.77 C309.92,341.91 308.68,345.57 308.22,339.91 C307.76,334.26 307.82,313.55 308.22,308.84Z" fill="none" stroke="#e8e8e8" stroke-width="0.7"/>
<path d="M309.65,314.34 C309.97,310.52 310.88,316.53 311.57,316.59 C312.27,316.64 312.96,315.17 313.83,314.67 C314.70,314.16 315.87,313.78 316.80,313.56 C317.74,313.35 318.87,313.10 319.44,313.35 C320.01,313.59 320.08,313.33 320.21,315.05 C320.34,316.77 320.21,320.68 320.21,323.69 C320.21,326.69 320.34,330.71 320.21,333.09 C320.08,335.47 319.82,336.48 319.44,337.99 C319.06,339.49 318.71,341.17 317.95,342.11 C317.20,343.05 315.94,343.71 314.93,343.65 C313.92,343.60 312.78,342.48 311.90,341.78 C311.02,341.08 310.03,344.04 309.65,339.47 C309.27,334.90 309.33,318.15 309.65,314.34Z" fill="none" stroke="#222" stroke-width="0.7"/>
<path d="M311.08,319.83 C311.32,316.92 312.02,321.51 312.55,321.56 C313.08,321.60 313.61,320.47 314.27,320.09 C314.94,319.70 315.83,319.41 316.54,319.25 C317.25,319.08 318.12,318.89 318.56,319.08 C318.99,319.27 319.05,319.06 319.14,320.38 C319.24,321.70 319.14,324.68 319.14,326.97 C319.14,329.27 319.24,332.34 319.14,334.16 C319.05,335.98 318.84,336.75 318.56,337.89 C318.27,339.04 318.00,340.32 317.42,341.04 C316.85,341.77 315.88,342.26 315.11,342.22 C314.34,342.18 313.47,341.32 312.80,340.79 C312.13,340.26 311.37,342.52 311.08,339.03 C310.79,335.54 310.83,322.75 311.08,319.83Z" fill="none" stroke="#ddd" stroke-width="0.6"/>
<ellipse cx="315.7" cy="337.6" rx="7.50" ry="9.00" fill="#7a7a7a" stroke="#eee" stroke-width="0.7"/>
<ellipse cx="315.7" cy="337.6" rx="5.40" ry="6.48" fill="#8a8a8a" stroke="#222" stroke-width="0.7"/>
<ellipse cx="315.7" cy="337.6" rx="3.60" ry="4.32" fill="#777" stroke="#ddd" stroke-width="0.6"/>
<ellipse cx="315.7" cy="337.6" rx="1.95" ry="2.34" fill="#666" stroke="#222" stroke-width="0.6"/>
<circle cx="315.7" cy="337.6" r="1.1" fill="#111"/>
<ellipse cx="316.0" cy="318.0" rx="3.50" ry="8.00" fill="#7a7a7a" stroke="#eee" stroke-width="0.7"/>
<ellipse cx="316.0" cy="318.0" rx="2.52" ry="5.76" fill="#8a8a8a" stroke="#222" stroke-width="0.7"/>
<ellipse cx="316.0" cy="318.0" rx="1.68" ry="3.84" fill="#777" stroke="#ddd" stroke-width="0.6"/>
<ellipse cx="316.0" cy="318.0" rx="0.91" ry="2.08" fill="#666" stroke="#222" stroke-width="0.6"/>
<circle cx="316.0" cy="318.0" r="1.1" fill="#111"/>
</g>
<clipPath id="c22"><rect x="398.8" y="276.6" width="72.0" height="74.79999999999995"/></clipPath>
<g clip-path="url(#c22)">
<path d="M399.20,307.70 C399.93,301.15 402.83,307.23 404.20,306.50 C405.57,305.77 406.02,304.25 407.40,303.30 C408.78,302.35 410.92,300.90 412.50,300.80 C414.08,300.70 415.95,301.33 416.90,302.70 C417.85,304.07 417.88,305.83 418.20,309.00 C418.52,312.17 418.70,317.47 418.80,321.70 C418.90,325.93 419.12,331.02 418.80,334.40 C418.48,337.78 417.95,339.58 416.90,342.00 C415.85,344.42 414.40,347.53 412.50,348.90 C410.60,350.27 407.62,350.72 405.50,350.20 C403.38,349.68 400.85,352.88 399.80,345.80 C398.75,338.72 398.47,314.25 399.20,307.70Z" fill="url(#bg)" stroke="#000" stroke-width="1.6" stroke-linejoin="round"/>
<path d="M400.15,310.94 C400.81,305.05 403.42,310.52 404.65,309.86 C405.88,309.20 406.28,307.84 407.53,306.98 C408.77,306.12 410.69,304.82 412.12,304.73 C413.55,304.64 415.22,305.21 416.08,306.44 C416.94,307.67 416.96,309.26 417.25,312.11 C417.54,314.96 417.70,319.73 417.79,323.54 C417.88,327.35 418.08,331.92 417.79,334.97 C417.50,338.01 417.02,339.63 416.08,341.81 C415.13,343.99 413.83,346.79 412.12,348.02 C410.41,349.25 407.73,349.65 405.82,349.19 C403.91,348.73 401.63,351.61 400.69,345.23 C399.75,338.86 399.49,316.83 400.15,310.94Z" fill="none" stroke="#f2f2f2" stroke-width="0.7"/>
<path d="M401.10,314.18 C401.69,308.94 404.01,313.81 405.10,313.22 C406.19,312.63 406.55,311.42 407.66,310.66 C408.77,309.90 410.47,308.74 411.74,308.66 C413.01,308.58 414.50,309.09 415.26,310.18 C416.02,311.27 416.05,312.69 416.30,315.22 C416.55,317.75 416.70,321.99 416.78,325.38 C416.86,328.77 417.03,332.83 416.78,335.54 C416.53,338.25 416.10,339.69 415.26,341.62 C414.42,343.55 413.26,346.05 411.74,347.14 C410.22,348.23 407.83,348.59 406.14,348.18 C404.45,347.77 402.42,350.33 401.58,344.66 C400.74,338.99 400.51,319.42 401.10,314.18Z" fill="none" stroke="#1a1a1a" stroke-width="0.8"/>
<path d="M402.24,318.07 C402.74,313.61 404.71,317.75 405.64,317.25 C406.57,316.75 406.88,315.72 407.82,315.08 C408.76,314.43 410.21,313.44 411.28,313.38 C412.36,313.31 413.63,313.74 414.28,314.67 C414.92,315.60 414.94,316.80 415.16,318.95 C415.38,321.11 415.50,324.71 415.57,327.59 C415.64,330.47 415.78,333.92 415.57,336.22 C415.35,338.52 414.99,339.75 414.28,341.39 C413.56,343.04 412.58,345.15 411.28,346.08 C409.99,347.01 407.96,347.32 406.52,346.97 C405.08,346.62 403.36,348.79 402.65,343.98 C401.93,339.16 401.74,322.52 402.24,318.07Z" fill="none" stroke="#e8e8e8" stroke-width="0.7"/>
<path d="M403.47,322.28 C403.88,318.68 405.47,322.02 406.22,321.62 C406.98,321.22 407.22,320.38 407.98,319.86 C408.75,319.34 409.92,318.54 410.79,318.49 C411.66,318.43 412.69,318.78 413.21,319.53 C413.73,320.28 413.75,321.25 413.93,323.00 C414.10,324.74 414.20,327.65 414.25,329.98 C414.31,332.31 414.43,335.10 414.25,336.96 C414.08,338.83 413.79,339.82 413.21,341.14 C412.63,342.47 411.84,344.19 410.79,344.94 C409.75,345.69 408.10,345.94 406.94,345.66 C405.78,345.37 404.38,347.13 403.81,343.24 C403.23,339.34 403.07,325.88 403.47,322.28Z" fill="none" stroke="#222" stroke-width="0.7"/>
<path d="M404.71,326.49 C405.02,323.74 406.24,326.30 406.81,325.99 C407.38,325.68 407.57,325.04 408.15,324.64 C408.74,324.25 409.63,323.64 410.30,323.59 C410.96,323.55 411.75,323.82 412.14,324.39 C412.54,324.97 412.56,325.71 412.69,327.04 C412.82,328.37 412.90,330.59 412.94,332.37 C412.98,334.15 413.07,336.29 412.94,337.71 C412.81,339.13 412.59,339.88 412.14,340.90 C411.70,341.91 411.09,343.22 410.30,343.80 C409.50,344.37 408.25,344.56 407.36,344.34 C406.47,344.12 405.40,345.47 404.96,342.49 C404.52,339.52 404.40,329.24 404.71,326.49Z" fill="none" stroke="#ddd" stroke-width="0.6"/>
<ellipse cx="408.7" cy="340.1" rx="7.00" ry="8.00" fill="#7a7a7a" stroke="#eee" stroke-width="0.7"/>
<ellipse cx="408.7" cy="340.1" rx="5.04" ry="5.76" fill="#8a8a8a" stroke="#222" stroke-width="0.7"/>
<ellipse cx="408.7" cy="340.1" rx="3.36" ry="3.84" fill="#777" stroke="#ddd" stroke-width="0.6"/>
<ellipse cx="408.7" cy="340.1" rx="1.82" ry="2.08" fill="#666" stroke="#222" stroke-width="0.6"/>
<circle cx="408.7" cy="340.1" r="1.1" fill="#111"/>
<ellipse cx="410.0" cy="320.0" rx="5.00" ry="10.00" fill="#7a7a7a" stroke="#eee" stroke-width="0.7"/>
<ellipse cx="410.0" cy="320.0" rx="3.60" ry="7.20" fill="#8a8a8a" stroke="#222" stroke-width="0.7"/>
<ellipse cx="410.0" cy="320.0" rx="2.40" ry="4.80" fill="#777" stroke="#ddd" stroke-width="0.6"/>
<ellipse cx="410.0" cy="320.0" rx="1.30" ry="2.60" fill="#666" stroke="#222" stroke-width="0.6"/>
<circle cx="410.0" cy="320.0" r="1.1" fill="#111"/>
</g>
<clipPath id="c23"><rect x="475.3" y="276.6" width="69.99999999999994" height="72.69999999999999"/></clipPath>
<g clip-path="url(#c23)">
<path d="M475.70,309.30 C476.33,302.50 478.25,309.63 479.50,308.70 C480.75,307.77 482.07,304.90 483.20,303.70 C484.33,302.50 485.05,301.50 486.30,301.50 C487.55,301.50 489.60,302.70 490.70,303.70 C491.80,304.70 492.43,305.10 492.90,307.50 C493.37,309.90 493.35,314.27 493.50,318.10 C493.65,321.93 493.95,327.07 493.80,330.50 C493.65,333.93 493.32,336.10 492.60,338.70 C491.88,341.30 490.55,344.30 489.50,346.10 C488.45,347.90 488.60,348.93 486.30,349.50 C484.00,350.07 477.47,356.20 475.70,349.50 C473.93,342.80 475.07,316.10 475.70,309.30Z" fill="url(#bg)" stroke="#000" stroke-width="1.6" stroke-linejoin="round"/>
<path d="M476.61,312.24 C477.18,306.12 478.90,312.54 480.03,311.70 C481.15,310.86 482.34,308.28 483.36,307.20 C484.38,306.12 485.03,305.22 486.15,305.22 C487.28,305.22 489.12,306.30 490.11,307.20 C491.10,308.10 491.67,308.46 492.09,310.62 C492.51,312.78 492.50,316.71 492.63,320.16 C492.76,323.61 493.04,328.23 492.90,331.32 C492.77,334.41 492.47,336.36 491.82,338.70 C491.18,341.04 489.97,343.74 489.03,345.36 C488.08,346.98 488.22,347.91 486.15,348.42 C484.08,348.93 478.20,354.45 476.61,348.42 C475.02,342.39 476.04,318.36 476.61,312.24Z" fill="none" stroke="#f2f2f2" stroke-width="0.7"/>
<path d="M477.52,315.18 C478.03,309.74 479.56,315.45 480.56,314.70 C481.56,313.95 482.61,311.66 483.52,310.70 C484.43,309.74 485.00,308.94 486.00,308.94 C487.00,308.94 488.64,309.90 489.52,310.70 C490.40,311.50 490.91,311.82 491.28,313.74 C491.65,315.66 491.64,319.15 491.76,322.22 C491.88,325.29 492.12,329.39 492.00,332.14 C491.88,334.89 491.61,336.62 491.04,338.70 C490.47,340.78 489.40,343.18 488.56,344.62 C487.72,346.06 487.84,346.89 486.00,347.34 C484.16,347.79 478.93,352.70 477.52,347.34 C476.11,341.98 477.01,320.62 477.52,315.18Z" fill="none" stroke="#1a1a1a" stroke-width="0.8"/>
<path d="M478.61,318.71 C479.04,314.08 480.35,318.93 481.20,318.30 C482.05,317.67 482.94,315.72 483.71,314.90 C484.48,314.08 484.97,313.40 485.82,313.40 C486.67,313.40 488.06,314.22 488.81,314.90 C489.56,315.58 489.99,315.85 490.31,317.48 C490.63,319.12 490.61,322.09 490.72,324.69 C490.82,327.30 491.02,330.79 490.92,333.12 C490.82,335.46 490.59,336.93 490.10,338.70 C489.62,340.47 488.71,342.51 488.00,343.73 C487.28,344.96 487.38,345.66 485.82,346.04 C484.26,346.43 479.81,350.60 478.61,346.04 C477.41,341.49 478.18,323.33 478.61,318.71Z" fill="none" stroke="#e8e8e8" stroke-width="0.7"/>
<path d="M479.80,322.53 C480.14,318.79 481.20,322.71 481.88,322.20 C482.57,321.69 483.30,320.11 483.92,319.45 C484.54,318.79 484.94,318.24 485.62,318.24 C486.31,318.24 487.44,318.90 488.05,319.45 C488.65,320.00 489.00,320.22 489.25,321.54 C489.51,322.86 489.50,325.26 489.58,327.37 C489.67,329.48 489.83,332.30 489.75,334.19 C489.67,336.08 489.48,337.27 489.09,338.70 C488.70,340.13 487.96,341.78 487.38,342.77 C486.81,343.76 486.89,344.33 485.62,344.64 C484.36,344.95 480.77,348.32 479.80,344.64 C478.82,340.95 479.45,326.27 479.80,322.53Z" fill="none" stroke="#222" stroke-width="0.7"/>
<path d="M480.98,326.35 C481.24,323.50 482.05,326.49 482.57,326.10 C483.10,325.71 483.65,324.50 484.13,324.00 C484.60,323.50 484.90,323.08 485.43,323.08 C485.96,323.08 486.82,323.58 487.28,324.00 C487.74,324.42 488.01,324.59 488.20,325.60 C488.40,326.60 488.39,328.44 488.45,330.05 C488.52,331.66 488.64,333.81 488.58,335.26 C488.52,336.70 488.38,337.61 488.08,338.70 C487.78,339.79 487.22,341.05 486.77,341.81 C486.33,342.56 486.40,343.00 485.43,343.24 C484.46,343.47 481.72,346.05 480.98,343.24 C480.24,340.42 480.71,329.21 480.98,326.35Z" fill="none" stroke="#ddd" stroke-width="0.6"/>
<ellipse cx="484.8" cy="338.7" rx="7.00" ry="8.50" fill="#7a7a7a" stroke="#eee" stroke-width="0.7"/>
<ellipse cx="484.8" cy="338.7" rx="5.04" ry="6.12" fill="#8a8a8a" stroke="#222" stroke-width="0.7"/>
<ellipse cx="484.8" cy="338.7" rx="3.36" ry="4.08" fill="#777" stroke="#ddd" stroke-width="0.6"/>
<ellipse cx="484.8" cy="338.7" rx="1.82" ry="2.21" fill="#666" stroke="#222" stroke-width="0.6"/>
<circle cx="484.8" cy="338.7" r="1.1" fill="#111"/>
<ellipse cx="486.0" cy="320.0" rx="4.00" ry="9.00" fill="#7a7a7a" stroke="#eee" stroke-width="0.7"/>
<ellipse cx="486.0" cy="320.0" rx="2.88" ry="6.48" fill="#8a8a8a" stroke="#222" stroke-width="0.7"/>
<ellipse cx="486.0" cy="320.0" rx="1.92" ry="4.32" fill="#777" stroke="#ddd" stroke-width="0.6"/>
<ellipse cx="486.0" cy="320.0" rx="1.04" ry="2.34" fill="#666" stroke="#222" stroke-width="0.6"/>
<circle cx="486.0" cy="320.0" r="1.1" fill="#111"/>
</g>
<clipPath id="c24"><rect x="572.2" y="277.6" width="73.19999999999993" height="76.0"/></clipPath>
<g clip-path="url(#c24)">
<path d="M572.50,325.20 C573.15,319.95 574.68,323.08 576.10,322.00 C577.52,320.92 579.77,319.58 581.00,318.70 C582.23,317.82 582.82,316.70 583.50,316.70 C584.18,316.70 584.43,317.28 585.10,318.70 C585.77,320.12 587.37,323.15 587.50,325.20 C587.63,327.25 585.90,329.50 585.90,331.00 C585.90,332.50 587.08,333.27 587.50,334.20 C587.92,335.13 588.05,335.25 588.40,336.60 C588.75,337.95 589.60,339.48 589.60,342.30 C589.60,345.12 591.30,351.63 588.40,353.50 C585.50,355.37 574.85,358.22 572.20,353.50 C569.55,348.78 571.85,330.45 572.50,325.20Z" fill="url(#bg)" stroke="#000" stroke-width="1.6" stroke-linejoin="round"/>
<path d="M573.10,327.18 C573.69,322.46 575.07,325.28 576.34,324.30 C577.62,323.32 579.64,322.12 580.75,321.33 C581.86,320.53 582.38,319.53 583.00,319.53 C583.62,319.53 583.84,320.05 584.44,321.33 C585.04,322.61 586.48,325.34 586.60,327.18 C586.72,329.02 585.16,331.05 585.16,332.40 C585.16,333.75 586.23,334.44 586.60,335.28 C586.98,336.12 587.10,336.23 587.41,337.44 C587.72,338.65 588.49,340.03 588.49,342.57 C588.49,345.11 590.02,350.97 587.41,352.65 C584.80,354.33 575.22,356.89 572.83,352.65 C570.45,348.40 572.51,331.90 573.10,327.18Z" fill="none" stroke="#f2f2f2" stroke-width="0.7"/>
<path d="M573.70,329.16 C574.22,324.96 575.45,327.47 576.58,326.60 C577.71,325.73 579.51,324.67 580.50,323.96 C581.49,323.25 581.95,322.36 582.50,322.36 C583.05,322.36 583.25,322.83 583.78,323.96 C584.31,325.09 585.59,327.52 585.70,329.16 C585.81,330.80 584.42,332.60 584.42,333.80 C584.42,335.00 585.37,335.61 585.70,336.36 C586.03,337.11 586.14,337.20 586.42,338.28 C586.70,339.36 587.38,340.59 587.38,342.84 C587.38,345.09 588.74,350.31 586.42,351.80 C584.10,353.29 575.58,355.57 573.46,351.80 C571.34,348.03 573.18,333.36 573.70,329.16Z" fill="none" stroke="#1a1a1a" stroke-width="0.8"/>
<path d="M574.42,331.54 C574.86,327.97 575.90,330.10 576.87,329.36 C577.83,328.62 579.36,327.72 580.20,327.12 C581.04,326.52 581.44,325.76 581.90,325.76 C582.36,325.76 582.53,326.15 582.99,327.12 C583.44,328.08 584.53,330.14 584.62,331.54 C584.71,332.93 583.53,334.46 583.53,335.48 C583.53,336.50 584.34,337.02 584.62,337.66 C584.90,338.29 584.99,338.37 585.23,339.29 C585.47,340.21 586.05,341.25 586.05,343.16 C586.05,345.08 587.20,349.51 585.23,350.78 C583.26,352.05 576.02,353.99 574.22,350.78 C572.41,347.57 573.98,335.11 574.42,331.54Z" fill="none" stroke="#e8e8e8" stroke-width="0.7"/>
<path d="M575.20,334.11 C575.56,331.22 576.40,332.95 577.18,332.35 C577.96,331.75 579.20,331.02 579.88,330.53 C580.55,330.05 580.87,329.44 581.25,329.44 C581.63,329.44 581.76,329.76 582.13,330.53 C582.50,331.31 583.38,332.98 583.45,334.11 C583.52,335.24 582.57,336.48 582.57,337.30 C582.57,338.12 583.22,338.55 583.45,339.06 C583.68,339.57 583.75,339.64 583.94,340.38 C584.14,341.12 584.61,341.97 584.61,343.51 C584.61,345.06 585.54,348.65 583.94,349.68 C582.35,350.70 576.49,352.27 575.03,349.68 C573.58,347.08 574.84,337.00 575.20,334.11Z" fill="none" stroke="#222" stroke-width="0.7"/>
<path d="M575.98,336.68 C576.25,334.48 576.90,335.79 577.49,335.34 C578.09,334.88 579.03,334.32 579.55,333.95 C580.07,333.58 580.31,333.11 580.60,333.11 C580.89,333.11 580.99,333.36 581.27,333.95 C581.55,334.55 582.22,335.82 582.28,336.68 C582.34,337.54 581.61,338.49 581.61,339.12 C581.61,339.75 582.11,340.07 582.28,340.46 C582.45,340.86 582.51,340.91 582.66,341.47 C582.81,342.04 583.16,342.68 583.16,343.87 C583.16,345.05 583.88,347.79 582.66,348.57 C581.44,349.35 576.97,350.55 575.85,348.57 C574.74,346.59 575.71,338.89 575.98,336.68Z" fill="none" stroke="#ddd" stroke-width="0.6"/>
<ellipse cx="578.5" cy="345.0" rx="6.50" ry="7.50" fill="#7a7a7a" stroke="#eee" stroke-width="0.7"/>
<ellipse cx="578.5" cy="345.0" rx="4.68" ry="5.40" fill="#8a8a8a" stroke="#222" stroke-width="0.7"/>
<ellipse cx="578.5" cy="345.0" rx="3.12" ry="3.60" fill="#777" stroke="#ddd" stroke-width="0.6"/>
<ellipse cx="578.5" cy="345.0" rx="1.69" ry="1.95" fill="#666" stroke="#222" stroke-width="0.6"/>
<circle cx="578.5" cy="345.0" r="1.1" fill="#111"/>
</g>
<clipPath id="c25"><rect x="654.5" y="277.6" width="71.5" height="73.5"/></clipPath>
<g clip-path="url(#c25)">
<path d="M654.20,333.90 C655.77,330.93 661.25,332.97 663.60,333.20 C665.95,333.43 667.17,334.50 668.30,335.30 C669.43,336.10 670.17,336.65 670.40,338.00 C670.63,339.35 670.27,341.23 669.70,343.40 C669.13,345.57 669.58,349.73 667.00,351.00 C664.42,352.27 656.33,353.85 654.20,351.00 C652.07,348.15 652.63,336.87 654.20,333.90Z" fill="url(#bg)" stroke="#000" stroke-width="1.6" stroke-linejoin="round"/>
<path d="M654.88,334.86 C656.29,332.19 661.23,334.02 663.34,334.23 C665.46,334.44 666.55,335.40 667.57,336.12 C668.59,336.84 669.25,337.34 669.46,338.55 C669.67,339.76 669.34,341.46 668.83,343.41 C668.32,345.36 668.73,349.11 666.40,350.25 C664.07,351.39 656.80,352.81 654.88,350.25 C652.96,347.69 653.47,337.53 654.88,334.86Z" fill="none" stroke="#f2f2f2" stroke-width="0.7"/>
<path d="M655.56,335.82 C656.81,333.45 661.20,335.07 663.08,335.26 C664.96,335.45 665.93,336.30 666.84,336.94 C667.75,337.58 668.33,338.02 668.52,339.10 C668.71,340.18 668.41,341.69 667.96,343.42 C667.51,345.15 667.87,348.49 665.80,349.50 C663.73,350.51 657.27,351.78 655.56,349.50 C653.85,347.22 654.31,338.19 655.56,335.82Z" fill="none" stroke="#1a1a1a" stroke-width="0.8"/>
<path d="M656.38,336.97 C657.44,334.95 661.17,336.34 662.77,336.50 C664.37,336.65 665.19,337.38 665.96,337.92 C666.73,338.47 667.23,338.84 667.39,339.76 C667.55,340.68 667.30,341.96 666.92,343.43 C666.53,344.91 666.84,347.74 665.08,348.60 C663.32,349.46 657.83,350.54 656.38,348.60 C654.93,346.66 655.31,338.99 656.38,336.97Z" fill="none" stroke="#e8e8e8" stroke-width="0.7"/>
<path d="M657.26,338.22 C658.12,336.59 661.14,337.71 662.43,337.83 C663.72,337.96 664.39,338.55 665.01,338.99 C665.64,339.43 666.04,339.73 666.17,340.48 C666.30,341.22 666.10,342.25 665.79,343.44 C665.47,344.64 665.72,346.93 664.30,347.62 C662.88,348.32 658.43,349.19 657.26,347.62 C656.09,346.06 656.40,339.85 657.26,338.22Z" fill="none" stroke="#222" stroke-width="0.7"/>
<path d="M658.14,339.47 C658.80,338.22 661.11,339.08 662.09,339.17 C663.08,339.27 663.59,339.72 664.07,340.06 C664.54,340.39 664.85,340.62 664.95,341.19 C665.05,341.76 664.89,342.55 664.65,343.46 C664.42,344.37 664.61,346.12 663.52,346.65 C662.43,347.18 659.04,347.85 658.14,346.65 C657.25,345.45 657.49,340.71 658.14,339.47Z" fill="none" stroke="#ddd" stroke-width="0.6"/>
<ellipse cx="661.0" cy="343.5" rx="6.00" ry="6.50" fill="#7a7a7a" stroke="#eee" stroke-width="0.7"/>
<ellipse cx="661.0" cy="343.5" rx="4.32" ry="4.68" fill="#8a8a8a" stroke="#222" stroke-width="0.7"/>
<ellipse cx="661.0" cy="343.5" rx="2.88" ry="3.12" fill="#777" stroke="#ddd" stroke-width="0.6"/>
<ellipse cx="661.0" cy="343.5" rx="1.56" ry="1.69" fill="#666" stroke="#222" stroke-width="0.6"/>
<circle cx="661.0" cy="343.5" r="1.1" fill="#111"/>
</g>
<path d="M588,336 C590.5,332.5 594,330 598.5,328" fill="none" stroke="#111" stroke-width="3" stroke-linecap="round"/>
<circle cx="600.6" cy="325.2" r="1.2" fill="#111"/>
<circle cx="607.1" cy="328.5" r="0.7" fill="#444"/>
<path d="M615.5,315.5 C612,314.8 607.8,315.5 607.8,318.3 C607.8,321 612,321.5 615.5,320.5 M615.5,314.5 L615.8,321.5 C616.5,322.8 618,322.8 618.8,322" fill="none" stroke="#111" stroke-width="2.2"/>
<rect x="661" y="317.5" width="3.5" height="4.5" fill="#fff" stroke="#111" stroke-width="1.2"/>
<circle cx="667.6" cy="317" r="0.9" fill="#111"/>
<circle cx="663.5" cy="329.5" r="2.6" fill="#fff" stroke="#111" stroke-width="1.4"/>
<circle cx="675.4" cy="329.2" r="0.8" fill="#111"/>
<circle cx="655.8" cy="331.5" r="1.2" fill="#111"/>
<circle cx="50.7" cy="294.5" r="1" fill="#111"/>
<text x="59.6" y="370.0" font-size="13.3" font-weight="bold" text-anchor="start" fill="#000" textLength="40.6" lengthAdjust="spacingAndGlyphs" >IL-17A</text>
<line x1="129.5" y1="365.5" x2="722.0" y2="365.5" stroke="#444" stroke-width="1.7"/>
<path d="M718.3,361 L729.2,365.5 L718.3,370 L721.3,365.5 Z" fill="#111"/>
</g>
<text x="22.4" y="407.4" font-size="18.5" font-weight="bold" text-anchor="start" fill="#000" >b</text>
<text x="116.7" y="410.0" font-size="14.3" font-weight="bold" text-anchor="middle" fill="#000" >Spleen</text>
<text x="279.7" y="410.0" font-size="14.3" font-weight="bold" text-anchor="middle" fill="#000" >Liver</text>
<text x="436.5" y="410.0" font-size="14.3" font-weight="bold" text-anchor="middle" fill="#000" >Lung</text>
<text x="602.3" y="410.0" font-size="14.3" font-weight="bold" text-anchor="middle" fill="#000" >IEL</text>
<line x1="53.7" y1="431.0" x2="53.7" y2="514.1" stroke="#333" stroke-width="1.3"/>
<line x1="51.2" y1="431.0" x2="53.7" y2="431.0" stroke="#333" stroke-width="1"/>
<text x="49.5" y="433.1" font-size="6" font-weight="bold" text-anchor="end" fill="#000" >40</text>
<line x1="51.2" y1="452.0" x2="53.7" y2="452.0" stroke="#333" stroke-width="1"/>
<text x="49.5" y="454.1" font-size="6" font-weight="bold" text-anchor="end" fill="#000" >30</text>
<line x1="51.2" y1="472.9" x2="53.7" y2="472.9" stroke="#333" stroke-width="1"/>
<text x="49.5" y="475.0" font-size="6" font-weight="bold" text-anchor="end" fill="#000" >20</text>
<line x1="51.2" y1="493.5" x2="53.7" y2="493.5" stroke="#333" stroke-width="1"/>
<text x="49.5" y="495.6" font-size="6" font-weight="bold" text-anchor="end" fill="#000" >10</text>
<line x1="51.2" y1="514.1" x2="53.7" y2="514.1" stroke="#333" stroke-width="1"/>
<text x="49.5" y="516.2" font-size="6" font-weight="bold" text-anchor="end" fill="#000" >0</text>
<line x1="53.7" y1="514.1" x2="176.5" y2="514.1" stroke="#333" stroke-width="1.3"/>
<text x="38.4" y="472.9" font-size="7.5" font-weight="bold" text-anchor="middle" fill="#000" transform="rotate(-90 38.4 472.9)" >%</text>
<line x1="63.4" y1="481.0" x2="63.4" y2="478.0" stroke="#808080" stroke-width="1"/>
<line x1="61.6" y1="478.0" x2="65.2" y2="478.0" stroke="#808080" stroke-width="1"/>
<rect x="59.5" y="481.0" width="7.8" height="33.1" fill="#000" stroke="none" stroke-width="1"/>
<line x1="74.7" y1="488.7" x2="74.7" y2="487.5" stroke="#808080" stroke-width="1"/>
<line x1="72.9" y1="487.5" x2="76.5" y2="487.5" stroke="#808080" stroke-width="1"/>
<rect x="71.4" y="489.3" width="6.6" height="24.8" fill="#fff" stroke="#000" stroke-width="1.2"/>
<line x1="93.9" y1="441.0" x2="93.9" y2="432.2" stroke="#808080" stroke-width="1"/>
<line x1="92.1" y1="432.2" x2="95.7" y2="432.2" stroke="#808080" stroke-width="1"/>
<rect x="89.9" y="441.0" width="8.0" height="73.1" fill="#000" stroke="none" stroke-width="1"/>
<line x1="105.1" y1="483.7" x2="105.1" y2="474.9" stroke="#808080" stroke-width="1"/>
<line x1="103.2" y1="474.9" x2="106.9" y2="474.9" stroke="#808080" stroke-width="1"/>
<rect x="101.5" y="484.3" width="7.1" height="29.8" fill="#fff" stroke="#000" stroke-width="1.2"/>
<rect x="120.5" y="511.8" width="8.0" height="2.3" fill="#000" stroke="none" stroke-width="1"/>
<line x1="136.2" y1="507.5" x2="136.2" y2="506.0" stroke="#808080" stroke-width="1"/>
<line x1="134.4" y1="506.0" x2="137.9" y2="506.0" stroke="#808080" stroke-width="1"/>
<rect x="132.9" y="508.1" width="6.5" height="6.0" fill="#fff" stroke="#000" stroke-width="1.2"/>
<rect x="150.6" y="509.8" width="8.8" height="4.3" fill="#000" stroke="none" stroke-width="1"/>
<rect x="163.2" y="511.6" width="6.9" height="2.5" fill="#fff" stroke="#000" stroke-width="1.2"/>
<line x1="64.0" y1="474.6" x2="75.3" y2="474.6" stroke="#777" stroke-width="1.2"/>
<text x="69.7" y="476.4" font-size="10" font-weight="bold" text-anchor="middle" fill="#000" >*</text>
<line x1="93.4" y1="429.0" x2="105.4" y2="429.0" stroke="#777" stroke-width="1.2"/>
<text x="99.4" y="430.8" font-size="10" font-weight="bold" text-anchor="middle" fill="#000" >*</text>
<line x1="123.0" y1="501.2" x2="135.5" y2="501.2" stroke="#777" stroke-width="1.2"/>
<text x="129.2" y="503.0" font-size="10" font-weight="bold" text-anchor="middle" fill="#000" >*</text>
<line x1="154.4" y1="501.2" x2="167.0" y2="501.2" stroke="#777" stroke-width="1.2"/>
<text x="160.7" y="503.0" font-size="10" font-weight="bold" text-anchor="middle" fill="#000" >**</text>
<text x="69.7" y="525.8" font-size="8.2" font-weight="bold" text-anchor="middle" fill="#000" >CD69</text>
<line x1="69.7" y1="514.1" x2="69.7" y2="516.3" stroke="#444" stroke-width="0.9"/>
<text x="98.5" y="525.8" font-size="8.2" font-weight="bold" text-anchor="middle" fill="#000" >Th1</text>
<line x1="98.5" y1="514.1" x2="98.5" y2="516.3" stroke="#444" stroke-width="0.9"/>
<text x="130.5" y="525.8" font-size="8.2" font-weight="bold" text-anchor="middle" fill="#000" >Th2</text>
<line x1="130.5" y1="514.1" x2="130.5" y2="516.3" stroke="#444" stroke-width="0.9"/>
<text x="162.0" y="525.8" font-size="8.2" font-weight="bold" text-anchor="middle" fill="#000" >Th17</text>
<line x1="162.0" y1="514.1" x2="162.0" y2="516.3" stroke="#444" stroke-width="0.9"/>
<line x1="220.6" y1="433.4" x2="220.6" y2="471.1" stroke="#333" stroke-width="1.3"/>
<line x1="220.6" y1="476.6" x2="220.6" y2="514.8" stroke="#333" stroke-width="1.3"/>
<line x1="218.1" y1="433.4" x2="220.6" y2="433.4" stroke="#333" stroke-width="1"/>
<text x="216.2" y="435.5" font-size="6" font-weight="bold" text-anchor="end" fill="#000" >80</text>
<line x1="218.1" y1="443.2" x2="220.6" y2="443.2" stroke="#333" stroke-width="1"/>
<text x="216.2" y="445.3" font-size="6" font-weight="bold" text-anchor="end" fill="#000" >70</text>
<line x1="218.1" y1="452.8" x2="220.6" y2="452.8" stroke="#333" stroke-width="1"/>
<text x="216.2" y="454.9" font-size="6" font-weight="bold" text-anchor="end" fill="#000" >60</text>
<line x1="218.1" y1="462.3" x2="220.6" y2="462.3" stroke="#333" stroke-width="1"/>
<text x="216.2" y="464.4" font-size="6" font-weight="bold" text-anchor="end" fill="#000" >50</text>
<line x1="218.1" y1="471.1" x2="220.6" y2="471.1" stroke="#333" stroke-width="1"/>
<text x="216.2" y="473.2" font-size="6" font-weight="bold" text-anchor="end" fill="#000" >40</text>
<line x1="218.1" y1="477.1" x2="220.6" y2="477.1" stroke="#333" stroke-width="1"/>
<text x="216.2" y="479.2" font-size="6" font-weight="bold" text-anchor="end" fill="#000" >20</text>
<line x1="218.1" y1="486.7" x2="220.6" y2="486.7" stroke="#333" stroke-width="1"/>
<text x="216.2" y="488.8" font-size="6" font-weight="bold" text-anchor="end" fill="#000" >15</text>
<line x1="218.1" y1="496.0" x2="220.6" y2="496.0" stroke="#333" stroke-width="1"/>
<text x="216.2" y="498.1" font-size="6" font-weight="bold" text-anchor="end" fill="#000" >10</text>
<line x1="218.1" y1="505.5" x2="220.6" y2="505.5" stroke="#333" stroke-width="1"/>
<text x="216.2" y="507.6" font-size="6" font-weight="bold" text-anchor="end" fill="#000" >5</text>
<line x1="218.1" y1="514.8" x2="220.6" y2="514.8" stroke="#333" stroke-width="1"/>
<text x="216.2" y="516.9" font-size="6" font-weight="bold" text-anchor="end" fill="#000" >0</text>
<line x1="220.6" y1="514.8" x2="342.6" y2="514.8" stroke="#333" stroke-width="1.3"/>
<text x="205.7" y="474.0" font-size="7.5" font-weight="bold" text-anchor="middle" fill="#000" transform="rotate(-90 205.7 474.0)" >%</text>
<line x1="229.9" y1="454.8" x2="229.9" y2="452.0" stroke="#808080" stroke-width="1"/>
<line x1="228.1" y1="452.0" x2="231.7" y2="452.0" stroke="#808080" stroke-width="1"/>
<rect x="225.9" y="454.8" width="8.0" height="16.3" fill="#000" stroke="none" stroke-width="1"/>
<rect x="225.9" y="476.6" width="8.0" height="38.2" fill="#000" stroke="none" stroke-width="1"/>
<line x1="241.1" y1="465.3" x2="241.1" y2="462.3" stroke="#808080" stroke-width="1"/>
<line x1="239.3" y1="462.3" x2="242.9" y2="462.3" stroke="#808080" stroke-width="1"/>
<path d="M237.6,471.1 L237.6,465.9 L244.6,465.9 L244.6,471.1" fill="#fff" stroke="#000" stroke-width="1.2"/>
<path d="M237.6,476.6 L237.6,514.8 M244.6,514.8 L244.6,476.6" fill="none" stroke="#000" stroke-width="1.2"/>
<line x1="260.6" y1="462.3" x2="260.6" y2="459.5" stroke="#808080" stroke-width="1"/>
<line x1="258.7" y1="459.5" x2="262.4" y2="459.5" stroke="#808080" stroke-width="1"/>
<rect x="256.5" y="462.3" width="8.1" height="8.8" fill="#000" stroke="none" stroke-width="1"/>
<rect x="256.5" y="476.6" width="8.1" height="38.2" fill="#000" stroke="none" stroke-width="1"/>
<line x1="271.4" y1="469.6" x2="271.4" y2="469.0" stroke="#808080" stroke-width="1"/>
<line x1="269.5" y1="469.0" x2="273.2" y2="469.0" stroke="#808080" stroke-width="1"/>
<path d="M267.9,471.1 L267.9,470.2 L274.8,470.2 L274.8,471.1" fill="#fff" stroke="#000" stroke-width="1.2"/>
<path d="M267.9,476.6 L267.9,514.8 M274.8,514.8 L274.8,476.6" fill="none" stroke="#000" stroke-width="1.2"/>
<line x1="290.8" y1="499.2" x2="290.8" y2="497.5" stroke="#808080" stroke-width="1"/>
<line x1="289.0" y1="497.5" x2="292.6" y2="497.5" stroke="#808080" stroke-width="1"/>
<rect x="286.7" y="499.2" width="8.2" height="15.6" fill="#000" stroke="none" stroke-width="1"/>
<line x1="302.1" y1="490.9" x2="302.1" y2="490.0" stroke="#808080" stroke-width="1"/>
<line x1="300.3" y1="490.0" x2="303.9" y2="490.0" stroke="#808080" stroke-width="1"/>
<rect x="298.6" y="491.5" width="7.0" height="23.3" fill="#fff" stroke="#000" stroke-width="1.2"/>
<rect x="317.3" y="513.0" width="8.3" height="1.8" fill="#000" stroke="none" stroke-width="1"/>
<rect x="328.6" y="514.1" width="7.7" height="0.7" fill="#fff" stroke="#000" stroke-width="1.2"/>
<line x1="229.7" y1="449.0" x2="240.7" y2="449.0" stroke="#777" stroke-width="1.2"/>
<text x="235.2" y="450.8" font-size="10" font-weight="bold" text-anchor="middle" fill="#000" >*</text>
<line x1="260.3" y1="456.0" x2="271.6" y2="456.0" stroke="#777" stroke-width="1.2"/>
<text x="266.0" y="457.8" font-size="10" font-weight="bold" text-anchor="middle" fill="#000" >*</text>
<line x1="291.0" y1="485.9" x2="302.5" y2="485.9" stroke="#777" stroke-width="1.2"/>
<text x="296.8" y="487.7" font-size="10" font-weight="bold" text-anchor="middle" fill="#000" >*</text>
<line x1="321.8" y1="509.2" x2="333.1" y2="509.2" stroke="#777" stroke-width="1.2"/>
<text x="327.5" y="511.0" font-size="10" font-weight="bold" text-anchor="middle" fill="#000" >*</text>
<text x="236.4" y="525.8" font-size="8.2" font-weight="bold" text-anchor="middle" fill="#000" >CD69</text>
<line x1="236.4" y1="514.8" x2="236.4" y2="517.0" stroke="#444" stroke-width="0.9"/>
<text x="266.3" y="525.8" font-size="8.2" font-weight="bold" text-anchor="middle" fill="#000" >Th1</text>
<line x1="266.3" y1="514.8" x2="266.3" y2="517.0" stroke="#444" stroke-width="0.9"/>
<text x="297.3" y="525.8" font-size="8.2" font-weight="bold" text-anchor="middle" fill="#000" >Th2</text>
<line x1="297.3" y1="514.8" x2="297.3" y2="517.0" stroke="#444" stroke-width="0.9"/>
<text x="327.4" y="525.8" font-size="8.2" font-weight="bold" text-anchor="middle" fill="#000" >Th17</text>
<line x1="327.4" y1="514.8" x2="327.4" y2="517.0" stroke="#444" stroke-width="0.9"/>
<line x1="382.3" y1="434.0" x2="382.3" y2="514.8" stroke="#333" stroke-width="1.3"/>
<line x1="379.8" y1="434.0" x2="382.3" y2="434.0" stroke="#333" stroke-width="1"/>
<text x="378.8" y="436.1" font-size="6" font-weight="bold" text-anchor="end" fill="#000" >50</text>
<line x1="379.8" y1="450.3" x2="382.3" y2="450.3" stroke="#333" stroke-width="1"/>
<text x="378.8" y="452.4" font-size="6" font-weight="bold" text-anchor="end" fill="#000" >40</text>
<line x1="379.8" y1="466.0" x2="382.3" y2="466.0" stroke="#333" stroke-width="1"/>
<text x="378.8" y="468.1" font-size="6" font-weight="bold" text-anchor="end" fill="#000" >30</text>
<line x1="379.8" y1="482.4" x2="382.3" y2="482.4" stroke="#333" stroke-width="1"/>
<text x="378.8" y="484.5" font-size="6" font-weight="bold" text-anchor="end" fill="#000" >20</text>
<line x1="379.8" y1="498.5" x2="382.3" y2="498.5" stroke="#333" stroke-width="1"/>
<text x="378.8" y="500.6" font-size="6" font-weight="bold" text-anchor="end" fill="#000" >10</text>
<line x1="379.8" y1="514.8" x2="382.3" y2="514.8" stroke="#333" stroke-width="1"/>
<text x="378.8" y="516.9" font-size="6" font-weight="bold" text-anchor="end" fill="#000" >0</text>
<line x1="382.3" y1="514.8" x2="505.0" y2="514.8" stroke="#333" stroke-width="1.3"/>
<text x="368.0" y="474.2" font-size="7.5" font-weight="bold" text-anchor="middle" fill="#000" transform="rotate(-90 368.0 474.2)" >%</text>
<line x1="392.2" y1="447.2" x2="392.2" y2="440.7" stroke="#808080" stroke-width="1"/>
<line x1="390.4" y1="440.7" x2="394.1" y2="440.7" stroke="#808080" stroke-width="1"/>
<rect x="388.1" y="447.2" width="8.3" height="67.6" fill="#000" stroke="none" stroke-width="1"/>
<line x1="403.5" y1="476.6" x2="403.5" y2="472.1" stroke="#808080" stroke-width="1"/>
<line x1="401.7" y1="472.1" x2="405.4" y2="472.1" stroke="#808080" stroke-width="1"/>
<rect x="400.0" y="477.2" width="7.1" height="37.6" fill="#fff" stroke="#000" stroke-width="1.2"/>
<line x1="422.8" y1="445.2" x2="422.8" y2="440.7" stroke="#808080" stroke-width="1"/>
<line x1="421.1" y1="440.7" x2="424.4" y2="440.7" stroke="#808080" stroke-width="1"/>
<rect x="419.0" y="445.2" width="7.5" height="69.6" fill="#000" stroke="none" stroke-width="1"/>
<line x1="434.3" y1="460.3" x2="434.3" y2="457.8" stroke="#808080" stroke-width="1"/>
<line x1="432.5" y1="457.8" x2="436.1" y2="457.8" stroke="#808080" stroke-width="1"/>
<rect x="430.9" y="460.9" width="6.8" height="53.9" fill="#fff" stroke="#000" stroke-width="1.2"/>
<rect x="449.1" y="509.7" width="8.3" height="5.1" fill="#000" stroke="none" stroke-width="1"/>
<line x1="464.5" y1="506.7" x2="464.5" y2="505.5" stroke="#808080" stroke-width="1"/>
<line x1="462.7" y1="505.5" x2="466.4" y2="505.5" stroke="#808080" stroke-width="1"/>
<rect x="461.0" y="507.3" width="7.1" height="7.5" fill="#fff" stroke="#000" stroke-width="1.2"/>
<rect x="479.7" y="512.5" width="8.3" height="2.3" fill="#000" stroke="none" stroke-width="1"/>
<rect x="491.6" y="514.1" width="7.1" height="0.7" fill="#fff" stroke="#000" stroke-width="1.2"/>
<line x1="391.4" y1="437.0" x2="403.2" y2="437.0" stroke="#777" stroke-width="1.2"/>
<text x="397.3" y="438.8" font-size="10" font-weight="bold" text-anchor="middle" fill="#000" >**</text>
<line x1="422.8" y1="438.2" x2="433.5" y2="438.2" stroke="#777" stroke-width="1.2"/>
<text x="428.1" y="440.0" font-size="10" font-weight="bold" text-anchor="middle" fill="#000" >*</text>
<line x1="452.9" y1="502.5" x2="464.2" y2="502.5" stroke="#777" stroke-width="1.2"/>
<text x="458.5" y="504.3" font-size="10" font-weight="bold" text-anchor="middle" fill="#000" >*</text>
<line x1="483.5" y1="509.2" x2="495.5" y2="509.2" stroke="#777" stroke-width="1.2"/>
<text x="489.5" y="511.0" font-size="10" font-weight="bold" text-anchor="middle" fill="#000" >*</text>
<text x="398.5" y="525.8" font-size="8.2" font-weight="bold" text-anchor="middle" fill="#000" >CD69</text>
<line x1="398.5" y1="514.8" x2="398.5" y2="517.0" stroke="#444" stroke-width="0.9"/>
<text x="428.0" y="525.8" font-size="8.2" font-weight="bold" text-anchor="middle" fill="#000" >Th1</text>
<line x1="428.0" y1="514.8" x2="428.0" y2="517.0" stroke="#444" stroke-width="0.9"/>
<text x="458.5" y="525.8" font-size="8.2" font-weight="bold" text-anchor="middle" fill="#000" >Th2</text>
<line x1="458.5" y1="514.8" x2="458.5" y2="517.0" stroke="#444" stroke-width="0.9"/>
<text x="489.4" y="525.8" font-size="8.2" font-weight="bold" text-anchor="middle" fill="#000" >Th17</text>
<line x1="489.4" y1="514.8" x2="489.4" y2="517.0" stroke="#444" stroke-width="0.9"/>
<line x1="546.2" y1="431.9" x2="546.2" y2="469.4" stroke="#333" stroke-width="1.3"/>
<line x1="546.2" y1="475.2" x2="546.2" y2="512.4" stroke="#333" stroke-width="1.3"/>
<line x1="543.7" y1="431.9" x2="546.2" y2="431.9" stroke="#333" stroke-width="1"/>
<text x="543.0" y="434.0" font-size="5.5" font-weight="bold" text-anchor="end" fill="#000" >100</text>
<line x1="543.7" y1="439.5" x2="546.2" y2="439.5" stroke="#333" stroke-width="1"/>
<text x="543.0" y="441.6" font-size="5.5" font-weight="bold" text-anchor="end" fill="#000" >90</text>
<line x1="543.7" y1="446.9" x2="546.2" y2="446.9" stroke="#333" stroke-width="1"/>
<text x="543.0" y="449.0" font-size="5.5" font-weight="bold" text-anchor="end" fill="#000" >80</text>
<line x1="543.7" y1="454.3" x2="546.2" y2="454.3" stroke="#333" stroke-width="1"/>
<text x="543.0" y="456.4" font-size="5.5" font-weight="bold" text-anchor="end" fill="#000" >70</text>
<line x1="543.7" y1="461.8" x2="546.2" y2="461.8" stroke="#333" stroke-width="1"/>
<text x="543.0" y="463.9" font-size="5.5" font-weight="bold" text-anchor="end" fill="#000" >60</text>
<line x1="543.7" y1="469.4" x2="546.2" y2="469.4" stroke="#333" stroke-width="1"/>
<text x="543.0" y="471.5" font-size="5.5" font-weight="bold" text-anchor="end" fill="#000" >50</text>
<line x1="543.7" y1="475.2" x2="546.2" y2="475.2" stroke="#333" stroke-width="1"/>
<text x="543.0" y="477.3" font-size="5.5" font-weight="bold" text-anchor="end" fill="#000" >15</text>
<line x1="543.7" y1="487.6" x2="546.2" y2="487.6" stroke="#333" stroke-width="1"/>
<text x="543.0" y="489.7" font-size="5.5" font-weight="bold" text-anchor="end" fill="#000" >10</text>
<line x1="543.7" y1="500.0" x2="546.2" y2="500.0" stroke="#333" stroke-width="1"/>
<text x="543.0" y="502.1" font-size="5.5" font-weight="bold" text-anchor="end" fill="#000" >5</text>
<line x1="543.7" y1="512.4" x2="546.2" y2="512.4" stroke="#333" stroke-width="1"/>
<text x="543.0" y="514.5" font-size="5.5" font-weight="bold" text-anchor="end" fill="#000" >0</text>
<line x1="546.2" y1="512.4" x2="667.4" y2="512.4" stroke="#333" stroke-width="1.3"/>
<text x="529.0" y="472.4" font-size="7.5" font-weight="bold" text-anchor="middle" fill="#000" transform="rotate(-90 529.0 472.4)" >%</text>
<line x1="556.3" y1="434.5" x2="556.3" y2="433.2" stroke="#808080" stroke-width="1"/>
<line x1="554.5" y1="433.2" x2="558.1" y2="433.2" stroke="#808080" stroke-width="1"/>
<rect x="552.4" y="434.5" width="7.8" height="34.9" fill="#000" stroke="none" stroke-width="1"/>
<rect x="552.4" y="475.2" width="7.8" height="37.2" fill="#000" stroke="none" stroke-width="1"/>
<path d="M563.9,469.4 L563.9,442.5 L571.0,442.5 L571.0,469.4" fill="#fff" stroke="#000" stroke-width="1.2"/>
<path d="M563.9,475.2 L563.9,512.4 M571.0,512.4 L571.0,475.2" fill="none" stroke="#000" stroke-width="1.2"/>
<line x1="586.7" y1="491.8" x2="586.7" y2="485.3" stroke="#808080" stroke-width="1"/>
<line x1="584.6" y1="485.3" x2="588.7" y2="485.3" stroke="#808080" stroke-width="1"/>
<rect x="582.2" y="491.8" width="8.9" height="20.6" fill="#000" stroke="none" stroke-width="1"/>
<line x1="598.1" y1="500.4" x2="598.1" y2="494.4" stroke="#808080" stroke-width="1"/>
<line x1="596.3" y1="494.4" x2="600.0" y2="494.4" stroke="#808080" stroke-width="1"/>
<rect x="594.6" y="501.0" width="7.1" height="11.4" fill="#fff" stroke="#000" stroke-width="1.2"/>
<line x1="617.5" y1="505.6" x2="617.5" y2="504.5" stroke="#808080" stroke-width="1"/>
<line x1="615.6" y1="504.5" x2="619.4" y2="504.5" stroke="#808080" stroke-width="1"/>
<rect x="613.2" y="505.6" width="8.6" height="6.8" fill="#000" stroke="none" stroke-width="1"/>
<line x1="628.3" y1="497.0" x2="628.3" y2="496.0" stroke="#808080" stroke-width="1"/>
<line x1="626.6" y1="496.0" x2="630.1" y2="496.0" stroke="#808080" stroke-width="1"/>
<rect x="625.0" y="497.6" width="6.7" height="14.8" fill="#fff" stroke="#000" stroke-width="1.2"/>
<line x1="647.6" y1="506.9" x2="647.6" y2="506.0" stroke="#808080" stroke-width="1"/>
<line x1="645.8" y1="506.0" x2="649.5" y2="506.0" stroke="#808080" stroke-width="1"/>
<rect x="643.5" y="506.9" width="8.3" height="5.5" fill="#000" stroke="none" stroke-width="1"/>
<rect x="655.0" y="510.1" width="7.9" height="2.3" fill="#fff" stroke="#000" stroke-width="1.2"/>
<line x1="556.7" y1="429.0" x2="569.0" y2="429.0" stroke="#777" stroke-width="1.2"/>
<text x="562.9" y="430.8" font-size="10" font-weight="bold" text-anchor="middle" fill="#000" >*</text>
<line x1="616.6" y1="491.8" x2="628.4" y2="491.8" stroke="#777" stroke-width="1.2"/>
<text x="622.5" y="493.6" font-size="10" font-weight="bold" text-anchor="middle" fill="#000" >*</text>
<text x="562.6" y="523.4" font-size="8.2" font-weight="bold" text-anchor="middle" fill="#000" >CD69</text>
<line x1="562.6" y1="512.4" x2="562.6" y2="514.6" stroke="#444" stroke-width="0.9"/>
<text x="592.8" y="523.4" font-size="8.2" font-weight="bold" text-anchor="middle" fill="#000" >Th1</text>
<line x1="592.8" y1="512.4" x2="592.8" y2="514.6" stroke="#444" stroke-width="0.9"/>
<text x="623.2" y="523.4" font-size="8.2" font-weight="bold" text-anchor="middle" fill="#000" >Th2</text>
<line x1="623.2" y1="512.4" x2="623.2" y2="514.6" stroke="#444" stroke-width="0.9"/>
<text x="653.8" y="523.4" font-size="8.2" font-weight="bold" text-anchor="middle" fill="#000" >Th17</text>
<line x1="653.8" y1="512.4" x2="653.8" y2="514.6" stroke="#444" stroke-width="0.9"/>
<rect x="653.5" y="412.5" width="14.0" height="10.0" fill="#000" stroke="none" stroke-width="1"/>
<rect x="654.1" y="426.8" width="12.8" height="9.2" fill="#fff" stroke="#000" stroke-width="1.2"/>
<text x="674" y="422.5" font-size="9.8" font-weight="normal" textLength="46.5" lengthAdjust="spacingAndGlyphs">WT CD4<tspan dy="-4.2" font-size="7">+</tspan><tspan dy="4.2">T</tspan></text>
<text x="674" y="436" font-size="9.8" font-weight="normal" textLength="59.6" lengthAdjust="spacingAndGlyphs">IL-17<tspan dy="-4.2" font-size="6.5">-/-</tspan><tspan dy="4.2">CD4</tspan><tspan dy="-4.2" font-size="7">+</tspan><tspan dy="4.2">T</tspan></text>
<text x="0.6" y="556.1" font-size="16.5" font-weight="bold" text-anchor="start" fill="#000" >c</text>
<line x1="38.9" y1="553.8" x2="38.9" y2="644.2" stroke="#333" stroke-width="1.3"/>
<line x1="36.4" y1="553.8" x2="38.9" y2="553.8" stroke="#333" stroke-width="1"/>
<line x1="36.4" y1="572.1" x2="38.9" y2="572.1" stroke="#333" stroke-width="1"/>
<line x1="36.4" y1="590.2" x2="38.9" y2="590.2" stroke="#333" stroke-width="1"/>
<line x1="36.4" y1="608.3" x2="38.9" y2="608.3" stroke="#333" stroke-width="1"/>
<line x1="36.4" y1="626.1" x2="38.9" y2="626.1" stroke="#333" stroke-width="1"/>
<line x1="36.4" y1="644.2" x2="38.9" y2="644.2" stroke="#333" stroke-width="1"/>
<text x="34.5" y="646.3" font-size="6" font-weight="bold" text-anchor="end" fill="#000" >0</text>
<text x="15.7" y="556.0" font-size="6.2" font-weight="bold" textLength="17.8" lengthAdjust="spacingAndGlyphs">2.5.0<tspan dy="-2.4" font-size="3.7">8</tspan></text>
<text x="15.7" y="574.3" font-size="6.2" font-weight="bold" textLength="17.8" lengthAdjust="spacingAndGlyphs">2.0.0<tspan dy="-2.4" font-size="3.7">8</tspan></text>
<text x="15.7" y="592.4" font-size="6.2" font-weight="bold" textLength="17.8" lengthAdjust="spacingAndGlyphs">1.5.0<tspan dy="-2.4" font-size="3.7">8</tspan></text>
<text x="15.7" y="610.5" font-size="6.2" font-weight="bold" textLength="17.8" lengthAdjust="spacingAndGlyphs">1.0.0<tspan dy="-2.4" font-size="3.7">8</tspan></text>
<text x="15.7" y="628.3" font-size="6.2" font-weight="bold" textLength="17.8" lengthAdjust="spacingAndGlyphs">5.0.0<tspan dy="-2.4" font-size="3.7">7</tspan></text>
<line x1="38.9" y1="644.2" x2="174.0" y2="644.2" stroke="#333" stroke-width="1.3"/>
<text x="7.0" y="600.0" font-size="7.3" font-weight="bold" text-anchor="middle" fill="#000" textLength="54.5" lengthAdjust="spacingAndGlyphs" transform="rotate(-90 7.0 600.0)" >Number of cells</text>
<line x1="49.1" y1="619.6" x2="49.1" y2="612.8" stroke="#808080" stroke-width="1"/>
<line x1="47.1" y1="612.8" x2="51.1" y2="612.8" stroke="#808080" stroke-width="1"/>
<rect x="44.7" y="619.6" width="8.8" height="24.6" fill="#000" stroke="none" stroke-width="1"/>
<line x1="61.1" y1="612.3" x2="61.1" y2="600.7" stroke="#808080" stroke-width="1"/>
<line x1="59.1" y1="600.7" x2="63.2" y2="600.7" stroke="#808080" stroke-width="1"/>
<rect x="57.1" y="612.9" width="8.1" height="31.3" fill="#fff" stroke="#000" stroke-width="1.2"/>
<line x1="82.9" y1="587.7" x2="82.9" y2="573.1" stroke="#808080" stroke-width="1"/>
<line x1="81.0" y1="573.1" x2="84.9" y2="573.1" stroke="#808080" stroke-width="1"/>
<rect x="78.6" y="587.7" width="8.7" height="56.5" fill="#000" stroke="none" stroke-width="1"/>
<line x1="95.2" y1="613.5" x2="95.2" y2="607.8" stroke="#808080" stroke-width="1"/>
<line x1="93.3" y1="607.8" x2="97.2" y2="607.8" stroke="#808080" stroke-width="1"/>
<rect x="91.5" y="614.1" width="7.5" height="30.1" fill="#fff" stroke="#000" stroke-width="1.2"/>
<rect x="112.4" y="642.4" width="8.8" height="1.8" fill="#000" stroke="none" stroke-width="1"/>
<line x1="128.8" y1="637.9" x2="128.8" y2="635.5" stroke="#808080" stroke-width="1"/>
<line x1="127.0" y1="635.5" x2="130.7" y2="635.5" stroke="#808080" stroke-width="1"/>
<rect x="125.3" y="638.5" width="7.1" height="5.7" fill="#fff" stroke="#000" stroke-width="1.2"/>
<line x1="150.2" y1="640.9" x2="150.2" y2="640.0" stroke="#808080" stroke-width="1"/>
<line x1="148.3" y1="640.0" x2="152.1" y2="640.0" stroke="#808080" stroke-width="1"/>
<rect x="146.0" y="640.9" width="8.4" height="3.3" fill="#000" stroke="none" stroke-width="1"/>
<rect x="158.7" y="641.8" width="7.6" height="2.4" fill="#fff" stroke="#000" stroke-width="1.2"/>
<line x1="82.8" y1="570.1" x2="95.9" y2="570.1" stroke="#777" stroke-width="1.2"/>
<text x="89.3" y="571.9" font-size="10" font-weight="bold" text-anchor="middle" fill="#000" >*</text>
<line x1="115.5" y1="632.4" x2="128.0" y2="632.4" stroke="#777" stroke-width="1.2"/>
<text x="121.8" y="634.2" font-size="10" font-weight="bold" text-anchor="middle" fill="#000" >*</text>
<text x="56.1" y="658.0" font-size="8.6" font-weight="bold" text-anchor="middle" fill="#000" >CD69</text>
<line x1="56.1" y1="644.2" x2="56.1" y2="646.4" stroke="#444" stroke-width="0.9"/>
<text x="88.9" y="658.0" font-size="8.6" font-weight="bold" text-anchor="middle" fill="#000" >Th1</text>
<line x1="88.9" y1="644.2" x2="88.9" y2="646.4" stroke="#444" stroke-width="0.9"/>
<text x="123.2" y="658.0" font-size="8.6" font-weight="bold" text-anchor="middle" fill="#000" >Th2</text>
<line x1="123.2" y1="644.2" x2="123.2" y2="646.4" stroke="#444" stroke-width="0.9"/>
<text x="156.8" y="658.0" font-size="8.6" font-weight="bold" text-anchor="middle" fill="#000" >Th17</text>
<line x1="156.8" y1="644.2" x2="156.8" y2="646.4" stroke="#444" stroke-width="0.9"/>
<line x1="224.5" y1="555.0" x2="224.5" y2="645.4" stroke="#333" stroke-width="1.3"/>
<line x1="222.0" y1="555.0" x2="224.5" y2="555.0" stroke="#333" stroke-width="1"/>
<line x1="222.0" y1="585.2" x2="224.5" y2="585.2" stroke="#333" stroke-width="1"/>
<line x1="222.0" y1="615.3" x2="224.5" y2="615.3" stroke="#333" stroke-width="1"/>
<line x1="222.0" y1="645.4" x2="224.5" y2="645.4" stroke="#333" stroke-width="1"/>
<text x="220.1" y="647.5" font-size="6" font-weight="bold" text-anchor="end" fill="#000" >0</text>
<text x="202.3" y="557.2" font-size="6.2" font-weight="bold" textLength="17.8" lengthAdjust="spacingAndGlyphs">1.5.0<tspan dy="-2.4" font-size="3.7">8</tspan></text>
<text x="202.3" y="587.4" font-size="6.2" font-weight="bold" textLength="17.8" lengthAdjust="spacingAndGlyphs">1.0.0<tspan dy="-2.4" font-size="3.7">8</tspan></text>
<text x="202.3" y="617.5" font-size="6.2" font-weight="bold" textLength="17.8" lengthAdjust="spacingAndGlyphs">5.0.0<tspan dy="-2.4" font-size="3.7">7</tspan></text>
<line x1="224.5" y1="645.4" x2="357.0" y2="645.4" stroke="#333" stroke-width="1.3"/>
<text x="192.5" y="601.4" font-size="7.3" font-weight="bold" text-anchor="middle" fill="#000" textLength="54.5" lengthAdjust="spacingAndGlyphs" transform="rotate(-90 192.5 601.4)" >Number of cells</text>
<line x1="235.2" y1="600.7" x2="235.2" y2="594.0" stroke="#808080" stroke-width="1"/>
<line x1="233.2" y1="594.0" x2="237.2" y2="594.0" stroke="#808080" stroke-width="1"/>
<rect x="230.7" y="600.7" width="9.0" height="44.7" fill="#000" stroke="none" stroke-width="1"/>
<line x1="247.8" y1="611.5" x2="247.8" y2="598.2" stroke="#808080" stroke-width="1"/>
<line x1="245.7" y1="598.2" x2="249.8" y2="598.2" stroke="#808080" stroke-width="1"/>
<rect x="243.8" y="612.1" width="7.9" height="33.3" fill="#fff" stroke="#000" stroke-width="1.2"/>
<line x1="269.9" y1="595.2" x2="269.9" y2="585.2" stroke="#808080" stroke-width="1"/>
<line x1="267.8" y1="585.2" x2="271.9" y2="585.2" stroke="#808080" stroke-width="1"/>
<rect x="265.3" y="595.2" width="9.1" height="50.2" fill="#000" stroke="none" stroke-width="1"/>
<line x1="282.4" y1="607.3" x2="282.4" y2="597.2" stroke="#808080" stroke-width="1"/>
<line x1="280.4" y1="597.2" x2="284.4" y2="597.2" stroke="#808080" stroke-width="1"/>
<rect x="278.5" y="607.9" width="7.8" height="37.5" fill="#fff" stroke="#000" stroke-width="1.2"/>
<line x1="304.2" y1="636.1" x2="304.2" y2="635.0" stroke="#808080" stroke-width="1"/>
<line x1="302.3" y1="635.0" x2="306.2" y2="635.0" stroke="#808080" stroke-width="1"/>
<rect x="300.0" y="636.1" width="8.5" height="9.3" fill="#000" stroke="none" stroke-width="1"/>
<line x1="316.9" y1="639.1" x2="316.9" y2="638.5" stroke="#808080" stroke-width="1"/>
<line x1="314.9" y1="638.5" x2="318.9" y2="638.5" stroke="#808080" stroke-width="1"/>
<rect x="313.1" y="639.7" width="7.6" height="5.7" fill="#fff" stroke="#000" stroke-width="1.2"/>
<rect x="334.3" y="644.2" width="9.3" height="1.2" fill="#000" stroke="none" stroke-width="1"/>
<text x="242.4" y="659.0" font-size="8.6" font-weight="bold" text-anchor="middle" fill="#000" >CD69</text>
<line x1="242.4" y1="645.4" x2="242.4" y2="647.6" stroke="#444" stroke-width="0.9"/>
<text x="276.2" y="659.0" font-size="8.6" font-weight="bold" text-anchor="middle" fill="#000" >Th1</text>
<line x1="276.2" y1="645.4" x2="276.2" y2="647.6" stroke="#444" stroke-width="0.9"/>
<text x="310.8" y="659.0" font-size="8.6" font-weight="bold" text-anchor="middle" fill="#000" >Th2</text>
<line x1="310.8" y1="645.4" x2="310.8" y2="647.6" stroke="#444" stroke-width="0.9"/>
<text x="345.9" y="659.0" font-size="8.6" font-weight="bold" text-anchor="middle" fill="#000" >Th17</text>
<line x1="345.9" y1="645.4" x2="345.9" y2="647.6" stroke="#444" stroke-width="0.9"/>
<line x1="402.4" y1="552.6" x2="402.4" y2="642.9" stroke="#333" stroke-width="1.3"/>
<line x1="399.9" y1="552.6" x2="402.4" y2="552.6" stroke="#333" stroke-width="1"/>
<line x1="399.9" y1="575.1" x2="402.4" y2="575.1" stroke="#333" stroke-width="1"/>
<line x1="399.9" y1="597.7" x2="402.4" y2="597.7" stroke="#333" stroke-width="1"/>
<line x1="399.9" y1="620.3" x2="402.4" y2="620.3" stroke="#333" stroke-width="1"/>
<line x1="399.9" y1="642.9" x2="402.4" y2="642.9" stroke="#333" stroke-width="1"/>
<text x="397.6" y="645.0" font-size="6" font-weight="bold" text-anchor="end" fill="#000" >0</text>
<text x="379.7" y="554.8" font-size="6.2" font-weight="bold" textLength="17.8" lengthAdjust="spacingAndGlyphs">2.0.0<tspan dy="-2.4" font-size="3.7">6</tspan></text>
<text x="379.7" y="577.3" font-size="6.2" font-weight="bold" textLength="17.8" lengthAdjust="spacingAndGlyphs">1.5.0<tspan dy="-2.4" font-size="3.7">6</tspan></text>
<text x="379.7" y="599.9" font-size="6.2" font-weight="bold" textLength="17.8" lengthAdjust="spacingAndGlyphs">1.0.0<tspan dy="-2.4" font-size="3.7">6</tspan></text>
<text x="379.7" y="622.5" font-size="6.2" font-weight="bold" textLength="17.8" lengthAdjust="spacingAndGlyphs">5.0.0<tspan dy="-2.4" font-size="3.7">5</tspan></text>
<line x1="402.4" y1="642.9" x2="538.2" y2="642.9" stroke="#333" stroke-width="1.3"/>
<text x="371.5" y="599.0" font-size="7.3" font-weight="bold" text-anchor="middle" fill="#000" textLength="54.5" lengthAdjust="spacingAndGlyphs" transform="rotate(-90 371.5 599.0)" >Number of cells</text>
<line x1="413.6" y1="578.9" x2="413.6" y2="558.0" stroke="#808080" stroke-width="1"/>
<line x1="411.5" y1="558.0" x2="415.7" y2="558.0" stroke="#808080" stroke-width="1"/>
<rect x="409.0" y="578.9" width="9.2" height="64.0" fill="#000" stroke="none" stroke-width="1"/>
<line x1="425.9" y1="615.3" x2="425.9" y2="606.5" stroke="#808080" stroke-width="1"/>
<line x1="423.9" y1="606.5" x2="427.9" y2="606.5" stroke="#808080" stroke-width="1"/>
<rect x="422.1" y="615.9" width="7.6" height="27.0" fill="#fff" stroke="#000" stroke-width="1.2"/>
<line x1="447.4" y1="582.7" x2="447.4" y2="561.3" stroke="#808080" stroke-width="1"/>
<line x1="445.3" y1="561.3" x2="449.4" y2="561.3" stroke="#808080" stroke-width="1"/>
<rect x="442.8" y="582.7" width="9.1" height="60.2" fill="#000" stroke="none" stroke-width="1"/>
<line x1="459.8" y1="594.5" x2="459.8" y2="578.9" stroke="#808080" stroke-width="1"/>
<line x1="457.8" y1="578.9" x2="461.8" y2="578.9" stroke="#808080" stroke-width="1"/>
<rect x="456.0" y="595.1" width="7.6" height="47.8" fill="#fff" stroke="#000" stroke-width="1.2"/>
<line x1="481.1" y1="638.6" x2="481.1" y2="636.0" stroke="#808080" stroke-width="1"/>
<line x1="479.1" y1="636.0" x2="483.1" y2="636.0" stroke="#808080" stroke-width="1"/>
<rect x="476.7" y="638.6" width="8.8" height="4.3" fill="#000" stroke="none" stroke-width="1"/>
<line x1="493.6" y1="634.9" x2="493.6" y2="629.9" stroke="#808080" stroke-width="1"/>
<line x1="491.7" y1="629.9" x2="495.6" y2="629.9" stroke="#808080" stroke-width="1"/>
<rect x="489.9" y="635.5" width="7.5" height="7.4" fill="#fff" stroke="#000" stroke-width="1.2"/>
<rect x="510.6" y="642.0" width="8.8" height="0.9" fill="#000" stroke="none" stroke-width="1"/>
<rect x="523.8" y="642.8" width="7.6" height="0.1" fill="#fff" stroke="#000" stroke-width="1.2"/>
<line x1="413.2" y1="553.8" x2="425.3" y2="553.8" stroke="#777" stroke-width="1.2"/>
<text x="419.2" y="555.6" font-size="10" font-weight="bold" text-anchor="middle" fill="#000" >*</text>
<text x="420.0" y="656.7" font-size="8.6" font-weight="bold" text-anchor="middle" fill="#000" >CD69</text>
<line x1="420.0" y1="642.9" x2="420.0" y2="645.1" stroke="#444" stroke-width="0.9"/>
<text x="453.5" y="656.7" font-size="8.6" font-weight="bold" text-anchor="middle" fill="#000" >Th1</text>
<line x1="453.5" y1="642.9" x2="453.5" y2="645.1" stroke="#444" stroke-width="0.9"/>
<text x="487.5" y="656.7" font-size="8.6" font-weight="bold" text-anchor="middle" fill="#000" >Th2</text>
<line x1="487.5" y1="642.9" x2="487.5" y2="645.1" stroke="#444" stroke-width="0.9"/>
<text x="522.3" y="656.7" font-size="8.6" font-weight="bold" text-anchor="middle" fill="#000" >Th17</text>
<line x1="522.3" y1="642.9" x2="522.3" y2="645.1" stroke="#444" stroke-width="0.9"/>
<line x1="585.0" y1="552.5" x2="585.0" y2="642.9" stroke="#333" stroke-width="1.3"/>
<line x1="582.5" y1="552.5" x2="585.0" y2="552.5" stroke="#333" stroke-width="1"/>
<line x1="582.5" y1="575.2" x2="585.0" y2="575.2" stroke="#333" stroke-width="1"/>
<line x1="582.5" y1="597.8" x2="585.0" y2="597.8" stroke="#333" stroke-width="1"/>
<line x1="582.5" y1="620.2" x2="585.0" y2="620.2" stroke="#333" stroke-width="1"/>
<line x1="582.5" y1="642.9" x2="585.0" y2="642.9" stroke="#333" stroke-width="1"/>
<text x="580.2" y="645.0" font-size="6" font-weight="bold" text-anchor="end" fill="#000" >0</text>
<text x="561.8" y="554.7" font-size="6.2" font-weight="bold" textLength="17.8" lengthAdjust="spacingAndGlyphs">8.0.0<tspan dy="-2.4" font-size="3.7">6</tspan></text>
<text x="561.8" y="577.4" font-size="6.2" font-weight="bold" textLength="17.8" lengthAdjust="spacingAndGlyphs">6.0.0<tspan dy="-2.4" font-size="3.7">6</tspan></text>
<text x="561.8" y="600.0" font-size="6.2" font-weight="bold" textLength="17.8" lengthAdjust="spacingAndGlyphs">4.0.0<tspan dy="-2.4" font-size="3.7">6</tspan></text>
<text x="561.8" y="622.4" font-size="6.2" font-weight="bold" textLength="17.8" lengthAdjust="spacingAndGlyphs">2.0.0<tspan dy="-2.4" font-size="3.7">6</tspan></text>
<line x1="585.0" y1="642.9" x2="719.0" y2="642.9" stroke="#333" stroke-width="1.3"/>
<text x="553.3" y="598.6" font-size="7.3" font-weight="bold" text-anchor="middle" fill="#000" textLength="54.5" lengthAdjust="spacingAndGlyphs" transform="rotate(-90 553.3 598.6)" >Number of cells</text>
<line x1="595.2" y1="603.8" x2="595.2" y2="568.7" stroke="#808080" stroke-width="1"/>
<line x1="593.1" y1="568.7" x2="597.2" y2="568.7" stroke="#808080" stroke-width="1"/>
<rect x="590.6" y="603.8" width="9.1" height="39.1" fill="#000" stroke="none" stroke-width="1"/>
<line x1="607.5" y1="621.5" x2="607.5" y2="603.8" stroke="#808080" stroke-width="1"/>
<line x1="605.4" y1="603.8" x2="609.6" y2="603.8" stroke="#808080" stroke-width="1"/>
<rect x="603.4" y="622.1" width="8.2" height="20.8" fill="#fff" stroke="#000" stroke-width="1.2"/>
<line x1="629.0" y1="640.3" x2="629.0" y2="639.5" stroke="#808080" stroke-width="1"/>
<line x1="626.9" y1="639.5" x2="631.1" y2="639.5" stroke="#808080" stroke-width="1"/>
<rect x="624.4" y="640.3" width="9.2" height="2.6" fill="#000" stroke="none" stroke-width="1"/>
<rect x="636.8" y="642.4" width="7.9" height="0.5" fill="#fff" stroke="#000" stroke-width="1.2"/>
<rect x="658.3" y="641.3" width="9.1" height="1.6" fill="#000" stroke="none" stroke-width="1"/>
<rect x="671.2" y="641.6" width="7.3" height="1.3" fill="#fff" stroke="#000" stroke-width="1.2"/>
<rect x="692.2" y="641.5" width="9.1" height="1.4" fill="#000" stroke="none" stroke-width="1"/>
<text x="603.0" y="656.7" font-size="8.6" font-weight="bold" text-anchor="middle" fill="#000" >CD69</text>
<line x1="603.0" y1="642.9" x2="603.0" y2="645.1" stroke="#444" stroke-width="0.9"/>
<text x="632.2" y="656.7" font-size="8.6" font-weight="bold" text-anchor="middle" fill="#000" >Th1</text>
<line x1="632.2" y1="642.9" x2="632.2" y2="645.1" stroke="#444" stroke-width="0.9"/>
<text x="667.0" y="656.7" font-size="8.6" font-weight="bold" text-anchor="middle" fill="#000" >Th2</text>
<line x1="667.0" y1="642.9" x2="667.0" y2="645.1" stroke="#444" stroke-width="0.9"/>
<text x="703.6" y="656.7" font-size="8.6" font-weight="bold" text-anchor="middle" fill="#000" >Th17</text>
<line x1="703.6" y1="642.9" x2="703.6" y2="645.1" stroke="#444" stroke-width="0.9"/>
<text x="0.3" y="691.3" font-size="18.5" font-weight="bold" text-anchor="start" fill="#000" >d</text>
<line x1="27.0" y1="691.3" x2="27.0" y2="791.7" stroke="#333" stroke-width="1.3"/>
<line x1="23.7" y1="691.3" x2="27.0" y2="691.3" stroke="#333" stroke-width="1"/>
<text x="21.2" y="693.3" font-size="7.6" font-weight="bold" text-anchor="end" fill="#000" >40</text>
<line x1="23.7" y1="716.4" x2="27.0" y2="716.4" stroke="#333" stroke-width="1"/>
<text x="21.2" y="718.4" font-size="7.6" font-weight="bold" text-anchor="end" fill="#000" >30</text>
<line x1="23.7" y1="741.5" x2="27.0" y2="741.5" stroke="#333" stroke-width="1"/>
<text x="21.2" y="743.5" font-size="7.6" font-weight="bold" text-anchor="end" fill="#000" >20</text>
<line x1="23.7" y1="766.6" x2="27.0" y2="766.6" stroke="#333" stroke-width="1"/>
<text x="21.2" y="768.6" font-size="7.6" font-weight="bold" text-anchor="end" fill="#000" >10</text>
<line x1="23.7" y1="791.7" x2="27.0" y2="791.7" stroke="#333" stroke-width="1"/>
<text x="21.2" y="793.7" font-size="7.6" font-weight="bold" text-anchor="end" fill="#000" >0</text>
<line x1="27.0" y1="791.7" x2="171.9" y2="791.7" stroke="#333" stroke-width="1.3"/>
<text x="9.7" y="741.3" font-size="8.5" font-weight="bold" text-anchor="middle" fill="#000" transform="rotate(-90 9.7 741.3)" >%</text>
<line x1="42.6" y1="745.3" x2="42.6" y2="731.5" stroke="#808080" stroke-width="1"/>
<line x1="39.8" y1="731.5" x2="45.5" y2="731.5" stroke="#808080" stroke-width="1"/>
<rect x="36.4" y="745.3" width="12.5" height="46.4" fill="#000" stroke="none" stroke-width="1"/>
<line x1="61.0" y1="772.4" x2="61.0" y2="769.5" stroke="#808080" stroke-width="1"/>
<line x1="58.2" y1="769.5" x2="63.8" y2="769.5" stroke="#808080" stroke-width="1"/>
<rect x="55.3" y="773.0" width="11.4" height="18.7" fill="#fff" stroke="#000" stroke-width="1.2"/>
<line x1="91.6" y1="747.8" x2="91.6" y2="740.3" stroke="#808080" stroke-width="1"/>
<line x1="88.8" y1="740.3" x2="94.4" y2="740.3" stroke="#808080" stroke-width="1"/>
<rect x="85.3" y="747.8" width="12.6" height="43.9" fill="#000" stroke="none" stroke-width="1"/>
<line x1="110.0" y1="769.1" x2="110.0" y2="768.5" stroke="#808080" stroke-width="1"/>
<line x1="107.1" y1="768.5" x2="112.8" y2="768.5" stroke="#808080" stroke-width="1"/>
<rect x="104.3" y="769.7" width="11.3" height="22.0" fill="#fff" stroke="#000" stroke-width="1.2"/>
<line x1="141.1" y1="781.7" x2="141.1" y2="780.3" stroke="#808080" stroke-width="1"/>
<line x1="138.2" y1="780.3" x2="143.9" y2="780.3" stroke="#808080" stroke-width="1"/>
<rect x="134.8" y="781.7" width="12.5" height="10.0" fill="#000" stroke="none" stroke-width="1"/>
<line x1="159.4" y1="784.2" x2="159.4" y2="782.8" stroke="#808080" stroke-width="1"/>
<line x1="156.6" y1="782.8" x2="162.2" y2="782.8" stroke="#808080" stroke-width="1"/>
<rect x="153.7" y="784.8" width="11.4" height="6.9" fill="#fff" stroke="#000" stroke-width="1.2"/>
<line x1="45.2" y1="727.2" x2="58.2" y2="727.2" stroke="#777" stroke-width="1.2"/>
<text x="51.7" y="729.0" font-size="10" font-weight="bold" text-anchor="middle" fill="#000" >*</text>
<text x="35.1" y="803.0" font-size="7.2" font-weight="bold" textLength="37.5" lengthAdjust="spacingAndGlyphs">CD4<tspan dy="-2.8" font-size="5.8">+</tspan><tspan dy="2.8">Tbet</tspan><tspan dy="-2.8" font-size="5.8"> +</tspan></text>
<text x="85.3" y="803.0" font-size="7.2" font-weight="bold" textLength="42.5" lengthAdjust="spacingAndGlyphs">CD4<tspan dy="-2.8" font-size="5.8">+</tspan><tspan dy="2.8">GATA3</tspan><tspan dy="-2.8" font-size="5.8">+</tspan></text>
<text x="135.5" y="803.0" font-size="7.2" font-weight="bold" textLength="42.8" lengthAdjust="spacingAndGlyphs">CD4<tspan dy="-2.8" font-size="5.8">+</tspan><tspan dy="2.8">RORγt</tspan><tspan dy="-2.8" font-size="5.8">+</tspan></text>
<line x1="208.3" y1="690.1" x2="208.3" y2="793.0" stroke="#333" stroke-width="1.3"/>
<line x1="205.0" y1="690.1" x2="208.3" y2="690.1" stroke="#333" stroke-width="1"/>
<text x="202.2" y="692.1" font-size="7.6" font-weight="bold" text-anchor="end" fill="#000" >5</text>
<line x1="205.0" y1="710.7" x2="208.3" y2="710.7" stroke="#333" stroke-width="1"/>
<text x="202.2" y="712.7" font-size="7.6" font-weight="bold" text-anchor="end" fill="#000" >4</text>
<line x1="205.0" y1="731.5" x2="208.3" y2="731.5" stroke="#333" stroke-width="1"/>
<text x="202.2" y="733.5" font-size="7.6" font-weight="bold" text-anchor="end" fill="#000" >3</text>
<line x1="205.0" y1="752.1" x2="208.3" y2="752.1" stroke="#333" stroke-width="1"/>
<text x="202.2" y="754.1" font-size="7.6" font-weight="bold" text-anchor="end" fill="#000" >2</text>
<line x1="205.0" y1="772.4" x2="208.3" y2="772.4" stroke="#333" stroke-width="1"/>
<text x="202.2" y="774.4" font-size="7.6" font-weight="bold" text-anchor="end" fill="#000" >1</text>
<line x1="205.0" y1="793.0" x2="208.3" y2="793.0" stroke="#333" stroke-width="1"/>
<text x="202.2" y="795.0" font-size="7.6" font-weight="bold" text-anchor="end" fill="#000" >0</text>
<line x1="208.3" y1="793.0" x2="351.9" y2="793.0" stroke="#333" stroke-width="1.3"/>
<text x="193.5" y="741.6" font-size="8.5" font-weight="bold" text-anchor="middle" fill="#000" transform="rotate(-90 193.5 741.6)" >%</text>
<line x1="223.9" y1="712.2" x2="223.9" y2="708.9" stroke="#808080" stroke-width="1"/>
<line x1="221.1" y1="708.9" x2="226.7" y2="708.9" stroke="#808080" stroke-width="1"/>
<rect x="217.6" y="712.2" width="12.6" height="80.8" fill="#000" stroke="none" stroke-width="1"/>
<line x1="242.8" y1="749.0" x2="242.8" y2="746.5" stroke="#808080" stroke-width="1"/>
<line x1="239.9" y1="746.5" x2="245.6" y2="746.5" stroke="#808080" stroke-width="1"/>
<rect x="237.1" y="749.6" width="11.3" height="43.4" fill="#fff" stroke="#000" stroke-width="1.2"/>
<line x1="274.1" y1="730.7" x2="274.1" y2="720.2" stroke="#808080" stroke-width="1"/>
<line x1="271.3" y1="720.2" x2="276.9" y2="720.2" stroke="#808080" stroke-width="1"/>
<rect x="267.8" y="730.7" width="12.6" height="62.3" fill="#000" stroke="none" stroke-width="1"/>
<line x1="292.9" y1="717.2" x2="292.9" y2="702.1" stroke="#808080" stroke-width="1"/>
<line x1="290.1" y1="702.1" x2="295.8" y2="702.1" stroke="#808080" stroke-width="1"/>
<rect x="287.3" y="717.8" width="11.3" height="75.2" fill="#fff" stroke="#000" stroke-width="1.2"/>
<line x1="324.8" y1="772.2" x2="324.8" y2="762.9" stroke="#808080" stroke-width="1"/>
<line x1="321.9" y1="762.9" x2="327.6" y2="762.9" stroke="#808080" stroke-width="1"/>
<rect x="318.5" y="772.2" width="12.5" height="20.8" fill="#000" stroke="none" stroke-width="1"/>
<line x1="343.9" y1="773.4" x2="343.9" y2="769.6" stroke="#808080" stroke-width="1"/>
<line x1="341.1" y1="769.6" x2="346.7" y2="769.6" stroke="#808080" stroke-width="1"/>
<rect x="338.2" y="774.0" width="11.4" height="19.0" fill="#fff" stroke="#000" stroke-width="1.2"/>
<line x1="224.7" y1="705.6" x2="238.5" y2="705.6" stroke="#777" stroke-width="1.2"/>
<text x="231.6" y="707.4" font-size="10" font-weight="bold" text-anchor="middle" fill="#000" >*</text>
<text x="217.6" y="804.5" font-size="7.2" font-weight="bold" textLength="37.5" lengthAdjust="spacingAndGlyphs">CD4<tspan dy="-2.8" font-size="5.8">+</tspan><tspan dy="2.8">Tbet</tspan><tspan dy="-2.8" font-size="5.8"> +</tspan></text>
<text x="267.8" y="804.5" font-size="7.2" font-weight="bold" textLength="42.5" lengthAdjust="spacingAndGlyphs">CD4<tspan dy="-2.8" font-size="5.8">+</tspan><tspan dy="2.8">GATA3</tspan><tspan dy="-2.8" font-size="5.8">+</tspan></text>
<text x="318.0" y="804.5" font-size="7.2" font-weight="bold" textLength="42.8" lengthAdjust="spacingAndGlyphs">CD4<tspan dy="-2.8" font-size="5.8">+</tspan><tspan dy="2.8">RORγt</tspan><tspan dy="-2.8" font-size="5.8">+</tspan></text>
<line x1="396.2" y1="693.1" x2="396.2" y2="793.0" stroke="#333" stroke-width="1.3"/>
<line x1="392.9" y1="693.1" x2="396.2" y2="693.1" stroke="#333" stroke-width="1"/>
<text x="389.8" y="695.1" font-size="7.6" font-weight="bold" text-anchor="end" fill="#000" >20</text>
<line x1="392.9" y1="718.2" x2="396.2" y2="718.2" stroke="#333" stroke-width="1"/>
<text x="389.8" y="720.2" font-size="7.6" font-weight="bold" text-anchor="end" fill="#000" >15</text>
<line x1="392.9" y1="743.3" x2="396.2" y2="743.3" stroke="#333" stroke-width="1"/>
<text x="389.8" y="745.3" font-size="7.6" font-weight="bold" text-anchor="end" fill="#000" >10</text>
<line x1="392.9" y1="767.9" x2="396.2" y2="767.9" stroke="#333" stroke-width="1"/>
<text x="389.8" y="769.9" font-size="7.6" font-weight="bold" text-anchor="end" fill="#000" >5</text>
<line x1="392.9" y1="793.0" x2="396.2" y2="793.0" stroke="#333" stroke-width="1"/>
<text x="389.8" y="795.0" font-size="7.6" font-weight="bold" text-anchor="end" fill="#000" >0</text>
<line x1="396.2" y1="793.0" x2="548.0" y2="793.0" stroke="#333" stroke-width="1.3"/>
<text x="378.8" y="743.0" font-size="8.5" font-weight="bold" text-anchor="middle" fill="#000" transform="rotate(-90 378.8 743.0)" >%</text>
<line x1="411.7" y1="716.4" x2="411.7" y2="703.9" stroke="#808080" stroke-width="1"/>
<line x1="408.8" y1="703.9" x2="414.6" y2="703.9" stroke="#808080" stroke-width="1"/>
<rect x="405.2" y="716.4" width="13.0" height="76.6" fill="#000" stroke="none" stroke-width="1"/>
<line x1="430.3" y1="727.7" x2="430.3" y2="717.7" stroke="#808080" stroke-width="1"/>
<line x1="427.5" y1="717.7" x2="433.1" y2="717.7" stroke="#808080" stroke-width="1"/>
<rect x="424.6" y="728.3" width="11.4" height="64.7" fill="#fff" stroke="#000" stroke-width="1.2"/>
<line x1="461.4" y1="750.3" x2="461.4" y2="743.5" stroke="#808080" stroke-width="1"/>
<line x1="458.5" y1="743.5" x2="464.4" y2="743.5" stroke="#808080" stroke-width="1"/>
<rect x="454.9" y="750.3" width="13.1" height="42.7" fill="#000" stroke="none" stroke-width="1"/>
<line x1="479.8" y1="759.9" x2="479.8" y2="752.8" stroke="#808080" stroke-width="1"/>
<line x1="476.9" y1="752.8" x2="482.6" y2="752.8" stroke="#808080" stroke-width="1"/>
<rect x="474.1" y="760.5" width="11.3" height="32.5" fill="#fff" stroke="#000" stroke-width="1.2"/>
<line x1="510.6" y1="765.9" x2="510.6" y2="764.5" stroke="#808080" stroke-width="1"/>
<line x1="507.8" y1="764.5" x2="513.4" y2="764.5" stroke="#808080" stroke-width="1"/>
<rect x="504.3" y="765.9" width="12.6" height="27.1" fill="#000" stroke="none" stroke-width="1"/>
<line x1="529.5" y1="766.1" x2="529.5" y2="764.5" stroke="#808080" stroke-width="1"/>
<line x1="526.6" y1="764.5" x2="532.3" y2="764.5" stroke="#808080" stroke-width="1"/>
<rect x="523.8" y="766.7" width="11.3" height="26.3" fill="#fff" stroke="#000" stroke-width="1.2"/>
<line x1="411.5" y1="699.6" x2="425.8" y2="699.6" stroke="#777" stroke-width="1.2"/>
<text x="418.6" y="701.4" font-size="10" font-weight="bold" text-anchor="middle" fill="#000" >*</text>
<text x="405.2" y="804.5" font-size="7.2" font-weight="bold" textLength="37.5" lengthAdjust="spacingAndGlyphs">CD4<tspan dy="-2.8" font-size="5.8">+</tspan><tspan dy="2.8">Tbet</tspan><tspan dy="-2.8" font-size="5.8"> +</tspan></text>
<text x="455.4" y="804.5" font-size="7.2" font-weight="bold" textLength="42.5" lengthAdjust="spacingAndGlyphs">CD4<tspan dy="-2.8" font-size="5.8">+</tspan><tspan dy="2.8">GATA3</tspan><tspan dy="-2.8" font-size="5.8">+</tspan></text>
<text x="505.6" y="804.5" font-size="7.2" font-weight="bold" textLength="42.8" lengthAdjust="spacingAndGlyphs">CD4<tspan dy="-2.8" font-size="5.8">+</tspan><tspan dy="2.8">RORγt</tspan><tspan dy="-2.8" font-size="5.8">+</tspan></text>
<line x1="580.0" y1="692.9" x2="580.0" y2="791.9" stroke="#333" stroke-width="1.3"/>
<line x1="576.7" y1="692.9" x2="580.0" y2="692.9" stroke="#333" stroke-width="1"/>
<text x="574.2" y="694.9" font-size="7.6" font-weight="bold" text-anchor="end" fill="#000" >20</text>
<line x1="576.7" y1="718.2" x2="580.0" y2="718.2" stroke="#333" stroke-width="1"/>
<text x="574.2" y="720.2" font-size="7.6" font-weight="bold" text-anchor="end" fill="#000" >15</text>
<line x1="576.7" y1="742.9" x2="580.0" y2="742.9" stroke="#333" stroke-width="1"/>
<text x="574.2" y="744.9" font-size="7.6" font-weight="bold" text-anchor="end" fill="#000" >10</text>
<line x1="576.7" y1="767.7" x2="580.0" y2="767.7" stroke="#333" stroke-width="1"/>
<text x="574.2" y="769.7" font-size="7.6" font-weight="bold" text-anchor="end" fill="#000" >5</text>
<line x1="576.7" y1="791.9" x2="580.0" y2="791.9" stroke="#333" stroke-width="1"/>
<text x="574.2" y="793.9" font-size="7.6" font-weight="bold" text-anchor="end" fill="#000" >0</text>
<line x1="580.0" y1="791.9" x2="724.7" y2="791.9" stroke="#333" stroke-width="1.3"/>
<text x="562.0" y="742.8" font-size="8.5" font-weight="bold" text-anchor="middle" fill="#000" transform="rotate(-90 562.0 742.8)" >%</text>
<line x1="594.9" y1="734.3" x2="594.9" y2="718.2" stroke="#808080" stroke-width="1"/>
<line x1="591.8" y1="718.2" x2="598.0" y2="718.2" stroke="#808080" stroke-width="1"/>
<rect x="588.0" y="734.3" width="13.8" height="57.6" fill="#000" stroke="none" stroke-width="1"/>
<line x1="614.0" y1="740.9" x2="614.0" y2="705.2" stroke="#808080" stroke-width="1"/>
<line x1="611.1" y1="705.2" x2="616.9" y2="705.2" stroke="#808080" stroke-width="1"/>
<rect x="608.1" y="741.5" width="11.8" height="50.4" fill="#fff" stroke="#000" stroke-width="1.2"/>
<line x1="645.3" y1="747.6" x2="645.3" y2="739.5" stroke="#808080" stroke-width="1"/>
<line x1="642.4" y1="739.5" x2="648.2" y2="739.5" stroke="#808080" stroke-width="1"/>
<rect x="638.8" y="747.6" width="13.0" height="44.3" fill="#000" stroke="none" stroke-width="1"/>
<line x1="664.0" y1="769.5" x2="664.0" y2="762.5" stroke="#808080" stroke-width="1"/>
<line x1="661.1" y1="762.5" x2="667.0" y2="762.5" stroke="#808080" stroke-width="1"/>
<rect x="658.1" y="770.1" width="11.9" height="21.8" fill="#fff" stroke="#000" stroke-width="1.2"/>
<line x1="694.8" y1="743.7" x2="694.8" y2="735.1" stroke="#808080" stroke-width="1"/>
<line x1="691.9" y1="735.1" x2="697.7" y2="735.1" stroke="#808080" stroke-width="1"/>
<rect x="688.3" y="743.7" width="13.0" height="48.2" fill="#000" stroke="none" stroke-width="1"/>
<line x1="713.0" y1="759.9" x2="713.0" y2="732.0" stroke="#808080" stroke-width="1"/>
<line x1="710.1" y1="732.0" x2="715.9" y2="732.0" stroke="#808080" stroke-width="1"/>
<rect x="707.1" y="760.5" width="11.8" height="31.4" fill="#fff" stroke="#000" stroke-width="1.2"/>
<line x1="646.1" y1="736.4" x2="660.1" y2="736.4" stroke="#777" stroke-width="1.2"/>
<text x="653.1" y="738.2" font-size="10" font-weight="bold" text-anchor="middle" fill="#000" >*</text>
<text x="588.8" y="804.5" font-size="7.2" font-weight="bold" textLength="37.5" lengthAdjust="spacingAndGlyphs">CD4<tspan dy="-2.8" font-size="5.8">+</tspan><tspan dy="2.8">Tbet</tspan><tspan dy="-2.8" font-size="5.8"> +</tspan></text>
<text x="639.3" y="804.5" font-size="7.2" font-weight="bold" textLength="42.5" lengthAdjust="spacingAndGlyphs">CD4<tspan dy="-2.8" font-size="5.8">+</tspan><tspan dy="2.8">GATA3</tspan><tspan dy="-2.8" font-size="5.8">+</tspan></text>
<text x="688.3" y="804.5" font-size="7.2" font-weight="bold" textLength="42.8" lengthAdjust="spacingAndGlyphs">CD4<tspan dy="-2.8" font-size="5.8">+</tspan><tspan dy="2.8">RORγt</tspan><tspan dy="-2.8" font-size="5.8">+</tspan></text>
<text x="0.0" y="835.6" font-size="20" font-weight="bold" text-anchor="start" fill="#000" >e</text>
<text x="117.8" y="837.9" font-size="12" font-weight="bold" text-anchor="middle" fill="#000" textLength="127.0" lengthAdjust="spacingAndGlyphs" >Adoptively transferred</text>
<text x="67.4" y="850.9" font-size="12" font-weight="bold" textLength="104.8" lengthAdjust="spacingAndGlyphs">donor CD4<tspan dy="-4.5" font-size="7">+</tspan><tspan dy="4.5"> T cells</tspan></text>
<line x1="54.3" y1="861.5" x2="54.3" y2="964.4" stroke="#333" stroke-width="1.3"/>
<line x1="51.3" y1="861.5" x2="54.3" y2="861.5" stroke="#333" stroke-width="1"/>
<text x="49.3" y="864.3" font-size="8" font-weight="bold" text-anchor="end" fill="#000" >80</text>
<line x1="51.3" y1="887.3" x2="54.3" y2="887.3" stroke="#333" stroke-width="1"/>
<text x="49.3" y="890.1" font-size="8" font-weight="bold" text-anchor="end" fill="#000" >60</text>
<line x1="51.3" y1="912.9" x2="54.3" y2="912.9" stroke="#333" stroke-width="1"/>
<text x="49.3" y="915.7" font-size="8" font-weight="bold" text-anchor="end" fill="#000" >40</text>
<line x1="51.3" y1="938.8" x2="54.3" y2="938.8" stroke="#333" stroke-width="1"/>
<text x="49.3" y="941.6" font-size="8" font-weight="bold" text-anchor="end" fill="#000" >20</text>
<line x1="51.3" y1="964.4" x2="54.3" y2="964.4" stroke="#333" stroke-width="1"/>
<text x="49.3" y="967.2" font-size="8" font-weight="bold" text-anchor="end" fill="#000" >0</text>
<line x1="54.3" y1="964.4" x2="208.9" y2="964.4" stroke="#333" stroke-width="1.3"/>
<text x="35" y="914" font-size="6.6" font-weight="bold" text-anchor="middle" transform="rotate(-90 35 914)" textLength="93" lengthAdjust="spacingAndGlyphs">CD45.2<tspan dy="-2" font-size="4.5">+</tspan><tspan dy="2">CD4</tspan><tspan dy="-2" font-size="4.5">+</tspan><tspan dy="2">IFN-γ</tspan><tspan dy="-2" font-size="4.5">+</tspan><tspan dy="2"> cells(%)</tspan></text>
<line x1="66.5" y1="878.3" x2="66.5" y2="874.0" stroke="#808080" stroke-width="1"/>
<line x1="64.2" y1="874.0" x2="68.8" y2="874.0" stroke="#808080" stroke-width="1"/>
<rect x="61.5" y="878.3" width="10.0" height="86.1" fill="#000" stroke="none" stroke-width="1"/>
<line x1="81.0" y1="905.4" x2="81.0" y2="899.6" stroke="#808080" stroke-width="1"/>
<line x1="78.8" y1="899.6" x2="83.3" y2="899.6" stroke="#808080" stroke-width="1"/>
<rect x="76.6" y="906.0" width="8.9" height="58.4" fill="#fff" stroke="#000" stroke-width="1.2"/>
<line x1="104.7" y1="890.8" x2="104.7" y2="887.0" stroke="#808080" stroke-width="1"/>
<line x1="102.4" y1="887.0" x2="106.9" y2="887.0" stroke="#808080" stroke-width="1"/>
<rect x="99.6" y="890.8" width="10.1" height="73.6" fill="#000" stroke="none" stroke-width="1"/>
<line x1="119.2" y1="883.3" x2="119.2" y2="878.3" stroke="#808080" stroke-width="1"/>
<line x1="117.0" y1="878.3" x2="121.5" y2="878.3" stroke="#808080" stroke-width="1"/>
<rect x="114.8" y="883.9" width="8.8" height="80.5" fill="#fff" stroke="#000" stroke-width="1.2"/>
<line x1="144.3" y1="882.3" x2="144.3" y2="879.0" stroke="#808080" stroke-width="1"/>
<line x1="142.1" y1="879.0" x2="146.6" y2="879.0" stroke="#808080" stroke-width="1"/>
<rect x="139.3" y="882.3" width="10.0" height="82.1" fill="#000" stroke="none" stroke-width="1"/>
<line x1="158.9" y1="897.1" x2="158.9" y2="893.0" stroke="#808080" stroke-width="1"/>
<line x1="156.7" y1="893.0" x2="161.2" y2="893.0" stroke="#808080" stroke-width="1"/>
<rect x="154.5" y="897.7" width="8.8" height="66.7" fill="#fff" stroke="#000" stroke-width="1.2"/>
<line x1="181.5" y1="958.8" x2="181.5" y2="957.0" stroke="#808080" stroke-width="1"/>
<line x1="179.2" y1="957.0" x2="183.8" y2="957.0" stroke="#808080" stroke-width="1"/>
<rect x="176.5" y="958.8" width="10.0" height="5.6" fill="#000" stroke="none" stroke-width="1"/>
<rect x="191.2" y="963.0" width="8.8" height="1.4" fill="#fff" stroke="#000" stroke-width="1.2"/>
<line x1="67.8" y1="867.2" x2="81.6" y2="867.2" stroke="#777" stroke-width="1.2"/>
<text x="74.7" y="869.0" font-size="10" font-weight="bold" text-anchor="middle" fill="#000" >**</text>
<line x1="145.1" y1="873.5" x2="156.9" y2="873.5" stroke="#777" stroke-width="1.2"/>
<text x="151.0" y="875.3" font-size="10" font-weight="bold" text-anchor="middle" fill="#000" >*</text>
<line x1="181.3" y1="953.6" x2="195.1" y2="953.6" stroke="#777" stroke-width="1.2"/>
<text x="188.2" y="955.4" font-size="10" font-weight="bold" text-anchor="middle" fill="#000" >*</text>
<text x="74.7" y="976.3" font-size="7.4" font-weight="bold" text-anchor="middle" fill="#000" >Spleen</text>
<line x1="74.7" y1="964.4" x2="74.7" y2="966.6" stroke="#444" stroke-width="0.9"/>
<text x="112.0" y="976.3" font-size="7.4" font-weight="bold" text-anchor="middle" fill="#000" >Liver</text>
<line x1="112.0" y1="964.4" x2="112.0" y2="966.6" stroke="#444" stroke-width="0.9"/>
<text x="150.6" y="976.3" font-size="7.4" font-weight="bold" text-anchor="middle" fill="#000" >Lung</text>
<line x1="150.6" y1="964.4" x2="150.6" y2="966.6" stroke="#444" stroke-width="0.9"/>
<text x="188.8" y="976.3" font-size="7.4" font-weight="bold" text-anchor="middle" fill="#000" >IEL</text>
<line x1="188.8" y1="964.4" x2="188.8" y2="966.6" stroke="#444" stroke-width="0.9"/>
<text x="230.4" y="835.8" font-size="20" font-weight="bold" text-anchor="start" fill="#000" >f</text>
<text x="335.8" y="845.1" font-size="14.3" font-weight="bold" text-anchor="middle" fill="#000" textLength="108.2" lengthAdjust="spacingAndGlyphs" >Donor BM cells</text>
<line x1="262.8" y1="864.5" x2="262.8" y2="964.4" stroke="#333" stroke-width="1.3"/>
<line x1="259.8" y1="864.5" x2="262.8" y2="864.5" stroke="#333" stroke-width="1"/>
<text x="256.2" y="867.2" font-size="7.8" font-weight="bold" text-anchor="end" fill="#000" >100</text>
<line x1="259.8" y1="884.5" x2="262.8" y2="884.5" stroke="#333" stroke-width="1"/>
<text x="256.2" y="887.2" font-size="7.8" font-weight="bold" text-anchor="end" fill="#000" >80</text>
<line x1="259.8" y1="904.6" x2="262.8" y2="904.6" stroke="#333" stroke-width="1"/>
<text x="256.2" y="907.3" font-size="7.8" font-weight="bold" text-anchor="end" fill="#000" >60</text>
<line x1="259.8" y1="924.7" x2="262.8" y2="924.7" stroke="#333" stroke-width="1"/>
<text x="256.2" y="927.4" font-size="7.8" font-weight="bold" text-anchor="end" fill="#000" >40</text>
<line x1="259.8" y1="944.8" x2="262.8" y2="944.8" stroke="#333" stroke-width="1"/>
<text x="256.2" y="947.5" font-size="7.8" font-weight="bold" text-anchor="end" fill="#000" >20</text>
<line x1="259.8" y1="964.4" x2="262.8" y2="964.4" stroke="#333" stroke-width="1"/>
<text x="256.2" y="967.1" font-size="7.8" font-weight="bold" text-anchor="end" fill="#000" >0</text>
<line x1="262.8" y1="964.4" x2="414.2" y2="964.4" stroke="#333" stroke-width="1.3"/>
<text x="236.5" y="915.2" font-size="6.6" font-weight="bold" text-anchor="middle" transform="rotate(-90 236.5 915.2)" textLength="97.5" lengthAdjust="spacingAndGlyphs">CD45.1<tspan dy="-2" font-size="4.5">+</tspan><tspan dy="2">H2K</tspan><tspan dy="-2" font-size="4.5">b+</tspan><tspan dy="2">IFN-γ</tspan><tspan dy="-2" font-size="4.5">+</tspan><tspan dy="2"> cells(%)</tspan></text>
<line x1="274.5" y1="945.5" x2="274.5" y2="944.5" stroke="#808080" stroke-width="1"/>
<line x1="272.5" y1="944.5" x2="276.6" y2="944.5" stroke="#808080" stroke-width="1"/>
<rect x="269.9" y="945.5" width="9.3" height="18.9" fill="#000" stroke="none" stroke-width="1"/>
<line x1="288.2" y1="930.0" x2="288.2" y2="921.7" stroke="#808080" stroke-width="1"/>
<line x1="286.1" y1="921.7" x2="290.4" y2="921.7" stroke="#808080" stroke-width="1"/>
<rect x="284.1" y="930.6" width="8.3" height="33.8" fill="#fff" stroke="#000" stroke-width="1.2"/>
<line x1="312.1" y1="934.2" x2="312.1" y2="931.3" stroke="#808080" stroke-width="1"/>
<line x1="310.1" y1="931.3" x2="314.2" y2="931.3" stroke="#808080" stroke-width="1"/>
<rect x="307.5" y="934.2" width="9.3" height="30.2" fill="#000" stroke="none" stroke-width="1"/>
<line x1="325.9" y1="937.5" x2="325.9" y2="934.2" stroke="#808080" stroke-width="1"/>
<line x1="323.7" y1="934.2" x2="328.0" y2="934.2" stroke="#808080" stroke-width="1"/>
<rect x="321.7" y="938.1" width="8.3" height="26.3" fill="#fff" stroke="#000" stroke-width="1.2"/>
<line x1="349.7" y1="948.0" x2="349.7" y2="944.3" stroke="#808080" stroke-width="1"/>
<line x1="347.4" y1="944.3" x2="351.9" y2="944.3" stroke="#808080" stroke-width="1"/>
<rect x="344.7" y="948.0" width="10.0" height="16.4" fill="#000" stroke="none" stroke-width="1"/>
<line x1="364.0" y1="936.8" x2="364.0" y2="933.0" stroke="#808080" stroke-width="1"/>
<line x1="361.8" y1="933.0" x2="366.2" y2="933.0" stroke="#808080" stroke-width="1"/>
<rect x="359.6" y="937.4" width="8.8" height="27.0" fill="#fff" stroke="#000" stroke-width="1.2"/>
<line x1="387.4" y1="899.9" x2="387.4" y2="892.1" stroke="#808080" stroke-width="1"/>
<line x1="385.1" y1="892.1" x2="389.6" y2="892.1" stroke="#808080" stroke-width="1"/>
<rect x="382.3" y="899.9" width="10.1" height="64.5" fill="#000" stroke="none" stroke-width="1"/>
<line x1="401.6" y1="884.8" x2="401.6" y2="875.8" stroke="#808080" stroke-width="1"/>
<line x1="399.4" y1="875.8" x2="403.9" y2="875.8" stroke="#808080" stroke-width="1"/>
<rect x="397.2" y="885.4" width="8.9" height="79.0" fill="#fff" stroke="#000" stroke-width="1.2"/>
<text x="282.3" y="976.3" font-size="7.4" font-weight="bold" text-anchor="middle" fill="#000" >Spleen</text>
<line x1="282.3" y1="964.4" x2="282.3" y2="966.6" stroke="#444" stroke-width="0.9"/>
<text x="319.3" y="976.3" font-size="7.4" font-weight="bold" text-anchor="middle" fill="#000" >Liver</text>
<line x1="319.3" y1="964.4" x2="319.3" y2="966.6" stroke="#444" stroke-width="0.9"/>
<text x="356.8" y="976.3" font-size="7.4" font-weight="bold" text-anchor="middle" fill="#000" >Lung</text>
<line x1="356.8" y1="964.4" x2="356.8" y2="966.6" stroke="#444" stroke-width="0.9"/>
<text x="394.8" y="976.3" font-size="7.4" font-weight="bold" text-anchor="middle" fill="#000" >IEL</text>
<line x1="394.8" y1="964.4" x2="394.8" y2="966.6" stroke="#444" stroke-width="0.9"/>
<text x="443.6" y="835.4" font-size="20" font-weight="bold" text-anchor="start" fill="#000" >g</text>
<line x1="487.5" y1="838.5" x2="487.5" y2="962.4" stroke="#333" stroke-width="1.3"/>
<line x1="485.0" y1="838.5" x2="487.5" y2="838.5" stroke="#333" stroke-width="1"/>
<text x="480.5" y="841.4" font-size="8.4" font-weight="bold" text-anchor="end" fill="#000" >250</text>
<line x1="485.0" y1="863.3" x2="487.5" y2="863.3" stroke="#333" stroke-width="1"/>
<text x="480.5" y="866.2" font-size="8.4" font-weight="bold" text-anchor="end" fill="#000" >200</text>
<line x1="485.0" y1="888.1" x2="487.5" y2="888.1" stroke="#333" stroke-width="1"/>
<text x="480.5" y="891.0" font-size="8.4" font-weight="bold" text-anchor="end" fill="#000" >150</text>
<line x1="485.0" y1="912.9" x2="487.5" y2="912.9" stroke="#333" stroke-width="1"/>
<text x="480.5" y="915.8" font-size="8.4" font-weight="bold" text-anchor="end" fill="#000" >100</text>
<line x1="485.0" y1="937.7" x2="487.5" y2="937.7" stroke="#333" stroke-width="1"/>
<text x="480.5" y="940.6" font-size="8.4" font-weight="bold" text-anchor="end" fill="#000" >50</text>
<line x1="485.0" y1="962.4" x2="487.5" y2="962.4" stroke="#333" stroke-width="1"/>
<text x="480.5" y="965.3" font-size="8.4" font-weight="bold" text-anchor="end" fill="#000" >0</text>
<line x1="487.5" y1="962.4" x2="686.3" y2="962.4" stroke="#333" stroke-width="1.3"/>
<text x="451.8" y="900.5" font-size="10" font-weight="bold" text-anchor="middle" fill="#000" textLength="25.3" lengthAdjust="spacingAndGlyphs" transform="rotate(-90 451.8 900.5)" >pg/ml</text>
<line x1="498.0" y1="890.8" x2="498.0" y2="862.0" stroke="#808080" stroke-width="1"/>
<line x1="496.0" y1="862.0" x2="500.1" y2="862.0" stroke="#808080" stroke-width="1"/>
<rect x="493.4" y="890.8" width="9.3" height="71.6" fill="#000" stroke="none" stroke-width="1"/>
<line x1="510.2" y1="908.6" x2="510.2" y2="879.5" stroke="#808080" stroke-width="1"/>
<line x1="508.2" y1="879.5" x2="512.2" y2="879.5" stroke="#808080" stroke-width="1"/>
<rect x="506.3" y="909.2" width="7.8" height="53.2" fill="#fff" stroke="#000" stroke-width="1.2"/>
<line x1="530.9" y1="955.1" x2="530.9" y2="953.5" stroke="#808080" stroke-width="1"/>
<line x1="528.9" y1="953.5" x2="532.9" y2="953.5" stroke="#808080" stroke-width="1"/>
<rect x="526.5" y="955.1" width="8.8" height="7.3" fill="#000" stroke="none" stroke-width="1"/>
<line x1="543.0" y1="956.3" x2="543.0" y2="954.0" stroke="#808080" stroke-width="1"/>
<line x1="541.0" y1="954.0" x2="545.0" y2="954.0" stroke="#808080" stroke-width="1"/>
<rect x="539.2" y="956.9" width="7.6" height="5.5" fill="#fff" stroke="#000" stroke-width="1.2"/>
<line x1="563.8" y1="929.2" x2="563.8" y2="925.0" stroke="#808080" stroke-width="1"/>
<line x1="561.7" y1="925.0" x2="565.8" y2="925.0" stroke="#808080" stroke-width="1"/>
<rect x="559.1" y="929.2" width="9.3" height="33.2" fill="#000" stroke="none" stroke-width="1"/>
<line x1="576.1" y1="942.3" x2="576.1" y2="939.7" stroke="#808080" stroke-width="1"/>
<line x1="574.1" y1="939.7" x2="578.1" y2="939.7" stroke="#808080" stroke-width="1"/>
<rect x="572.3" y="942.9" width="7.6" height="19.5" fill="#fff" stroke="#000" stroke-width="1.2"/>
<line x1="596.7" y1="953.6" x2="596.7" y2="952.5" stroke="#808080" stroke-width="1"/>
<line x1="594.7" y1="952.5" x2="598.7" y2="952.5" stroke="#808080" stroke-width="1"/>
<rect x="592.3" y="953.6" width="8.8" height="8.8" fill="#000" stroke="none" stroke-width="1"/>
<rect x="605.4" y="957.9" width="7.6" height="4.5" fill="#fff" stroke="#000" stroke-width="1.2"/>
<line x1="629.8" y1="923.7" x2="629.8" y2="913.7" stroke="#808080" stroke-width="1"/>
<line x1="627.7" y1="913.7" x2="631.9" y2="913.7" stroke="#808080" stroke-width="1"/>
<rect x="625.2" y="923.7" width="9.2" height="38.7" fill="#000" stroke="none" stroke-width="1"/>
<line x1="642.3" y1="935.5" x2="642.3" y2="930.5" stroke="#808080" stroke-width="1"/>
<line x1="640.3" y1="930.5" x2="644.4" y2="930.5" stroke="#808080" stroke-width="1"/>
<rect x="638.4" y="936.1" width="7.9" height="26.3" fill="#fff" stroke="#000" stroke-width="1.2"/>
<rect x="658.2" y="959.3" width="8.8" height="3.1" fill="#000" stroke="none" stroke-width="1"/>
<rect x="671.3" y="959.4" width="7.6" height="3.0" fill="#fff" stroke="#000" stroke-width="1.2"/>
<line x1="564.2" y1="922.4" x2="577.5" y2="922.4" stroke="#777" stroke-width="1.2"/>
<text x="570.9" y="924.4" font-size="12" font-weight="bold" text-anchor="middle" fill="#000" >*</text>
<line x1="596.3" y1="948.6" x2="610.1" y2="948.6" stroke="#777" stroke-width="1.2"/>
<text x="603.2" y="950.6" font-size="12" font-weight="bold" text-anchor="middle" fill="#000" >*</text>
<text x="506.0" y="974.5" font-size="9.4" font-weight="bold" text-anchor="end" fill="#000" transform="rotate(-45 506.0 974.5)" >IL-2</text>
<text x="538.8" y="974.5" font-size="9.4" font-weight="bold" text-anchor="end" fill="#000" transform="rotate(-45 538.8 974.5)" >IL-4</text>
<text x="571.8" y="974.5" font-size="9.4" font-weight="bold" text-anchor="end" fill="#000" transform="rotate(-45 571.8 974.5)" >IL-6</text>
<text x="608.5" y="974.5" font-size="9.4" font-weight="bold" text-anchor="end" fill="#000" transform="rotate(-45 608.5 974.5)" >IFN-γ</text>
<text x="641.0" y="974.5" font-size="9.4" font-weight="bold" text-anchor="end" fill="#000" transform="rotate(-45 641.0 974.5)" >TNF-α</text>
<text x="672.0" y="974.5" font-size="9.4" font-weight="bold" text-anchor="end" fill="#000" transform="rotate(-45 672.0 974.5)" >IL-10</text>
<line x1="504.2" y1="962.4" x2="504.2" y2="965.4" stroke="#444" stroke-width="0.9"/>
<line x1="537.0" y1="962.4" x2="537.0" y2="965.4" stroke="#444" stroke-width="0.9"/>
<line x1="570.0" y1="962.4" x2="570.0" y2="965.4" stroke="#444" stroke-width="0.9"/>
<line x1="603.0" y1="962.4" x2="603.0" y2="965.4" stroke="#444" stroke-width="0.9"/>
<line x1="636.0" y1="962.4" x2="636.0" y2="965.4" stroke="#444" stroke-width="0.9"/>
<line x1="669.0" y1="962.4" x2="669.0" y2="965.4" stroke="#444" stroke-width="0.9"/>
<rect x="651.5" y="835.2" width="13.5" height="11.4" fill="#000" stroke="none" stroke-width="1"/>
<rect x="652.1" y="850.6" width="12.3" height="9.6" fill="#fff" stroke="#000" stroke-width="1.2"/>
<text x="672.2" y="846.5" font-size="10" font-weight="normal" textLength="47.7" lengthAdjust="spacingAndGlyphs">WT CD4<tspan dy="-4.4" font-size="7">+</tspan><tspan dy="4.4">T</tspan></text>
<text x="672.2" y="860.6" font-size="10" font-weight="normal" textLength="59.6" lengthAdjust="spacingAndGlyphs">IL-17<tspan dy="-4.4" font-size="6.5">-/-</tspan><tspan dy="4.4">CD4</tspan><tspan dy="-4.4" font-size="7">+</tspan><tspan dy="4.4">T</tspan></text>
</svg>
</body></html>
